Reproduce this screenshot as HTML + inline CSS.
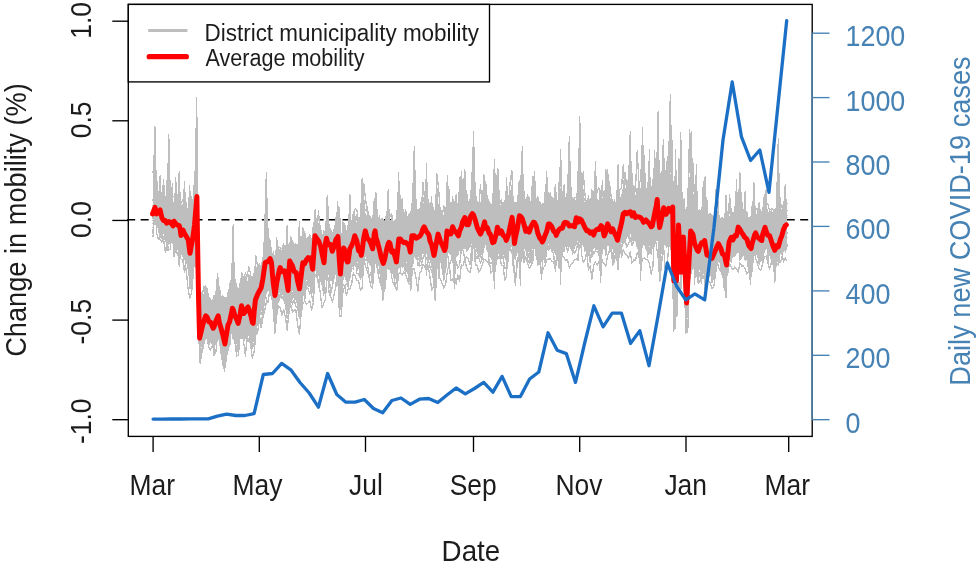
<!DOCTYPE html>
<html lang="en"><head><meta charset="utf-8"><title>Mobility and COVID-19 cases</title>
<style>html,body{margin:0;padding:0;background:#fff}svg text{font-family:"Liberation Sans",Arial,Helvetica,sans-serif}body{width:979px;height:565px;overflow:hidden}</style>
</head><body>
<svg width="979" height="565" viewBox="0 0 979 565" style="display:block;filter:blur(0.4px)">
<rect width="979" height="565" fill="#fff"/>
<line x1="127.2" y1="219.8" x2="812.2" y2="219.8" stroke="#000" stroke-width="1.5" stroke-dasharray="8 5.46"/>
<path d="M153.1,191.3 154.8,194.6 156.6,195.7 158.3,190.4 160.1,194.5 161.8,202.0 163.5,195.3 165.3,197.4 167.0,205.6 168.8,202.4 170.5,201.8 172.3,203.1 174.0,204.5 175.7,203.2 177.5,202.6 179.2,207.7 181.0,207.8 182.7,208.3 184.4,212.1 186.2,211.7 187.9,219.0 189.7,210.8 191.4,211.8 193.2,214.8 194.9,217.2 196.6,220.8 198.4,231.2 200.1,301.0 201.9,301.5 203.6,296.0 205.3,298.6 207.1,297.7 208.8,295.7 210.6,302.7 212.3,299.0 214.0,296.7 215.8,300.1 217.5,297.7 219.3,303.2 221.0,298.5 222.8,294.6 224.5,297.3 226.2,296.8 228.0,295.4 229.7,296.8 231.5,292.2 233.2,288.6 234.9,280.9 236.7,283.8 238.4,295.1 240.2,284.3 241.9,284.4 243.7,277.8 245.4,275.7 247.1,283.1 248.9,280.7 250.6,278.0 252.4,276.3 254.1,272.0 255.8,271.2 257.6,264.5 259.3,269.2 261.1,263.3 262.8,257.9 264.5,259.4 266.3,254.5 268.0,251.2 269.8,256.0 271.5,258.9 273.3,249.9 275.0,257.4 276.7,253.5 278.5,251.6 280.2,247.3 282.0,251.8 283.7,252.9 285.4,250.4 287.2,252.1 288.9,247.7 290.7,248.3 292.4,247.9 294.2,255.5 295.9,253.4 297.6,248.2 299.4,248.3 301.1,246.6 302.9,247.4 304.6,239.1 306.3,238.0 308.1,239.8 309.8,236.7 311.6,238.4 313.3,235.8 315.1,233.7 316.8,233.7 318.5,233.6 320.3,233.5 322.0,235.6 323.8,229.3 325.5,232.3 327.2,229.3 329.0,231.1 330.7,231.9 332.5,232.6 334.2,231.7 335.9,226.0 337.7,230.7 339.4,229.0 341.2,243.6 342.9,229.4 344.7,230.8 346.4,230.5 348.1,225.2 349.9,230.9 351.6,227.9 353.4,224.0 355.1,225.5 356.8,221.1 358.6,224.4 360.3,221.4 362.1,217.2 363.8,218.8 365.6,221.3 367.3,221.1 369.0,218.7 370.8,219.7 372.5,218.5 374.3,216.9 376.0,219.1 377.7,220.2 379.5,224.4 381.2,218.4 383.0,218.1 384.7,221.7 386.4,226.5 388.2,224.3 389.9,221.5 391.7,216.1 393.4,221.2 395.2,219.7 396.9,215.8 398.6,217.5 400.4,212.2 402.1,217.7 403.9,216.3 405.6,217.0 407.3,216.1 409.1,212.8 410.8,215.1 412.6,211.3 414.3,209.3 416.1,210.2 417.8,209.5 419.5,207.7 421.3,208.9 423.0,208.8 424.8,207.0 426.5,209.5 428.2,209.2 430.0,212.0 431.7,210.2 433.5,213.3 435.2,211.4 436.9,212.1 438.7,212.9 440.4,211.5 442.2,209.1 443.9,216.4 445.7,206.4 447.4,208.1 449.1,208.1 450.9,201.0 452.6,203.6 454.4,207.4 456.1,206.6 457.8,204.8 459.6,206.5 461.3,204.2 463.1,201.2 464.8,202.2 466.6,200.0 468.3,201.7 470.0,199.7 471.8,198.1 473.5,203.7 475.3,202.4 477.0,203.2 478.7,202.5 480.5,204.3 482.2,202.7 484.0,203.5 485.7,199.3 487.4,203.9 489.2,206.2 490.9,205.7 492.7,206.7 494.4,205.0 496.2,207.9 497.9,202.0 499.6,207.8 501.4,204.3 503.1,201.4 504.9,205.2 506.6,203.8 508.3,203.7 510.1,206.5 511.8,201.0 513.6,203.1 515.3,201.5 517.1,201.7 518.8,201.8 520.5,198.7 522.3,200.9 524.0,203.5 525.8,199.2 527.5,194.0 529.2,197.7 531.0,201.8 532.7,208.1 534.5,197.6 536.2,210.8 537.9,203.5 539.7,201.0 541.4,203.8 543.2,202.3 544.9,204.7 546.7,203.3 548.4,201.6 550.1,201.0 551.9,204.9 553.6,203.8 555.4,202.1 557.1,202.0 558.8,203.6 560.6,207.5 562.3,197.7 564.1,198.6 565.8,199.9 567.6,200.4 569.3,196.3 571.0,195.7 572.8,198.4 574.5,199.3 576.3,201.0 578.0,200.1 579.7,194.0 581.5,195.1 583.2,200.1 585.0,203.6 586.7,205.0 588.5,201.3 590.2,205.3 591.9,206.4 593.7,202.0 595.4,203.6 597.2,201.5 598.9,199.7 600.6,202.2 602.4,197.7 604.1,201.4 605.9,202.2 607.6,203.6 609.3,199.7 611.1,196.9 612.8,203.0 614.6,202.4 616.3,204.6 618.1,198.5 619.8,197.8 621.5,195.0 623.3,192.0 625.0,191.3 626.8,192.3 628.5,189.6 630.2,191.1 632.0,189.9 633.7,189.6 635.5,195.2 637.2,187.6 639.0,189.9 640.7,187.6 642.4,194.0 644.2,189.6 645.9,188.7 647.7,187.0 649.4,188.8 651.1,186.6 652.9,183.2 654.6,180.2 656.4,184.5 658.1,184.1 659.8,182.8 661.6,185.5 663.3,185.7 665.1,185.9 666.8,182.2 668.6,182.8 670.3,186.2 672.0,188.6 673.8,190.3 675.5,190.5 677.3,203.1 679.0,206.4 680.7,203.7 682.5,209.6 684.2,210.1 686.0,208.4 687.7,203.8 689.5,204.2 691.2,201.6 692.9,196.6 694.7,205.1 696.4,206.7 698.2,212.0 699.9,211.6 701.6,214.6 703.4,207.0 705.1,208.5 706.9,215.6 708.6,214.4 710.3,212.7 712.1,214.4 713.8,216.4 715.6,216.2 717.3,217.4 719.1,220.5 720.8,217.6 722.5,216.8 724.3,219.2 726.0,208.0 727.8,218.1 729.5,217.1 731.2,216.2 733.0,210.5 734.7,214.0 736.5,213.7 738.2,214.2 740.0,217.7 741.7,212.2 743.4,214.1 745.2,213.8 746.9,212.9 748.7,217.8 750.4,216.1 752.1,218.9 753.9,216.4 755.6,217.6 757.4,210.7 759.1,205.7 760.8,210.2 762.6,211.3 764.3,212.5 766.1,211.2 767.8,211.6 769.6,213.5 771.3,208.7 773.0,213.9 774.8,208.4 776.5,211.4 778.3,213.2 780.0,211.8 781.7,209.1 783.5,207.1 785.2,209.2 787.0,205.0 L787.0,243.6 785.2,243.0 783.5,248.0 781.7,247.4 780.0,244.9 778.3,253.5 776.5,254.2 774.8,249.9 773.0,252.7 771.3,250.7 769.6,251.2 767.8,252.1 766.1,248.3 764.3,252.5 762.6,249.4 760.8,248.4 759.1,252.6 757.4,253.6 755.6,256.6 753.9,252.3 752.1,253.6 750.4,254.6 748.7,257.6 746.9,255.1 745.2,252.7 743.4,253.3 741.7,250.1 740.0,250.8 738.2,250.7 736.5,253.3 734.7,251.3 733.0,253.2 731.2,256.5 729.5,256.7 727.8,259.5 726.0,256.7 724.3,265.2 722.5,262.2 720.8,265.6 719.1,261.6 717.3,263.6 715.6,263.2 713.8,259.6 712.1,262.2 710.3,264.4 708.6,267.4 706.9,262.6 705.1,264.6 703.4,264.4 701.6,262.0 699.9,266.8 698.2,261.6 696.4,263.9 694.7,263.5 692.9,267.2 691.2,276.1 689.5,277.0 687.7,273.4 686.0,281.3 684.2,277.2 682.5,273.2 680.7,270.2 679.0,271.0 677.3,266.6 675.5,263.5 673.8,256.1 672.0,253.5 670.3,249.6 668.6,243.3 666.8,234.6 665.1,239.0 663.3,235.9 661.6,238.7 659.8,236.0 658.1,242.0 656.4,240.5 654.6,241.3 652.9,238.9 651.1,237.0 649.4,240.0 647.7,239.5 645.9,241.5 644.2,240.4 642.4,240.8 640.7,229.3 639.0,234.3 637.2,235.3 635.5,234.2 633.7,235.1 632.0,231.6 630.2,235.0 628.5,235.4 626.8,235.1 625.0,242.3 623.3,244.8 621.5,240.8 619.8,242.5 618.1,241.7 616.3,241.8 614.6,248.4 612.8,244.8 611.1,244.5 609.3,244.7 607.6,242.1 605.9,239.6 604.1,244.2 602.4,243.0 600.6,244.0 598.9,240.4 597.2,239.2 595.4,242.9 593.7,246.3 591.9,248.0 590.2,244.9 588.5,242.3 586.7,242.3 585.0,239.3 583.2,239.6 581.5,240.5 579.7,241.4 578.0,240.6 576.3,239.2 574.5,239.4 572.8,237.8 571.0,239.5 569.3,240.3 567.6,240.4 565.8,239.0 564.1,240.3 562.3,248.6 560.6,245.5 558.8,245.5 557.1,243.9 555.4,247.0 553.6,245.1 551.9,244.9 550.1,244.7 548.4,242.7 546.7,247.1 544.9,248.3 543.2,240.2 541.4,248.8 539.7,250.1 537.9,245.6 536.2,248.0 534.5,241.7 532.7,241.7 531.0,245.2 529.2,245.7 527.5,244.8 525.8,247.9 524.0,245.0 522.3,247.7 520.5,245.0 518.8,244.6 517.1,242.5 515.3,237.7 513.6,240.1 511.8,247.1 510.1,247.0 508.3,247.2 506.6,250.1 504.9,246.2 503.1,249.2 501.4,256.3 499.6,252.7 497.9,250.7 496.2,254.4 494.4,257.0 492.7,250.5 490.9,246.9 489.2,246.7 487.4,250.3 485.7,242.2 484.0,248.9 482.2,245.5 480.5,249.6 478.7,244.0 477.0,242.3 475.3,248.0 473.5,242.3 471.8,239.3 470.0,241.0 468.3,245.0 466.6,241.7 464.8,244.9 463.1,245.6 461.3,246.5 459.6,247.2 457.8,245.4 456.1,248.7 454.4,251.3 452.6,255.4 450.9,251.8 449.1,250.1 447.4,251.3 445.7,261.4 443.9,256.6 442.2,257.8 440.4,260.5 438.7,259.6 436.9,257.9 435.2,261.0 433.5,257.4 431.7,260.3 430.0,253.6 428.2,256.3 426.5,252.7 424.8,257.7 423.0,252.2 421.3,255.1 419.5,252.4 417.8,247.7 416.1,255.1 414.3,256.9 412.6,257.4 410.8,257.9 409.1,256.1 407.3,258.8 405.6,266.1 403.9,258.5 402.1,263.4 400.4,263.1 398.6,262.8 396.9,266.4 395.2,269.9 393.4,262.7 391.7,260.0 389.9,264.8 388.2,263.8 386.4,267.1 384.7,266.1 383.0,265.0 381.2,262.6 379.5,266.5 377.7,260.3 376.0,265.4 374.3,260.4 372.5,258.8 370.8,260.0 369.0,253.4 367.3,249.8 365.6,251.8 363.8,262.0 362.1,259.4 360.3,259.7 358.6,261.8 356.8,261.5 355.1,261.8 353.4,261.9 351.6,264.2 349.9,263.8 348.1,269.6 346.4,272.2 344.7,276.7 342.9,275.8 341.2,273.9 339.4,274.2 337.7,272.4 335.9,276.2 334.2,263.2 332.5,265.3 330.7,265.3 329.0,268.8 327.2,268.0 325.5,266.7 323.8,266.3 322.0,273.7 320.3,271.4 318.5,276.5 316.8,271.6 315.1,268.9 313.3,274.9 311.6,273.9 309.8,277.9 308.1,274.0 306.3,281.3 304.6,286.7 302.9,288.8 301.1,292.3 299.4,293.6 297.6,293.2 295.9,294.5 294.2,297.1 292.4,290.4 290.7,298.7 288.9,292.5 287.2,294.9 285.4,291.4 283.7,297.8 282.0,292.1 280.2,292.6 278.5,294.0 276.7,293.3 275.0,295.2 273.3,290.3 271.5,291.0 269.8,290.1 268.0,291.1 266.3,293.4 264.5,296.9 262.8,299.8 261.1,305.1 259.3,308.4 257.6,321.1 255.8,320.4 254.1,325.4 252.4,323.4 250.6,328.9 248.9,330.0 247.1,326.3 245.4,330.7 243.7,330.3 241.9,329.1 240.2,329.3 238.4,325.9 236.7,331.2 234.9,330.3 233.2,336.6 231.5,334.2 229.7,337.0 228.0,342.4 226.2,346.5 224.5,345.1 222.8,344.4 221.0,343.5 219.3,340.6 217.5,338.4 215.8,337.9 214.0,335.7 212.3,335.1 210.6,336.1 208.8,330.8 207.1,334.3 205.3,338.1 203.6,341.6 201.9,341.7 200.1,344.6 198.4,278.4 196.6,269.2 194.9,267.5 193.2,263.5 191.4,257.5 189.7,257.3 187.9,256.0 186.2,257.9 184.4,252.8 182.7,247.1 181.0,244.4 179.2,246.8 177.5,240.3 175.7,234.5 174.0,238.6 172.3,234.8 170.5,236.2 168.8,234.6 167.0,234.5 165.3,231.5 163.5,229.2 161.8,235.1 160.1,224.3 158.3,227.6 156.6,218.0 154.8,221.7 153.1,216.6Z" fill="#bebebe" stroke="none" shape-rendering="crispEdges"/>
<g transform="translate(153.1,0) scale(1.7414,1)" fill="none" stroke="#bebebe" stroke-width="1.33" stroke-linejoin="round" shape-rendering="crispEdges">
<path vector-effect="non-scaling-stroke" d="M0 211.0l1-84 1 80 1 5 1 2 1 7 1-8 1 7 1 3 1-12 1 9 1 5 1 4 1-22 1 21 1 1 1-2 1 4 1 0 1-3 1 6 1 12 1 3 1-23 1-10 1-36 1 108 1 50 1-19 1-4 1-11 1 14 1-3 1 6 1-1 1 3 1-6 1-7 1 9 1 1 1 9 1 19 1-15 1-17 1-5 1-11 1 2 1 9 1-2 1 12 1-27 1 13 1-4 1 2 1-1 1-1 1 10 1 0 1-7 1-12 1 3 1-18 1 5 1-8 1-13 1-17 1 11 1-6 1 10 1 23 1 10 1-12 1-11 1-4 1-1 1 3 1 2 1 15 1-10 1-18 1 4 1 2 1 5 1 8 1 14 1-19 1-16 1 3 1-2 1-2 1 5 1 2 1 2 1-30 1 1 1 6 1-6 1 17 1 15 1-24 1-8 1 6 1 7 1 3 1-8 1-10 1-4 1 28 1 11 1 4 1-26 1 9 1 2 1-35 1 28 1-9 1-10 1 6 1 13 1 3 1-36 1 13 1-1 1 0 1 7 1 2 1 8 1-36 1 20 1 3 1 12 1 5 1 6 1-3 1-10 1-7 1 3 1 6 1-4 1 16 1 0 1-25 1-15 1 18 1-3 1 5 1 3 1 7 1-10 1-9 1 1 1 2 1-3 1 12 1-14 1-5 1-14 1 10 1 9 1 8 1 7 1 5 1-8 1-15 1 4 1 3 1 14 1 1 1-9 1-22 1 11 1-4 1 0 1 1 1 2 1 0 1-2 1-3 1-10 1 1 1 2 1 3 1 8 1-50 1 32 1 6 1 10 1-8 1 16 1-11 1-5 1 6 1-2 1 9 1 3 1 5 1 54 1-65 1 5 1 2 1 0 1-6 1 13 1 3 1-6 1-22 1 8 1 18 1-3 1-9 1-20 1-6 1 22 1 11 1-31 1 26 1 3 1-7 1-20 1 13 1-3 1 12 1-7 1 17 1 0 1-9 1 1 1-7 1-7 1-1 1 5 1 6 1 2 1-1 1 4 1-11 1 5 1-5 1 3 1-41 1 11 1 30 1-6 1-3 1 6 1-3 1-3 1-22 1 35 1-8 1 5 1-5 1 8 1-9 1 5 1-10 1 7 1 1 1-7 1 9 1 4 1-10 1-1 1 3 1 1 1 9 1 0 1 5 1-17 1-1 1-12 1 5 1 1 1-4 1-72 1 83 1-7 1-4 1 6 1-3 1 3 1 3 1-2 1-1 1 0 1-8 1 12 1-1 1-15 1-17 1-30 1 22 1 41 1-5 1-8 1-4 1 4 1-16 1-2 1 105 1-8 1-25 1-47 1 22 1 15 1 6 1 16 1 16 1-42 1-20 1-17 1 29 1 15 1-4 1-2 1 6 1-16 1-6 1 22 1-2 1-1 1 9 1 3 1-12 1-5 1-3 1 7 1 7 1 6 1 8 1-13 1-21 1 4 1-2 1-5 1 3 1-1 1-18 1 18 1 5 1 0 1 3 1 5 1 5 1-4 1-9 1-6 1 10 1 5 1-9 1-1 1-10 1 6 1 7 1-17 1 20 1 3 1 7 1-7 1-15 1 9 1-1 1-4 1-3 1-5"/>
<path vector-effect="non-scaling-stroke" d="M0 209.0l1-5 1 4 1 4 1 7 1 0 1-1 1-2 1 7 1 3 1-14 1 14 1-5 1 2 1 1 1 3 1 14 1-10 1 1 1 7 1 2 1 14 1-5 1-14 1-23 1-28 1 108 1 45 1-9 1-3 1-7 1-2 1 6 1 7 1-2 1 0 1-7 1-6 1 12 1-3 1 24 1 2 1-7 1-21 1 3 1-13 1 3 1 2 1 8 1 5 1-17 1-11 1 15 1 3 1-5 1-2 1 10 1-1 1-1 1-18 1-2 1-4 1-6 1-3 1-16 1-3 1-5 1-7 1 16 1 16 1 20 1-13 1-24 1 5 1-5 1 4 1 4 1 13 1-15 1-11 1 6 1 2 1 5 1 7 1 13 1-18 1-14 1-2 1 0 1-12 1 8 1 6 1-2 1-31 1 12 1 9 1-2 1 6 1 16 1-22 1 0 1-5 1 10 1 6 1-12 1-3 1-6 1 33 1 20 1-34 1 1 1 0 1 8 1-9 1-13 1 2 1-6 1 1 1 9 1 11 1-8 1-12 1-6 1 13 1-3 1-23 1 29 1-17 1 2 1 13 1 0 1 8 1-1 1 7 1-11 1-30 1 17 1 12 1 7 1 4 1-4 1-23 1 9 1-4 1 0 1 7 1 2 1 10 1-5 1-7 1-3 1-2 1-4 1 7 1-5 1-10 1 2 1 5 1-3 1 9 1 6 1 6 1-6 1-37 1 19 1 6 1 7 1 11 1-12 1-26 1 24 1-15 1 4 1-5 1 8 1 12 1-18 1 2 1-3 1-3 1 4 1-1 1-5 1-6 1-1 1 7 1 5 1 19 1-11 1-8 1-30 1 16 1 25 1-1 1 0 1 3 1-1 1-12 1-19 1 21 1 3 1 14 1-7 1 14 1-30 1-6 1-4 1 16 1 4 1-5 1-25 1 10 1 2 1 10 1-1 1-7 1 17 1-9 1-2 1-15 1 17 1 4 1 6 1 17 1-11 1-14 1 0 1-7 1-12 1 12 1 5 1 14 1-20 1 13 1-5 1-6 1-1 1 0 1-40 1-31 1 69 1 1 1 2 1 1 1-1 1-2 1 3 1-4 1 4 1 4 1 1 1 4 1 12 1-12 1-11 1 6 1 2 1 2 1 0 1 0 1-1 1-8 1 6 1-12 1 9 1-10 1 18 1 10 1-33 1 24 1-29 1 6 1 3 1-3 1-24 1 20 1 5 1 2 1-1 1-3 1 17 1-57 1 52 1-29 1 21 1 7 1-3 1 3 1-32 1 12 1 7 1 21 1-5 1-30 1 10 1 14 1-7 1-7 1-8 1 94 1-5 1-21 1-33 1 33 1-35 1 29 1 35 1-3 1-33 1-28 1 10 1 1 1 12 1-5 1-6 1-1 1-5 1 3 1 17 1-7 1 1 1 4 1-4 1-30 1 26 1 1 1-2 1 4 1 3 1 8 1-26 1 4 1-6 1-4 1 3 1-27 1 25 1-17 1-10 1 35 1 2 1 0 1 3 1 0 1 2 1-10 1-3 1-1 1 3 1 3 1-4 1-14 1-31 1 42 1 4 1 5 1 4 1 4 1-41 1 32 1-5 1 1 1-7 1-5 1 0"/>
<path vector-effect="non-scaling-stroke" d="M0 203.0l1 2 1-1 1-2 1 3 1 6 1 3 1-4 1 11 1-15 1 21 1-8 1-2 1-1 1-3 1 1 1 8 1 2 1 5 1-4 1-10 1 73 1-41 1-15 1-30 1-17 1 99 1 66 1-9 1-28 1-10 1 5 1 9 1 3 1-5 1 4 1-9 1-8 1 2 1 11 1 4 1 25 1-28 1-9 1-2 1-21 1 9 1 7 1-3 1 7 1-2 1 2 1-8 1-6 1 4 1-3 1 3 1 10 1-2 1-15 1-9 1-12 1 16 1 0 1-21 1-8 1 1 1-2 1 7 1 13 1 15 1-25 1-6 1 1 1 10 1-22 1 21 1 12 1-16 1-12 1-4 1 11 1 3 1 9 1-47 1 51 1-21 1-5 1 2 1-5 1 10 1 0 1 1 1-32 1 16 1-12 1 10 1 3 1 12 1-11 1-18 1 11 1 3 1 11 1-16 1-2 1 0 1 23 1 9 1-5 1-27 1 20 1 3 1-37 1 11 1-1 1-4 1 13 1 6 1 3 1-13 1-17 1 4 1 11 1-3 1 15 1-4 1-37 1 19 1 15 1 5 1 4 1 17 1-12 1-10 1-3 1-6 1 15 1-3 1 19 1-19 1-17 1 3 1-28 1 34 1-9 1 10 1 2 1 20 1-33 1 3 1-1 1 0 1 9 1-10 1-3 1-1 1 4 1-2 1 1 1 14 1 4 1-12 1-13 1 11 1 4 1 2 1 13 1-10 1-15 1 5 1 8 1-2 1-2 1-2 1 1 1 0 1-11 1 0 1-48 1 36 1 15 1 18 1-27 1 2 1 6 1 2 1 7 1 2 1 4 1-13 1-14 1 11 1 4 1 2 1 2 1-67 1 54 1-1 1 11 1-2 1 2 1 15 1-5 1-11 1-11 1-5 1 31 1-2 1-20 1-2 1-5 1-25 1 30 1 0 1-4 1 12 1 0 1-7 1 0 1 5 1-23 1 27 1 11 1 6 1-17 1-7 1 4 1 10 1-16 1 7 1 1 1-1 1 1 1-4 1-11 1 11 1-3 1 3 1-6 1 3 1 3 1 4 1-11 1-2 1 1 1 10 1-9 1 10 1-4 1 0 1-4 1 9 1 2 1-14 1 4 1-2 1 4 1 4 1-19 1-20 1 28 1 0 1 4 1-1 1 5 1 3 1-12 1 7 1-13 1 2 1-6 1 4 1 1 1-7 1 5 1 1 1 1 1 7 1-2 1-8 1 11 1-5 1 0 1-6 1 6 1 4 1 1 1-10 1-19 1 24 1 6 1-9 1-6 1-5 1 12 1-16 1 1 1-10 1 82 1-5 1-17 1-24 1 26 1-11 1 3 1 23 1 16 1-44 1-32 1 6 1 27 1 1 1 3 1-7 1 2 1-6 1 5 1 10 1 2 1-14 1 4 1-3 1 10 1-9 1 5 1 0 1 3 1-9 1 54 1-12 1-46 1 2 1 1 1-9 1 6 1-4 1 1 1 5 1 0 1 2 1 2 1 0 1 6 1 1 1-12 1-4 1-5 1 21 1-2 1-6 1-6 1-3 1 9 1-4 1 6 1 5 1 1 1 1 1-36 1 29 1-3 1-6 1 9 1-13"/>
<path vector-effect="non-scaling-stroke" d="M0 218.0l1-32 1 26 1 7 1-28 1 10 1 32 1-9 1 0 1-28 1 28 1 0 1 7 1-53 1 61 1-10 1-8 1 19 1-3 1 5 1 5 1 22 1-14 1-5 1-23 1-17 1 87 1 51 1-12 1-7 1-3 1-1 1 5 1-1 1 7 1 1 1-10 1 0 1 1 1 12 1 12 1-2 1-15 1-4 1 4 1-28 1 6 1 8 1 16 1-4 1-5 1-7 1 2 1 4 1-6 1 1 1 3 1-14 1 14 1-18 1-4 1 5 1-10 1-11 1-3 1-16 1 1 1 2 1 11 1 9 1 26 1-59 1 27 1 2 1-14 1 7 1 13 1-39 1 30 1-8 1 5 1 1 1-7 1 7 1-22 1 16 1-7 1 7 1-3 1-6 1 9 1-3 1 3 1-30 1 7 1 2 1 5 1 3 1 9 1-8 1-15 1 8 1 8 1-1 1-5 1 1 1-14 1 19 1 19 1-23 1-2 1 13 1-5 1 11 1-19 1-5 1-9 1 4 1 9 1 6 1-9 1-10 1-8 1 3 1 8 1 5 1 4 1-20 1-14 1 19 1 9 1 3 1 18 1-12 1-28 1 18 1 8 1 1 1-1 1 2 1-8 1-9 1-13 1 18 1-1 1 6 1 0 1 5 1-9 1-50 1-33 1 83 1-2 1 2 1-4 1-4 1-6 1 7 1-4 1 11 1-4 1 25 1-8 1-17 1 2 1 5 1-8 1 13 1-8 1-21 1 17 1-3 1-5 1 4 1 3 1-13 1 6 1-1 1-7 1-32 1 39 1 9 1-13 1-9 1 6 1 3 1 4 1-19 1 29 1-42 1-18 1 45 1 4 1 5 1-9 1 23 1-6 1-5 1-9 1-5 1-4 1 16 1 1 1-44 1 12 1 16 1-1 1 10 1 12 1-17 1 3 1-6 1-34 1 38 1 0 1 1 1 6 1-2 1-11 1 10 1-12 1-2 1 18 1 3 1 1 1-4 1-67 1 65 1-1 1-5 1 3 1 6 1-4 1 18 1 19 1-55 1 16 1-2 1-3 1-2 1 1 1 0 1 4 1-4 1-4 1 3 1 0 1-10 1 14 1 3 1 10 1-9 1 2 1-22 1 0 1 24 1-11 1 22 1-38 1 30 1-5 1-16 1 8 1 2 1-2 1 8 1 6 1-23 1 9 1-3 1-12 1 9 1-9 1 8 1-4 1-7 1 13 1-6 1 7 1 32 1-30 1-48 1 47 1-2 1 6 1 3 1-6 1-5 1-13 1 2 1 3 1 29 1-16 1-3 1-6 1 5 1 5 1-25 1 11 1 63 1-53 1 33 1-15 1 27 1-12 1 5 1 41 1-7 1-37 1-15 1-2 1 2 1 15 1 5 1-7 1-5 1-1 1-8 1 18 1 0 1 5 1-4 1 2 1-10 1 0 1 0 1 12 1 5 1-9 1 8 1-11 1-5 1-9 1-12 1 1 1 6 1 0 1 1 1-3 1 4 1 3 1-3 1-11 1 23 1-3 1-2 1-9 1 8 1-4 1 4 1-2 1-12 1-17 1 45 1-11 1-21 1 20 1 4 1 0 1-10 1-4 1 6 1-12 1-9 1-2"/>
<path vector-effect="non-scaling-stroke" d="M0 216.0l1-5 1 3 1 9 1-7 1 6 1 3 1-2 1 5 1 8 1-10 1 6 1 0 1-5 1 9 1-2 1 0 1-2 1 4 1-1 1 14 1 10 1-14 1-2 1-16 1-13 1 77 1 60 1-17 1-20 1 7 1 3 1 6 1-4 1 0 1 1 1-3 1-5 1 5 1 5 1 9 1 12 1-4 1-21 1-4 1-3 1-7 1 7 1 0 1 4 1-11 1 2 1-4 1 5 1-2 1-1 1 13 1-5 1-6 1-11 1-6 1-3 1-10 1-8 1-3 1-8 1 3 1-8 1 8 1 19 1 8 1-56 1 37 1 2 1-5 1 2 1 8 1 6 1-7 1-2 1-11 1 10 1-3 1-4 1 13 1-8 1-13 1 5 1-4 1-10 1 13 1-1 1-5 1-23 1 6 1 11 1-2 1 5 1 8 1-34 1 16 1 0 1 5 1-9 1 13 1-25 1 3 1-1 1 37 1-8 1-10 1 3 1 1 1-2 1-8 1-4 1-2 1 2 1 6 1-7 1 7 1-4 1-6 1-3 1 14 1-10 1 6 1-40 1 31 1 9 1 2 1-1 1 16 1-8 1 2 1-14 1 1 1 1 1 7 1 6 1-4 1-21 1 9 1 2 1-6 1 6 1-3 1-3 1 8 1-10 1-33 1 22 1 12 1 1 1-5 1-3 1-3 1 3 1-2 1 18 1-8 1 11 1 3 1-10 1-3 1 2 1 2 1 11 1-13 1-7 1-13 1 12 1 11 1 44 1-49 1 3 1-3 1-3 1-15 1 8 1 3 1-13 1 7 1-5 1 2 1-9 1 20 1 5 1 6 1-10 1 2 1-6 1 0 1 1 1 1 1 8 1-1 1-1 1-5 1 2 1 1 1 3 1 0 1 8 1-23 1 4 1-4 1 10 1 13 1-12 1-9 1 16 1-58 1 47 1 0 1-3 1 12 1-5 1 2 1-1 1 4 1 6 1 2 1-2 1 2 1-1 1-13 1-1 1-4 1 5 1 3 1 6 1-9 1-2 1 18 1-18 1 2 1-6 1 4 1-13 1 13 1 5 1-8 1 0 1-2 1-71 1 23 1 44 1 9 1 5 1-2 1 4 1-6 1 3 1 0 1 2 1-14 1 6 1 2 1 4 1-11 1 3 1 3 1 1 1-2 1 7 1 2 1 0 1 4 1-9 1-28 1 20 1-18 1 3 1 2 1 3 1 8 1 1 1 3 1-8 1-10 1 16 1 6 1-12 1 10 1-26 1 26 1-5 1-1 1-9 1-11 1 23 1-10 1-5 1-7 1 10 1 0 1-23 1 22 1 71 1-17 1 2 1-31 1 25 1 4 1-12 1 33 1-10 1-14 1-33 1 8 1 6 1-3 1 15 1-8 1-3 1 5 1-4 1 8 1 3 1 0 1-1 1-4 1-5 1 2 1-7 1 24 1-15 1 5 1 4 1-23 1 5 1 0 1 2 1-8 1 3 1-6 1-10 1 8 1 11 1-3 1 5 1-6 1 13 1-13 1 3 1 0 1-3 1 4 1 4 1-8 1-4 1-4 1 3 1 6 1 3 1 15 1 14 1-23 1-5 1-2 1-2 1-1 1-5 1-4"/>
<path vector-effect="non-scaling-stroke" d="M0 224.0l1-4 1-5 1 9 1-2 1 2 1-1 1 13 1-1 1 5 1-9 1 6 1 6 1-2 1-3 1-1 1 6 1 13 1-9 1 11 1-1 1-35 1 45 1-7 1-30 1-25 1 109 1 35 1-7 1-6 1-11 1-7 1 16 1 1 1 5 1 0 1 1 1-13 1 12 1-1 1 15 1 13 1-19 1-10 1-7 1-12 1 5 1 9 1 1 1 13 1-46 1-3 1 26 1 3 1-5 1-9 1 17 1 7 1-4 1-19 1 0 1-3 1-3 1-11 1-10 1 2 1-10 1-5 1 8 1 18 1 14 1-13 1-10 1-8 1 5 1-14 1 20 1 10 1-8 1-31 1 17 1 7 1 10 1 1 1 7 1-14 1-10 1 4 1-16 1 4 1 3 1 16 1-14 1-29 1 15 1 21 1-12 1 1 1 14 1-17 1-3 1 3 1-3 1 12 1-5 1-11 1-3 1 34 1 10 1-28 1-8 1 4 1 1 1-5 1-3 1-6 1-3 1 8 1-1 1 8 1-5 1-32 1 19 1-27 1 30 1 3 1 11 1-14 1-8 1 3 1 8 1 9 1 29 1-30 1-6 1-24 1 0 1 20 1 12 1 3 1-3 1-20 1-1 1 8 1-3 1-6 1 13 1 19 1-24 1-10 1-2 1 5 1 14 1 0 1-16 1 1 1-19 1 16 1 6 1 3 1 6 1 9 1-2 1-13 1-6 1 5 1 3 1 1 1-7 1-2 1 0 1 3 1 9 1-2 1-8 1-45 1-19 1 65 1-52 1-20 1 66 1-1 1-1 1-11 1-4 1 14 1 6 1 2 1 3 1-5 1-13 1 7 1 3 1 3 1 1 1-2 1 15 1-13 1-4 1-1 1 8 1 3 1-2 1 7 1-12 1-16 1-6 1 23 1 8 1-9 1-12 1 11 1-7 1-4 1 7 1 9 1 1 1-19 1 8 1-5 1 7 1 18 1-18 1 14 1-4 1 6 1-10 1-16 1 6 1 7 1-1 1 5 1-4 1-3 1-37 1 35 1 8 1-13 1 3 1 1 1-1 1 11 1-9 1 0 1-11 1 3 1-11 1 13 1 4 1-4 1 10 1-4 1 0 1-6 1 12 1-7 1 2 1-12 1 11 1 1 1-40 1 34 1 3 1 1 1-5 1 13 1-4 1-7 1 5 1-9 1-3 1 1 1-1 1 3 1 4 1-5 1 1 1 4 1-6 1 19 1-20 1-4 1 13 1-8 1 23 1-17 1-3 1 5 1-13 1-17 1 16 1 19 1-13 1-1 1-2 1-8 1 12 1-14 1-13 1 73 1-82 1 59 1-21 1 35 1-18 1 12 1 38 1-14 1-24 1-35 1 19 1 14 1 11 1-3 1-9 1 0 1-3 1-46 1 58 1-4 1 3 1-1 1-2 1-41 1 15 1 17 1-8 1 13 1 6 1-6 1-5 1-17 1 9 1-6 1 7 1 0 1-6 1 4 1-8 1 7 1 3 1-3 1 16 1 6 1-6 1-47 1 36 1-2 1 2 1 5 1-10 1-18 1 18 1-3 1 7 1 0 1-1 1 9 1-19 1 6 1-6 1 5 1-5 1-3 1 8"/>
<path vector-effect="non-scaling-stroke" d="M0 228.0l1-20 1 6 1 11 1 1 1 5 1-4 1 4 1 8 1-51 1 50 1-1 1 1 1 3 1-3 1 1 1-19 1 6 1 14 1 8 1 3 1 18 1 1 1-21 1-23 1-12 1 103 1 39 1-28 1 3 1-6 1 1 1 0 1 10 1-1 1-8 1-2 1 1 1-1 1 14 1 5 1 9 1-9 1-14 1 2 1-12 1 2 1 9 1-2 1-10 1 4 1-9 1 12 1-5 1 2 1-12 1 17 1 5 1-4 1-15 1-2 1-10 1 3 1 0 1-24 1 5 1-5 1-7 1 16 1 5 1 14 1-8 1-20 1 8 1 2 1-2 1 8 1 12 1-20 1-11 1 8 1-11 1 14 1 13 1 12 1-15 1-20 1 7 1 1 1-4 1 0 1 1 1-13 1-14 1 0 1 8 1 3 1 7 1 9 1-14 1-11 1 6 1 0 1 7 1 6 1-18 1-12 1 22 1 20 1-18 1-3 1 12 1-8 1-8 1-10 1-5 1-3 1 15 1-1 1 7 1-2 1-24 1-1 1 8 1-1 1 8 1 10 1-15 1-14 1 11 1 16 1 3 1 6 1-2 1-16 1 14 1-21 1 13 1 4 1 4 1 1 1-52 1 28 1 1 1 9 1 0 1-1 1 5 1 1 1-16 1 1 1 11 1-7 1 0 1-3 1-13 1 6 1 7 1 1 1 9 1 1 1 9 1-8 1-19 1-1 1 8 1 5 1 10 1-7 1-9 1 1 1-2 1-18 1 18 1 0 1 5 1-1 1 0 1-9 1-9 1 9 1-7 1 6 1-2 1-2 1-1 1 9 1 2 1 7 1-6 1-39 1 30 1 7 1-1 1 14 1 4 1 16 1-30 1-9 1 3 1-4 1-6 1 24 1-13 1 2 1-2 1-19 1 28 1 4 1-10 1-12 1-4 1 10 1 0 1 1 1-2 1 9 1 15 1-56 1 23 1 9 1 5 1 3 1 0 1 2 1-2 1-32 1 24 1-3 1 4 1-13 1 15 1 2 1-4 1-2 1-2 1-3 1-13 1 19 1-36 1 6 1 26 1-1 1 4 1-6 1-2 1 3 1 11 1-8 1-4 1 7 1 6 1-10 1-35 1-24 1 56 1 0 1 5 1 1 1 6 1-1 1-10 1 5 1-4 1 4 1 5 1 6 1 2 1-10 1-8 1-11 1 4 1 4 1-4 1-1 1 1 1 2 1 1 1-5 1 4 1 1 1-10 1 17 1 0 1-5 1 4 1-1 1 7 1-13 1-13 1-102 1 143 1-20 1 8 1 0 1-19 1 4 1-1 1-18 1 94 1-84 1 57 1-39 1 38 1-6 1-11 1 47 1-4 1-37 1-21 1 12 1-3 1 13 1 0 1-7 1 1 1-7 1-5 1 20 1 4 1 4 1 0 1-10 1-6 1-31 1 30 1 4 1 5 1 6 1 2 1-5 1-17 1-1 1 2 1-2 1-2 1 2 1-8 1 5 1-1 1 4 1 6 1 9 1 1 1-8 1-6 1-1 1-1 1-1 1-6 1 9 1-12 1 2 1 3 1 4 1 3 1 3 1 4 1-7 1-4 1 1 1-3 1-6 1-6 1 4"/>
<path vector-effect="non-scaling-stroke" d="M0 226.0l1-4 1 3 1 2 1 5 1-1 1 9 1-2 1-1 1-69 1 20 1 20 1 35 1-1 1 1 1-6 1 10 1 5 1 7 1 0 1 1 1 6 1 2 1-5 1-10 1-12 1 80 1 31 1-2 1-12 1 1 1-4 1-9 1 15 1-2 1 17 1-24 1 6 1-3 1 12 1 4 1 13 1-13 1-5 1 0 1-20 1 8 1-3 1 12 1 3 1-17 1 5 1-3 1 0 1 10 1-11 1 2 1 7 1 1 1-5 1-15 1 0 1-2 1-1 1-27 1 9 1 4 1-14 1 5 1 16 1-51 1-13 1 56 1-6 1 3 1-2 1 8 1 8 1-4 1-14 1 9 1-4 1 6 1 2 1 10 1-15 1-15 1 4 1-5 1 2 1 5 1-6 1 1 1-20 1-1 1-5 1 11 1 5 1 9 1-13 1-6 1 1 1 10 1 1 1-14 1 3 1 1 1-47 1 11 1 41 1 0 1 4 1-1 1-14 1-12 1 12 1-2 1 3 1-1 1 3 1 10 1-14 1-13 1 3 1 9 1 0 1 12 1-47 1 35 1 0 1 3 1 7 1 6 1-7 1-5 1-14 1 7 1 13 1 1 1 3 1-9 1-7 1 0 1-2 1 0 1 3 1-13 1 15 1-4 1-12 1 4 1 1 1 6 1 0 1-4 1-3 1-4 1 0 1 7 1-5 1 11 1 7 1-11 1-6 1 1 1 2 1 5 1 6 1-11 1-7 1-13 1 19 1 0 1 1 1-1 1 2 1-39 1 25 1 4 1-6 1 2 1 8 1-10 1-58 1-31 1 94 1 8 1 3 1 2 1-8 1-10 1-11 1 15 1 9 1-8 1 18 1-10 1-1 1-8 1 5 1 4 1-3 1 8 1-19 1 11 1-13 1 0 1 23 1-5 1-10 1-6 1 5 1 3 1-4 1 2 1 5 1-1 1 0 1-4 1-1 1 12 1-7 1 12 1-6 1-3 1 0 1-12 1 3 1-4 1 5 1 7 1-3 1-10 1 2 1 17 1-8 1-3 1-2 1 0 1 1 1 1 1-3 1-4 1 4 1-3 1 10 1-14 1 4 1-1 1-5 1 9 1 5 1 9 1-13 1-3 1 8 1-5 1-8 1 15 1-6 1 3 1-3 1 2 1 6 1-7 1-1 1 1 1-5 1 6 1-8 1-6 1 3 1 0 1-1 1-1 1-11 1 15 1 4 1-5 1 0 1 22 1-17 1 4 1-7 1 14 1-9 1 0 1-4 1-45 1 20 1 13 1 17 1-4 1-8 1-8 1 7 1-38 1 23 1 8 1 67 1-8 1 8 1-25 1-31 1 15 1 11 1 37 1 6 1-18 1-31 1 9 1-10 1 12 1 0 1-6 1 0 1-2 1-81 1 83 1-13 1 17 1 1 1-1 1-3 1-6 1 1 1 4 1 0 1 4 1-35 1 35 1-13 1-1 1 1 1-11 1-19 1 19 1 5 1 7 1-5 1-2 1 9 1 4 1 2 1-6 1 0 1-3 1 0 1 4 1 4 1-6 1-7 1-4 1 7 1-1 1 12 1-6 1 13 1-8 1-1 1-5 1 1 1-6 1-14 1 11"/>
<path vector-effect="non-scaling-stroke" d="M0 230.0l1-11 1 0 1 2 1 2 1 4 1 0 1 5 1 1 1-7 1 7 1-4 1 4 1 9 1-6 1 6 1-2 1-1 1 12 1-4 1-2 1 15 1-1 1-14 1-9 1-20 1 89 1 44 1-12 1-6 1-15 1 11 1 18 1-9 1-1 1 7 1-5 1-12 1 5 1 10 1 0 1 12 1-3 1-11 1-3 1-15 1-2 1 9 1-2 1 19 1-27 1-1 1 5 1 8 1-10 1 6 1 1 1 3 1-13 1-4 1-3 1-1 1-5 1-9 1-16 1 0 1-14 1 9 1 10 1 13 1 13 1-9 1-13 1-4 1-1 1 5 1 10 1-48 1 42 1-15 1 8 1 9 1-19 1 26 1 6 1-9 1-18 1-17 1 16 1-2 1-3 1 3 1 1 1-23 1 4 1-8 1 11 1 12 1 9 1-13 1-12 1 4 1 11 1-1 1-10 1-1 1-4 1 21 1 32 1-42 1-5 1 12 1-3 1-6 1-5 1-8 1-1 1-1 1 10 1 1 1 16 1-16 1-15 1 10 1-1 1 2 1 7 1-10 1-23 1 25 1 4 1 14 1-1 1-4 1-27 1 14 1 8 1-3 1 8 1 4 1-8 1-11 1-8 1 5 1 4 1 1 1 4 1-5 1-5 1-33 1 36 1 6 1-4 1-1 1 0 1-7 1-9 1 13 1 3 1 2 1 10 1 6 1-53 1-20 1 79 1-23 1 7 1 6 1-11 1-11 1 4 1 1 1 8 1-12 1 5 1 3 1-13 1 5 1-5 1 2 1 0 1 4 1-1 1-31 1 29 1 10 1 4 1-6 1-1 1-3 1-14 1 7 1 3 1 6 1 5 1-7 1 13 1-23 1 4 1 0 1-3 1 11 1 1 1-1 1 2 1-24 1 13 1 11 1 5 1-17 1 0 1-44 1 46 1 0 1 1 1-3 1 9 1-16 1 8 1-2 1-1 1 8 1 0 1 32 1-29 1-4 1-3 1 7 1-8 1 0 1 7 1-1 1-3 1 7 1-17 1 9 1 3 1-16 1 11 1-44 1 33 1 4 1-1 1 0 1-2 1-1 1-10 1 15 1 0 1 4 1 2 1 1 1 0 1 3 1-37 1 29 1 15 1 18 1-32 1 0 1 3 1 0 1-6 1-1 1 7 1 1 1-7 1-71 1 85 1-23 1 1 1-12 1 10 1-3 1 0 1-18 1 21 1-30 1 33 1-5 1 10 1 4 1-6 1 0 1-12 1 7 1 9 1-7 1 7 1-20 1 4 1 21 1-15 1-58 1 17 1 44 1-65 1-42 1 94 1 71 1-8 1-16 1-21 1 29 1-1 1-11 1 46 1-26 1-17 1-23 1-32 1 53 1-9 1 8 1-5 1 8 1-11 1-20 1 26 1-6 1 8 1 11 1-6 1-12 1-2 1 0 1 5 1 7 1-13 1 17 1-7 1-15 1 8 1-15 1 16 1-13 1-3 1 1 1 15 1 1 1-8 1 7 1 3 1 9 1-18 1-2 1-11 1 10 1 2 1-2 1 4 1-13 1-4 1 5 1-1 1 15 1 2 1 4 1-2 1 0 1-9 1-2 1-3 1-2 1 0"/>
<path vector-effect="non-scaling-stroke" d="M0 173.0l1-29 1 69 1 3 1 4 1 8 1-2 1 6 1 4 1-101 1 100 1-5 1 14 1-14 1-6 1-52 1 55 1 13 1 0 1 7 1 3 1 14 1-8 1-10 1-17 1-18 1 83 1 57 1-27 1 9 1-7 1-6 1 5 1 8 1-3 1 5 1-6 1 6 1-7 1 3 1 12 1 4 1-13 1 0 1-5 1-3 1-9 1-4 1 9 1 14 1-16 1-6 1 4 1 4 1-8 1-2 1 25 1-20 1 2 1-12 1-12 1 4 1 3 1-12 1-15 1-13 1 9 1-9 1 13 1 12 1 14 1-11 1-7 1-6 1 5 1-6 1 1 1 13 1-5 1-17 1 7 1 1 1 0 1 7 1 7 1-6 1-27 1 11 1 10 1-21 1 14 1-2 1 17 1-44 1 15 1-5 1 3 1 1 1 14 1-16 1 5 1 5 1-7 1 8 1-14 1-1 1 1 1 32 1 2 1-14 1-12 1 11 1 3 1-8 1-6 1-8 1-2 1 4 1 6 1 10 1-8 1-9 1-8 1 9 1-1 1 6 1 7 1-14 1-11 1 14 1 2 1 24 1-11 1 0 1-7 1-7 1 5 1 6 1 2 1 5 1 1 1-14 1-10 1 10 1-9 1 3 1 8 1-5 1 11 1-13 1-36 1 31 1 6 1-7 1-3 1-2 1-16 1 16 1 3 1 11 1-7 1 9 1-18 1 0 1 0 1 13 1-2 1 6 1-9 1 6 1-17 1 3 1 0 1-1 1-2 1 8 1-6 1-25 1 24 1-7 1-12 1 13 1-4 1-3 1-1 1 1 1 10 1 2 1 9 1-11 1-22 1 14 1 6 1 3 1 5 1 2 1-48 1 41 1 5 1-6 1 5 1 12 1-4 1 6 1-33 1 11 1-4 1 15 1-4 1-11 1 6 1-18 1-71 1 82 1 17 1-9 1 0 1 0 1-5 1-8 1 17 1 4 1-4 1 7 1 4 1-10 1-4 1-5 1 0 1 1 1 8 1-5 1-30 1 37 1 12 1-23 1-1 1-5 1 9 1-8 1 0 1-5 1 12 1-9 1 7 1-7 1 7 1-8 1 12 1 10 1-7 1-5 1 22 1-25 1-19 1 35 1-16 1 0 1-5 1 17 1-2 1-12 1 7 1 7 1-9 1 11 1 0 1-49 1 45 1-8 1-18 1 14 1 0 1 1 1-59 1 69 1-23 1 9 1 6 1-5 1 27 1-20 1 4 1 2 1-7 1 5 1-12 1 16 1-14 1-11 1 5 1 20 1-4 1-25 1 22 1-1 1-41 1 26 1 6 1 66 1-7 1-23 1-62 1 75 1-18 1 6 1 40 1-14 1-28 1-14 1 12 1-1 1-38 1 24 1 12 1-2 1-3 1 39 1-17 1-11 1 3 1 1 1 13 1-28 1 5 1-5 1 9 1 0 1 13 1 16 1-28 1-24 1 10 1-17 1 18 1-3 1-2 1-3 1-3 1-21 1-15 1 45 1 6 1 1 1-6 1-2 1 0 1 1 1 3 1 1 1-9 1-2 1 0 1 0 1 8 1 5 1-6 1 11 1-15 1 12 1-5 1-10 1 3 1-7 1-3"/>
<path vector-effect="non-scaling-stroke" d="M0 217.0l1 5 1-9 1-3 1-11 1 19 1 1 1 4 1 6 1-19 1 17 1 7 1-6 1 0 1 2 1 0 1 4 1 5 1-7 1 8 1 0 1 14 1-4 1-35 1 1 1-18 1 99 1 44 1-13 1-11 1-1 1 12 1-3 1 6 1 4 1-8 1-2 1 0 1 2 1 7 1 9 1 9 1-20 1-6 1-5 1-10 1 1 1 12 1 5 1 3 1-18 1-16 1 13 1 8 1-5 1 10 1-2 1 5 1 1 1-18 1-4 1-2 1-9 1-5 1-13 1-2 1-8 1-5 1 10 1 16 1 27 1-22 1-12 1-13 1 5 1 8 1-2 1 8 1-5 1-22 1 5 1 8 1 7 1-10 1 30 1-23 1-11 1-1 1-1 1 0 1 1 1 13 1-13 1-26 1 1 1 5 1-2 1 23 1 3 1-9 1-28 1 17 1 6 1 6 1-5 1-16 1 4 1-36 1 69 1-14 1-6 1 14 1 1 1-13 1-9 1-8 1-9 1 16 1 7 1-2 1-75 1 70 1-13 1 4 1 15 1-9 1 10 1-30 1 11 1 8 1 8 1 2 1 14 1-5 1-22 1 2 1-7 1 17 1 3 1 7 1-4 1-20 1 0 1 0 1 6 1-3 1 4 1 5 1-18 1 0 1-5 1 8 1 1 1 18 1-20 1-13 1 7 1-3 1 8 1-3 1 19 1 3 1-2 1-14 1 7 1 2 1 0 1 6 1-9 1-25 1 10 1 4 1-5 1 7 1 0 1 13 1-15 1-3 1-4 1 0 1 0 1-2 1 6 1-14 1 10 1 10 1 2 1-4 1 11 1-9 1 0 1-10 1 8 1 4 1-3 1 11 1 21 1-11 1-29 1-4 1 15 1 0 1 7 1-5 1-5 1-9 1-4 1 17 1 11 1-30 1 1 1 2 1-22 1 30 1-3 1 7 1-7 1 9 1-16 1 3 1 4 1 3 1 7 1 4 1 3 1 2 1-11 1-5 1-8 1 5 1-7 1 11 1 8 1-13 1 4 1-1 1-6 1 0 1 1 1 3 1-1 1-6 1 12 1-4 1-2 1-6 1 9 1-7 1 6 1 1 1 7 1-13 1 12 1 5 1-17 1 17 1-10 1 25 1-24 1 4 1-23 1 18 1 10 1-11 1 3 1-1 1 15 1 0 1-13 1-18 1 2 1 6 1-6 1 2 1-2 1-3 1 2 1 3 1 3 1 2 1 4 1 6 1-13 1 17 1-13 1 6 1-1 1 3 1-12 1-33 1 35 1 4 1-1 1-15 1 7 1-1 1 1 1-4 1-7 1 93 1-8 1-28 1-85 1 100 1-38 1 20 1 19 1 19 1-53 1-14 1-1 1 18 1 0 1-4 1 9 1-8 1-13 1 14 1 3 1 3 1 9 1 2 1-11 1 4 1-20 1 11 1 4 1 3 1 6 1 5 1-9 1-15 1-5 1-8 1 9 1-5 1-6 1 1 1-1 1 15 1-3 1 5 1-9 1 17 1 2 1-14 1 0 1-2 1 3 1 6 1-10 1-7 1-14 1 16 1 7 1-4 1 14 1 0 1-3 1-4 1 1 1-6 1 9 1-14 1 0"/>
<path vector-effect="non-scaling-stroke" d="M0 206.0l1-5 1-3 1 11 1 2 1 1 1 1 1 1 1 0 1 2 1-6 1 7 1-5 1 6 1 26 1 14 1-41 1-8 1-16 1 34 1 5 1 6 1-9 1-11 1-38 1-51 1 158 1 42 1-18 1 2 1-19 1 19 1-5 1 3 1 7 1 1 1-12 1 13 1-10 1-5 1 23 1 5 1-9 1-8 1-5 1-8 1-5 1 14 1-6 1 7 1-9 1-10 1 1 1 13 1-12 1-3 1 10 1 11 1-6 1-24 1-1 1-8 1 7 1 16 1-32 1-4 1 0 1-11 1 14 1 13 1 17 1-14 1-11 1-4 1-2 1 9 1 0 1-47 1 49 1-13 1-5 1 4 1 16 1 0 1 14 1-20 1-3 1-14 1 4 1 2 1-5 1 5 1-2 1-35 1 6 1 17 1-2 1 2 1 16 1-19 1-6 1 1 1-4 1 16 1 8 1-20 1 0 1 11 1 16 1-14 1-5 1 6 1 3 1-22 1 11 1-7 1-5 1 6 1 7 1 10 1-13 1-9 1 1 1 0 1 2 1 7 1 3 1-17 1-3 1 6 1 3 1 12 1 24 1-25 1-12 1-3 1 5 1 7 1 0 1 17 1-11 1-18 1-20 1 20 1 5 1 3 1-1 1 26 1 16 1-52 1-1 1-2 1 4 1 0 1 1 1-22 1 12 1-14 1 21 1 9 1-4 1 9 1 6 1-17 1-7 1 3 1 4 1 11 1 0 1-22 1 2 1 6 1-7 1 1 1 8 1 5 1-2 1-21 1 2 1 3 1-1 1 5 1-7 1-2 1-3 1 5 1 12 1 3 1 3 1-7 1-5 1 7 1-5 1-3 1 11 1 8 1-25 1 17 1-13 1 6 1 1 1 5 1 3 1 4 1-10 1-8 1-10 1 11 1 21 1-20 1-7 1 3 1 12 1-6 1-4 1 17 1-14 1-6 1 5 1 5 1-1 1 7 1 0 1-2 1 6 1-2 1-10 1 0 1-4 1-2 1 12 1-3 1 0 1-31 1-28 1 53 1-4 1-3 1 5 1-28 1 28 1-4 1-1 1-2 1 8 1-2 1 11 1-10 1 4 1 1 1-6 1 10 1 11 1-1 1-4 1 0 1-2 1-9 1 3 1 19 1-17 1-5 1-8 1 7 1 4 1 7 1-2 1-40 1 13 1 9 1-13 1 8 1 5 1 5 1-9 1-17 1 23 1-9 1 4 1 4 1-2 1 1 1-3 1 11 1-5 1-5 1 7 1 0 1-65 1 53 1-20 1 44 1-10 1-15 1 2 1 3 1-66 1 44 1-3 1 86 1-3 1-21 1-35 1 28 1-4 1-20 1 70 1-6 1-29 1-42 1 11 1 15 1 7 1 2 1 4 1 9 1-39 1 18 1 36 1-32 1 11 1 5 1-12 1 2 1 1 1-7 1-11 1 18 1 10 1-38 1 11 1 20 1-16 1 3 1-2 1-3 1-8 1 0 1 2 1 5 1 5 1-1 1 10 1-5 1 1 1-7 1 7 1-10 1 8 1-2 1-3 1-13 1 6 1-7 1 21 1-7 1 5 1 1 1-1 1-16 1 12 1-4 1-9 1 1 1-3"/>
<path vector-effect="non-scaling-stroke" d="M0 221.0l1-11 1 12 1-4 1 6 1 1 1 7 1-1 1-17 1 17 1-25 1-14 1 39 1 6 1-2 1 1 1 10 1-9 1-4 1 21 1-15 1-27 1 31 1 12 1-25 1-19 1 92 1 44 1-21 1 8 1-5 1 10 1-7 1 3 1 1 1 1 1-5 1 8 1-11 1 16 1 9 1 10 1-13 1-15 1 2 1-11 1 0 1 11 1-12 1 16 1-9 1-7 1 0 1 12 1-12 1 1 1 11 1 9 1-16 1-13 1 2 1-7 1-6 1-6 1-9 1-4 1-5 1-7 1 11 1 8 1 14 1-11 1-10 1-4 1 5 1-2 1 11 1 5 1-20 1 10 1-6 1 9 1-4 1 14 1 0 1 2 1-13 1-8 1-5 1 4 1 0 1 3 1-2 1-29 1 8 1-7 1 13 1 5 1 5 1-19 1 1 1-6 1 11 1 4 1-12 1-6 1 1 1 23 1 8 1-16 1-4 1 10 1 10 1-19 1-12 1 2 1-7 1 3 1 11 1 5 1-17 1 3 1-2 1-7 1 16 1 1 1 6 1-16 1-7 1 14 1-1 1 4 1 12 1-5 1-15 1 1 1 12 1-5 1 5 1-6 1 7 1-16 1 16 1-18 1 5 1 3 1 2 1 6 1-8 1-13 1 2 1 4 1 1 1 0 1 5 1-33 1 19 1 30 1-23 1 7 1 4 1-9 1 10 1-55 1 13 1 34 1 13 1 2 1-15 1-9 1 5 1 0 1-11 1 5 1 4 1-1 1-14 1 6 1 0 1 2 1 2 1-2 1-3 1-9 1 8 1 2 1 5 1 8 1-7 1-8 1-26 1 28 1 10 1-5 1 7 1 4 1-3 1-23 1 10 1 3 1 2 1 5 1-1 1-34 1 32 1-10 1-5 1 13 1 10 1-6 1-11 1-10 1 6 1 7 1 1 1 2 1 7 1-3 1-10 1-15 1 27 1-6 1 2 1 0 1 12 1-11 1-12 1-2 1 9 1-9 1 11 1 1 1 0 1-2 1-5 1 1 1 3 1-5 1 1 1 2 1-3 1 0 1 2 1-3 1-6 1 7 1-30 1 28 1 0 1 12 1-3 1-3 1-1 1 3 1-3 1 2 1-1 1 4 1-3 1-3 1 5 1-1 1-7 1-3 1 0 1 15 1 8 1-7 1-18 1 4 1-10 1 4 1 1 1-1 1-7 1 10 1-3 1 1 1 3 1-11 1 11 1-1 1 4 1 7 1-16 1-51 1 14 1 47 1-6 1-10 1 7 1 12 1-4 1-9 1-5 1 20 1-7 1-9 1-9 1 78 1-4 1-22 1-41 1 48 1-17 1 14 1 29 1-1 1-39 1-16 1 5 1 24 1 0 1-14 1 1 1-12 1 16 1 15 1-21 1 9 1-2 1 15 1-19 1 1 1-7 1 1 1 5 1 1 1 3 1 6 1-33 1 13 1-4 1-1 1-6 1-1 1 3 1-13 1 14 1 1 1-27 1 29 1 8 1-2 1-40 1-20 1 59 1-10 1 6 1 4 1-8 1-4 1-9 1 19 1-8 1 5 1 6 1 5 1-4 1-6 1 0 1-9 1 4 1-6 1 7"/>
<path vector-effect="non-scaling-stroke" d="M0 207.0l1-4 1 1 1 10 1-8 1 13 1-1 1 1 1 21 1-6 1-6 1-2 1-4 1-13 1 17 1 6 1-6 1 6 1-7 1 12 1 6 1 8 1 2 1-20 1-8 1-23 1 83 1 46 1 4 1-22 1 6 1 0 1 3 1 6 1 1 1-4 1 0 1-7 1-2 1 10 1 8 1 6 1-19 1 6 1-11 1-3 1-1 1 4 1 8 1-2 1-9 1-10 1 5 1 16 1-14 1-8 1 5 1 9 1 2 1-25 1-3 1 23 1-27 1-10 1-14 1-22 1 19 1-4 1 16 1 7 1 12 1-8 1-10 1-5 1 5 1 0 1 7 1 3 1-13 1-6 1-10 1 11 1 9 1 10 1 10 1-18 1-14 1-8 1 11 1-2 1-8 1 9 1 3 1-32 1 9 1 2 1 4 1 2 1 16 1-18 1-5 1 1 1 2 1 14 1-15 1 7 1-20 1 26 1 7 1-22 1 12 1 4 1-1 1-10 1-2 1-6 1 0 1 3 1 5 1-1 1 0 1-10 1-1 1 14 1-1 1-6 1 3 1-48 1 36 1 4 1 6 1 5 1 9 1 4 1 1 1-27 1 10 1 6 1 4 1 6 1-6 1-39 1 22 1 3 1 0 1 1 1 2 1 4 1-8 1 0 1-2 1-6 1 2 1 5 1-7 1-9 1 23 1-49 1 35 1 18 1-7 1 6 1-6 1-5 1-10 1 14 1 0 1 9 1-10 1-3 1-19 1 7 1 10 1-2 1 1 1-2 1-6 1-26 1 24 1-2 1-1 1 0 1 1 1-15 1-2 1 9 1 21 1-10 1 17 1-25 1 6 1 0 1 3 1-24 1 29 1 4 1 3 1-7 1-32 1 19 1 14 1-2 1 8 1 0 1-17 1 0 1-5 1 12 1 11 1-25 1 1 1 22 1-52 1 36 1 3 1-4 1 3 1 3 1 6 1-5 1 4 1 1 1 13 1-5 1-4 1-3 1-6 1 7 1-6 1 5 1 3 1 2 1 0 1-2 1 4 1-22 1 5 1 2 1-1 1 15 1-14 1 2 1-7 1 4 1 3 1 2 1-11 1 12 1 7 1-16 1 16 1-12 1 9 1 11 1-45 1 33 1-8 1 34 1-12 1-14 1 7 1-17 1 2 1-2 1 6 1-2 1 0 1-7 1 11 1-18 1 4 1 0 1-3 1-1 1-35 1 22 1 11 1 5 1 2 1 2 1 4 1-5 1-17 1 21 1-1 1-39 1 36 1 10 1-7 1-22 1 10 1 11 1-6 1-9 1 5 1 4 1 35 1-35 1-3 1 58 1 7 1-24 1-53 1-44 1 98 1-2 1 27 1-2 1-24 1-84 1 65 1 8 1-1 1-3 1 14 1-4 1-27 1 3 1 14 1 24 1-9 1 2 1-10 1-4 1 1 1-1 1 14 1-4 1 4 1 4 1-11 1-16 1 6 1-8 1-3 1 0 1-6 1 6 1 2 1 4 1 1 1 3 1 5 1-4 1-7 1-5 1 9 1-1 1 8 1-6 1-1 1-3 1 5 1 1 1-2 1 5 1-4 1 10 1-3 1-108 1 101 1-6 1 0 1-12 1 3"/>
<path vector-effect="non-scaling-stroke" d="M0 221.0l1-11 1 0 1 3 1 7 1 2 1 1 1-1 1 3 1 0 1 3 1 0 1 3 1-3 1 1 1-11 1 16 1 1 1-3 1 6 1 11 1-1 1-9 1 3 1-3 1-33 1 85 1 64 1-26 1-2 1-11 1 5 1 6 1 1 1 6 1-8 1-2 1-1 1-2 1 6 1 19 1-6 1 0 1-13 1-1 1-7 1-7 1-3 1 12 1-1 1-8 1-6 1 4 1-1 1 6 1-1 1 4 1 0 1 2 1-18 1-5 1-7 1 1 1-8 1-4 1-70 1 21 1 39 1 2 1 11 1 9 1-7 1-9 1-8 1 14 1-12 1 6 1 6 1 0 1-11 1 5 1-4 1 5 1 7 1 8 1-17 1-7 1 0 1-5 1 4 1-3 1 4 1-4 1-21 1-3 1 6 1 3 1 14 1-3 1-8 1-26 1 25 1 8 1-4 1-5 1-3 1 0 1 3 1 19 1-15 1 3 1 6 1-4 1-7 1-2 1-3 1-5 1 4 1 6 1 6 1-14 1-1 1-15 1 8 1 8 1-2 1 9 1-8 1-14 1 18 1 3 1 5 1 17 1-15 1-7 1-11 1 10 1 2 1 12 1-6 1-4 1-9 1-24 1 22 1-3 1 1 1 7 1 3 1-12 1-13 1-8 1 20 1-1 1 2 1-1 1-3 1 0 1-1 1 1 1 9 1-1 1-1 1 4 1-24 1 17 1 3 1 14 1-3 1-6 1-12 1-6 1 0 1 8 1-1 1-10 1 9 1-8 1 4 1-4 1-1 1 1 1 4 1 0 1-8 1 0 1 9 1-10 1 8 1 0 1 1 1 4 1-8 1-4 1 8 1 16 1-6 1 1 1 1 1-9 1-1 1 0 1 13 1-5 1 1 1-10 1-3 1 0 1 12 1-4 1-4 1-14 1-22 1 28 1-2 1-1 1 5 1 3 1 0 1-5 1-12 1 17 1 8 1 0 1 5 1-4 1-5 1-9 1-2 1 2 1 8 1-5 1 5 1 13 1-19 1-20 1 19 1-1 1 4 1-9 1 6 1-11 1 25 1-15 1-6 1 2 1 0 1 5 1-6 1 5 1 3 1 7 1 1 1-2 1-5 1-29 1 31 1-3 1-3 1 19 1-19 1-13 1-12 1 16 1 10 1 10 1-1 1 6 1-4 1-12 1-3 1 6 1-17 1-3 1 5 1-1 1-2 1 3 1 1 1 3 1-6 1 15 1-1 1-1 1-6 1-2 1 5 1 8 1-5 1-3 1-22 1 23 1 8 1-5 1 10 1-22 1-4 1-10 1 14 1 3 1 60 1-10 1-11 1-28 1-27 1 57 1-6 1 32 1-6 1-24 1-41 1 25 1-6 1 13 1-8 1 19 1-11 1-3 1 10 1 3 1 3 1 6 1-3 1-5 1 1 1-28 1 18 1 9 1 2 1 20 1-13 1-4 1-23 1-4 1 4 1 3 1-5 1-1 1-5 1 4 1 2 1 3 1-3 1 13 1-1 1 5 1-13 1-3 1 3 1-1 1 6 1-6 1-4 1 0 1 3 1 9 1 0 1 1 1 2 1-1 1-4 1 1 1-3 1-5 1-2 1-2"/>
<path vector-effect="non-scaling-stroke" d="M0 214.0l1-45 1 33 1 8 1 9 1 3 1-3 1 3 1 4 1 4 1-7 1 8 1-9 1 4 1 1 1 7 1-6 1-1 1 7 1 7 1-7 1 21 1-2 1-22 1-16 1-19 1 99 1 43 1-7 1-9 1-5 1 2 1 5 1-4 1 14 1-4 1-11 1-2 1 2 1 3 1 23 1-1 1 7 1-23 1-5 1-13 1 29 1-11 1-1 1-1 1-11 1-6 1 1 1 5 1 2 1-9 1 10 1 18 1-18 1-27 1 1 1 4 1-1 1-2 1-30 1-1 1-2 1 2 1 7 1 8 1 20 1-31 1 5 1-1 1 1 1 0 1 7 1 1 1 0 1-26 1 13 1 0 1 9 1 14 1 11 1-14 1-20 1-1 1 2 1-10 1-3 1 19 1-1 1-36 1 3 1 15 1-7 1-4 1 33 1-23 1-18 1 16 1 9 1-5 1-8 1-5 1-7 1 27 1 14 1-16 1-8 1 6 1 1 1-6 1-4 1-12 1 2 1-1 1 7 1 11 1 0 1-16 1-10 1 10 1 12 1-2 1 1 1-14 1-23 1 21 1 14 1 8 1 9 1-20 1 14 1-16 1-5 1 11 1 5 1 8 1 8 1-34 1-41 1 39 1 4 1 0 1 6 1 6 1-4 1-21 1-3 1 1 1 12 1-2 1-2 1-5 1-27 1 42 1-9 1 1 1 14 1 5 1-1 1-44 1 13 1 16 1 7 1 9 1-3 1-30 1-8 1 31 1-20 1 7 1 11 1-3 1-4 1-1 1-13 1-10 1 14 1 1 1-4 1-42 1 35 1 8 1 8 1 5 1-7 1 4 1-1 1 0 1-3 1 5 1 9 1 4 1-7 1-4 1-23 1 23 1 2 1 5 1 7 1 0 1-16 1-1 1-16 1 6 1 28 1-9 1-25 1 7 1-25 1 36 1-3 1 3 1 9 1-13 1-3 1-16 1 17 1 8 1 9 1-1 1-14 1 8 1-8 1-5 1 0 1 5 1 10 1 0 1-4 1-1 1 0 1-2 1-2 1-2 1-7 1-18 1 28 1-1 1-5 1 0 1 3 1-1 1-6 1 11 1-1 1 4 1 3 1-9 1 9 1 0 1-6 1-1 1 0 1-2 1 1 1 4 1 2 1-8 1 6 1 4 1-18 1 22 1 5 1 14 1-31 1 4 1-4 1-16 1-1 1 5 1 7 1-5 1 2 1 7 1-4 1 4 1 0 1-3 1 5 1 4 1-9 1 6 1 0 1 6 1-16 1-3 1 1 1 31 1-21 1 1 1 0 1-29 1 18 1-74 1 33 1 120 1-4 1-23 1-39 1 29 1-14 1 16 1 43 1-11 1-19 1-41 1 8 1 9 1 2 1 4 1-10 1 3 1-6 1 12 1 4 1 16 1-16 1-12 1 4 1-19 1 15 1-1 1 7 1 9 1-7 1 14 1-14 1-14 1 7 1-14 1 1 1 1 1 0 1 3 1 6 1-1 1-56 1 56 1 2 1 9 1-9 1-6 1-1 1 6 1-4 1 0 1-12 1-8 1 9 1 3 1 2 1 3 1 0 1 14 1-4 1 1 1-8 1-10 1-4 1 6 1-12"/>
<path vector-effect="non-scaling-stroke" d="M0 194.0l1 0 1-4 1 3 1 10 1-7 1 2 1 1 1-6 1 5 1-5 1 4 1-1 1 3 1 2 1-2 1 5 1-4 1 2 1 1 1 14 1-12 1 9 1-15 1-23 1-16 1 105 1 38 1-4 1-12 1 0 1 1 1 12 1-1 1 7 1-1 1-11 1-11 1 4 1 10 1 7 1 17 1-14 1-7 1-16 1-5 1-16 1 26 1 2 1 2 1-10 1-6 1 5 1 5 1-13 1 3 1 14 1-1 1-7 1-16 1 2 1 1 1-3 1-7 1-6 1 2 1-9 1-4 1 6 1 20 1 3 1-11 1-14 1 1 1 1 1-5 1 12 1-12 1 8 1-14 1 11 1 2 1-4 1 1 1 14 1-13 1-21 1 12 1 1 1-2 1-2 1 18 1-12 1-27 1 17 1-5 1 3 1 6 1 14 1-18 1-7 1 11 1-3 1 7 1-6 1-17 1-2 1 61 1-25 1-21 1-7 1 13 1 0 1-6 1-10 1-2 1-10 1 1 1 12 1 9 1-1 1-46 1 15 1 14 1 9 1 6 1 1 1-7 1-24 1 23 1-5 1 16 1 4 1-1 1-23 1 8 1-6 1 3 1 12 1 5 1-3 1-36 1 17 1 11 1-11 1 5 1 8 1-5 1-3 1-13 1 4 1 4 1 2 1 14 1-11 1-3 1-10 1 9 1-3 1 5 1 7 1 8 1-10 1-46 1 16 1 26 1 2 1 15 1-18 1-9 1 18 1-14 1 4 1 2 1-5 1-1 1-13 1 8 1-7 1 0 1 3 1 5 1-7 1-1 1-9 1 13 1 4 1 10 1-6 1-3 1-10 1-3 1 4 1 4 1 8 1 6 1-4 1-23 1-14 1 28 1-3 1 8 1 11 1-3 1-10 1-23 1-12 1 43 1-3 1-3 1-15 1-1 1 12 1 0 1 10 1-10 1-6 1 9 1-13 1 4 1 14 1 0 1-4 1 9 1-2 1-3 1-38 1 26 1 0 1-3 1 12 1-1 1-2 1-7 1 5 1-5 1-2 1 2 1 1 1 1 1-11 1 16 1-2 1-3 1-5 1 4 1-7 1 7 1 0 1 7 1 0 1 4 1-7 1 3 1-7 1-9 1-3 1 13 1 4 1 13 1-9 1-35 1 23 1-2 1 14 1 4 1-3 1-4 1-4 1-6 1-5 1-1 1 3 1 0 1-30 1 18 1 12 1-3 1-39 1 33 1 96 1-93 1 1 1 11 1-10 1 4 1 1 1-14 1-2 1-11 1 9 1 13 1-8 1-8 1-3 1 7 1-11 1-18 1-8 1 88 1 1 1-17 1-34 1 3 1 17 1 7 1 47 1-52 1-45 1 23 1-15 1 40 1-2 1 15 1-1 1-5 1-8 1-18 1 32 1 5 1 5 1-10 1 12 1-9 1-7 1 4 1 6 1 4 1 5 1 5 1-11 1-8 1-1 1 8 1-8 1-17 1 10 1-36 1 37 1 4 1 1 1 2 1 1 1 9 1-9 1-10 1 1 1 0 1 2 1 6 1-3 1-19 1 8 1 1 1 6 1-1 1 0 1 8 1-11 1-1 1 6 1-6 1 1 1-4 1 0"/>
<path vector-effect="non-scaling-stroke" d="M0 219.0l1-19 1 3 1 5 1-32 1 35 1-9 1 9 1-2 1 8 1-1 1-2 1 5 1-3 1 0 1 4 1 0 1 3 1 1 1 14 1 7 1 7 1-15 1-8 1-25 1-1 1 80 1 37 1-3 1-9 1 2 1-1 1 4 1 7 1 3 1-1 1-8 1-5 1 5 1 1 1 14 1 38 1-55 1 2 1-7 1-6 1 1 1 7 1 4 1 7 1-15 1-6 1 11 1-4 1-9 1 2 1-2 1 16 1-7 1-16 1-3 1-5 1 3 1-13 1-20 1-8 1 11 1-5 1 14 1 11 1 18 1-14 1-6 1-12 1-7 1 5 1 11 1 5 1-9 1-17 1 12 1-2 1 2 1 14 1 7 1-14 1-13 1 1 1-17 1 19 1-9 1 11 1-6 1-25 1 5 1-10 1 21 1 1 1 13 1-19 1-10 1 0 1 15 1-3 1 3 1-7 1-19 1 21 1 21 1-13 1 2 1 16 1-11 1-60 1 50 1-10 1-11 1 10 1 11 1 0 1 2 1-4 1-16 1 4 1 7 1 2 1 8 1-27 1 12 1-1 1 8 1 10 1 6 1-10 1 0 1-10 1 2 1 3 1 6 1 6 1-1 1-42 1 22 1 3 1-2 1 6 1 0 1 12 1-9 1-10 1-4 1-19 1 18 1-1 1 2 1-1 1-6 1 4 1 2 1 10 1 16 1-7 1-5 1-13 1-3 1 6 1 6 1 1 1-6 1-18 1 6 1 4 1 3 1-10 1 7 1-3 1 8 1-17 1-9 1 16 1-28 1 19 1 0 1-1 1-4 1 6 1 6 1-8 1 20 1-10 1-14 1 5 1 15 1-13 1-6 1 19 1 3 1-21 1 9 1-2 1 2 1-5 1 13 1-1 1-4 1-15 1 0 1 19 1-1 1-4 1-35 1 14 1 7 1 0 1 10 1 4 1-16 1 14 1-1 1-24 1 17 1 8 1 2 1 13 1-7 1 2 1-18 1-5 1 13 1 5 1-21 1 26 1-8 1-16 1 14 1-8 1 8 1 0 1-4 1-5 1 5 1 0 1 1 1-5 1 0 1-28 1 25 1 7 1 4 1-10 1 9 1-1 1 3 1-9 1 11 1-6 1-3 1 35 1-32 1 7 1-28 1-4 1 21 1 5 1-6 1 16 1 2 1-23 1 13 1-4 1-10 1 1 1-1 1-13 1 13 1 4 1-1 1-7 1-4 1 8 1 6 1-25 1 23 1 8 1-21 1 21 1-3 1 4 1-17 1-7 1 1 1 19 1-5 1-9 1-5 1 8 1 9 1-19 1-9 1 80 1-1 1-24 1-37 1 56 1-33 1 7 1 53 1 6 1-41 1-36 1-13 1 24 1 10 1-1 1 3 1-8 1-44 1 22 1 17 1 18 1-3 1 11 1-2 1-12 1 4 1 3 1-1 1 6 1 1 1 8 1-19 1-5 1 0 1 2 1 3 1-23 1 13 1-5 1 11 1-5 1 5 1 3 1 3 1 1 1-2 1-24 1 21 1 6 1-14 1 11 1-5 1-7 1-2 1 6 1 0 1 5 1 5 1 12 1-15 1-1 1-2 1 11 1-22 1 0 1-3"/>
<path vector-effect="non-scaling-stroke" d="M0 232.0l1-35 1 7 1-2 1 4 1 4 1-2 1 6 1-11 1 6 1 11 1-12 1 5 1 6 1-4 1-10 1 14 1 13 1-14 1 12 1 0 1 28 1-30 1 10 1-3 1-46 1 89 1 44 1-14 1 4 1-2 1-1 1-2 1 11 1-1 1-1 1-22 1 24 1-6 1 9 1 11 1-2 1-2 1-17 1-27 1 20 1-4 1 13 1-6 1-1 1-6 1 1 1-2 1-1 1-1 1 3 1-4 1 12 1-7 1-7 1-4 1-4 1-15 1 1 1-17 1-4 1 2 1 2 1 5 1 12 1 16 1-9 1-10 1-3 1-4 1-7 1 0 1 21 1-5 1-16 1 3 1 8 1-3 1 6 1 19 1-38 1 7 1-4 1 0 1 9 1-6 1 2 1-12 1-17 1 8 1-2 1 8 1 0 1 17 1-16 1-7 1 3 1 3 1 2 1 0 1-9 1-20 1 45 1 4 1-14 1-2 1 5 1 0 1-28 1 30 1-16 1-5 1 4 1 6 1 6 1-23 1 11 1-5 1 3 1 4 1 1 1 7 1-19 1 4 1 9 1 5 1 12 1-6 1 3 1-3 1-26 1 15 1 5 1 8 1-2 1 4 1-57 1 16 1 23 1 8 1-11 1-1 1 11 1 7 1-21 1-3 1 12 1-7 1-3 1-1 1-14 1 9 1 0 1 10 1 0 1 1 1 15 1-9 1-17 1 7 1 2 1 2 1 3 1-3 1-10 1-4 1 7 1-6 1-3 1 10 1-2 1-13 1-1 1-6 1-4 1 8 1 1 1-1 1-7 1 7 1-3 1 16 1-2 1-8 1-4 1-3 1-27 1 36 1 1 1 7 1 0 1 5 1-21 1 6 1-1 1 10 1-6 1 8 1 2 1-14 1 4 1-8 1 15 1 3 1-6 1-11 1-34 1 36 1-1 1 7 1-9 1 13 1 0 1-29 1 27 1 1 1 10 1 7 1-10 1 2 1-10 1 1 1-5 1 4 1-7 1 4 1 8 1-2 1-34 1 31 1-11 1 7 1-2 1-8 1-38 1 19 1 31 1-3 1-4 1-38 1-37 1 76 1 4 1 1 1 3 1 13 1-11 1 3 1-14 1 7 1 7 1-9 1-1 1 5 1-9 1 0 1 2 1 10 1-5 1 2 1 4 1 6 1-5 1-16 1 4 1-7 1-2 1 4 1-1 1-20 1 26 1-10 1 3 1 4 1-13 1 18 1-10 1 5 1 8 1-6 1-3 1 10 1 1 1-21 1 6 1-9 1 20 1-9 1-1 1 13 1-23 1-2 1 10 1-10 1 60 1 6 1-31 1-21 1 46 1-15 1 2 1 14 1 5 1-84 1 27 1 18 1 3 1 17 1-5 1-3 1-3 1-37 1 35 1 14 1 0 1-21 1 20 1-4 1-4 1-12 1 16 1-3 1 7 1-6 1 29 1-27 1-10 1-1 1-8 1 2 1 3 1-4 1 2 1-21 1 21 1 1 1 11 1-8 1 4 1 0 1-6 1 1 1-6 1 3 1 7 1-7 1-7 1 2 1 5 1-1 1 0 1 6 1 7 1-1 1-4 1-5 1-3 1-11 1-17 1 22"/>
<path vector-effect="non-scaling-stroke" d="M0 194.0l1-3 1 9 1 0 1 4 1 1 1-1 1 30 1 11 1-43 1 10 1 0 1 7 1-8 1 5 1-11 1 11 1 1 1 4 1-6 1 10 1 12 1 18 1-37 1-12 1-23 1 87 1 32 1 11 1-11 1-1 1-1 1 12 1-1 1 5 1-2 1-2 1-9 1-6 1 7 1 15 1 2 1-1 1-12 1-22 1 9 1-6 1 13 1-2 1 2 1-4 1-12 1 13 1-16 1 9 1 2 1 1 1 0 1-12 1 1 1-3 1-2 1 6 1-16 1-3 1 1 1-14 1-1 1 2 1 28 1-3 1-10 1-9 1 0 1-6 1 5 1 5 1 5 1-9 1-7 1-3 1 7 1 5 1 1 1 6 1-13 1-11 1 6 1-6 1-2 1 4 1 1 1-2 1-13 1 9 1-8 1 4 1 3 1 7 1-9 1-11 1 0 1 7 1 6 1-9 1-1 1-11 1-11 1 37 1-15 1 0 1 18 1-6 1-6 1-10 1 2 1-5 1 2 1 7 1 9 1-5 1-10 1-8 1 3 1 3 1-8 1 14 1-14 1-1 1 8 1 13 1-3 1 1 1-4 1-7 1-22 1 19 1 4 1 3 1 2 1 10 1-22 1-4 1-12 1 16 1-8 1 8 1 5 1-4 1-20 1 11 1 0 1 0 1 11 1-13 1 11 1-3 1-5 1 6 1-13 1 19 1 4 1 45 1-31 1-24 1 1 1 3 1-2 1 4 1-39 1 22 1 4 1 2 1-2 1 4 1-3 1-1 1-4 1-8 1 5 1 2 1 0 1-6 1-5 1 5 1 5 1 15 1-11 1-5 1 4 1-32 1 29 1 1 1 10 1-6 1 4 1 1 1 3 1-15 1 2 1-3 1 8 1 8 1 2 1-20 1-1 1-12 1 20 1 3 1 3 1-16 1-20 1 23 1 5 1-2 1 6 1 10 1-13 1-2 1-3 1 10 1 0 1 11 1-6 1-2 1-2 1-20 1 11 1-9 1 9 1 13 1-5 1-9 1 10 1 52 1-13 1-50 1 1 1 0 1 1 1 2 1-2 1 2 1-2 1-6 1-27 1 39 1-36 1 23 1 9 1-3 1 4 1-3 1-6 1 13 1-3 1-3 1-6 1 9 1-1 1 8 1-43 1 27 1 23 1-6 1-12 1 1 1 7 1-1 1-4 1-12 1-4 1 6 1-3 1 5 1-3 1 2 1-6 1 4 1 5 1 45 1-116 1 69 1-9 1 1 1-18 1 26 1 5 1-20 1 1 1-2 1 28 1-13 1 3 1-11 1 6 1-18 1-13 1 9 1 70 1 2 1-34 1-11 1 33 1-22 1 0 1 39 1 0 1-34 1-6 1 3 1 4 1 20 1-13 1-13 1 14 1 0 1 5 1-2 1-5 1 10 1 0 1-5 1 1 1-5 1 0 1 9 1-11 1 11 1-37 1 40 1-33 1 17 1 9 1-7 1 1 1-3 1-12 1 13 1 2 1-11 1 20 1-10 1 9 1-24 1 16 1 11 1-14 1 8 1 2 1-10 1-19 1 13 1-1 1 5 1 13 1-10 1 10 1-6 1-1 1 1 1 1 1-4 1-12 1-1"/>
<path vector-effect="non-scaling-stroke" d="M0 220.0l1-2 1 5 1 0 1 3 1 4 1 1 1 0 1 4 1 9 1-9 1 6 1 1 1-7 1 5 1-29 1 14 1 23 1 2 1 9 1 2 1 17 1-14 1-4 1-11 1-4 1 54 1 47 1-6 1-2 1-9 1 3 1 1 1 0 1 5 1 1 1 5 1-9 1-2 1 6 1 13 1 5 1-6 1-14 1-10 1 0 1 6 1-4 1 4 1-9 1 2 1-15 1 6 1 6 1-1 1 3 1 4 1 4 1-8 1-15 1 0 1 3 1-3 1-6 1-9 1-10 1-2 1-5 1 11 1 6 1 10 1-23 1 6 1 3 1-1 1 3 1-3 1 15 1-11 1-18 1 23 1-17 1 11 1 4 1 5 1-9 1-25 1 15 1-15 1 18 1-1 1-4 1-10 1-13 1 4 1 0 1 3 1 10 1-12 1 3 1-29 1 29 1 6 1 2 1-11 1 6 1-12 1 21 1 6 1-11 1-3 1 0 1 6 1-25 1 13 1-23 1 17 1 2 1 1 1 2 1-3 1-1 1-14 1-2 1 9 1 3 1 1 1-7 1-3 1 3 1 6 1 12 1 1 1-6 1-3 1-43 1 38 1 1 1 5 1 11 1-7 1-11 1-4 1-2 1 4 1-2 1 7 1 4 1-6 1-4 1-3 1-9 1 12 1 4 1-7 1-12 1-6 1 15 1-1 1 12 1-2 1 14 1-16 1 1 1-3 1 1 1 4 1 3 1-4 1-24 1 14 1 5 1-5 1-8 1 9 1-1 1 1 1-9 1 0 1-4 1 4 1 0 1 0 1-14 1 9 1 6 1 1 1 2 1 7 1-5 1-7 1 4 1 0 1 18 1-11 1 11 1-6 1-9 1-25 1 26 1-1 1 7 1 3 1 0 1-8 1-5 1-5 1 10 1 3 1 5 1-40 1 23 1-7 1 3 1 10 1-13 1 16 1-7 1 3 1-6 1 4 1 5 1 5 1 4 1-15 1 22 1-13 1-11 1 2 1 2 1 3 1 0 1 10 1-6 1-3 1 6 1-10 1 1 1 2 1 0 1-2 1 2 1-2 1 1 1-4 1 1 1-13 1 11 1 6 1 6 1-2 1-2 1-4 1 0 1 4 1-2 1 2 1 6 1-8 1-1 1 4 1-7 1 6 1 0 1 0 1 6 1 0 1 2 1 4 1-20 1-8 1-5 1 11 1 5 1-5 1-2 1-5 1 4 1-7 1 11 1 1 1-72 1 21 1 51 1-13 1 11 1 10 1-11 1-15 1 8 1 3 1 20 1-10 1-4 1 2 1-23 1 25 1-14 1-6 1 71 1-9 1-21 1-10 1 30 1-21 1 12 1 36 1-19 1-57 1 15 1 2 1 8 1 2 1-1 1 0 1-5 1 6 1-3 1 6 1-3 1 4 1 4 1 7 1-12 1-17 1 11 1-3 1 10 1 2 1 4 1-8 1-20 1 14 1-6 1-5 1-62 1 58 1 5 1-1 1 12 1 4 1-11 1 9 1 28 1-29 1-26 1 18 1-2 1 4 1 1 1-4 1-4 1-18 1 21 1 2 1 9 1-1 1 2 1-3 1 0 1 0 1-6 1-1 1-9 1 4"/>
<path vector-effect="non-scaling-stroke" d="M0 204.0l1-9 1 1 1 5 1 2 1 0 1 5 1-3 1 5 1-3 1-2 1 4 1 0 1 3 1-5 1 1 1 11 1-2 1-8 1 8 1 3 1 13 1-16 1 9 1-21 1-16 1 77 1 53 1-12 1-3 1-5 1 8 1-3 1-3 1 8 1 1 1-5 1-3 1 1 1 1 1 8 1 19 1-20 1-4 1-11 1-6 1 5 1 0 1-9 1 15 1-10 1-4 1 11 1-7 1-9 1-1 1 16 1 1 1-4 1-17 1-3 1-9 1 5 1-4 1-11 1-8 1 9 1-10 1 10 1 11 1 9 1-6 1-16 1 5 1-1 1-4 1 3 1 13 1-13 1-16 1 4 1 1 1 5 1 15 1 2 1-10 1-10 1-6 1 3 1 1 1-11 1 13 1-1 1-37 1 17 1-1 1 17 1 1 1 5 1-10 1-19 1 37 1-20 1 3 1-11 1 0 1-8 1 23 1 7 1-12 1-7 1 14 1 4 1-16 1-5 1 2 1-7 1 3 1 5 1 3 1 5 1-14 1-11 1 25 1-16 1 7 1 2 1-13 1-2 1 1 1 9 1 0 1 3 1 1 1-4 1-6 1-5 1-3 1 14 1 6 1-13 1-9 1 3 1-1 1 3 1-2 1 8 1 4 1 2 1-27 1 7 1 9 1-2 1 0 1-15 1 26 1-21 1-3 1 3 1 3 1 10 1 5 1-6 1-8 1-3 1 10 1-1 1-10 1 28 1-18 1-9 1 3 1-8 1 47 1-48 1 7 1 10 1-34 1 18 1 2 1-2 1 13 1-11 1-11 1 4 1 5 1 0 1 5 1-22 1 22 1-13 1-8 1 14 1 8 1 12 1-11 1 4 1-4 1-6 1 9 1 0 1 3 1-4 1-1 1 3 1-9 1-12 1 22 1 8 1-12 1-10 1-6 1-2 1 11 1 3 1 2 1-2 1 1 1-8 1 1 1-1 1 9 1 2 1 11 1-9 1 1 1-2 1-10 1 9 1-2 1 6 1 1 1 0 1-1 1-7 1-1 1 1 1-3 1-1 1 6 1-3 1-6 1 7 1 3 1-4 1-9 1-2 1 7 1 7 1 1 1-14 1 15 1-4 1-1 1-4 1 2 1 5 1-8 1 4 1 2 1-5 1-17 1-3 1 15 1 5 1-1 1 10 1-9 1-12 1-2 1-23 1 27 1-5 1 5 1 3 1-4 1-5 1 5 1 1 1-3 1 49 1-48 1-6 1 7 1 1 1 0 1 0 1-1 1 2 1-17 1 11 1 4 1 0 1-18 1 10 1 9 1-28 1 5 1 7 1 50 1 52 1 25 1-108 1 39 1-17 1-18 1 28 1 9 1-32 1-15 1 5 1 16 1 5 1 3 1 1 1-7 1 3 1 17 1-14 1 5 1 4 1-3 1 3 1-5 1-1 1-3 1 23 1-6 1-3 1 4 1-16 1 0 1 1 1 1 1-6 1 8 1-13 1 3 1 1 1 5 1 6 1-2 1-2 1 8 1-1 1-8 1 1 1 3 1-18 1 19 1-3 1-7 1-5 1 6 1 3 1 7 1 1 1 2 1-17 1 14 1-14 1 4 1-3 1-2 1-9"/>
<path vector-effect="non-scaling-stroke" d="M0 227.0l1-5 1-15 1 17 1-8 1 3 1 6 1 1 1 1 1-2 1 13 1-34 1 24 1-3 1 1 1 25 1-7 1-11 1-9 1 14 1 13 1 6 1-9 1-16 1-16 1-29 1 116 1 39 1-8 1-7 1-9 1 5 1 3 1 1 1 0 1 9 1-12 1-4 1-1 1 6 1 5 1 9 1 10 1-29 1-15 1 12 1-20 1 24 1-4 1 15 1-16 1-11 1 20 1-9 1-9 1 2 1 12 1 5 1-2 1-25 1-6 1 2 1-13 1-4 1-11 1-3 1-2 1 2 1 8 1 10 1 16 1-9 1-15 1 7 1-12 1-2 1 6 1 16 1-15 1-17 1 12 1 5 1 0 1 4 1 4 1-5 1-16 1 4 1-17 1 6 1 10 1 14 1-19 1-23 1 4 1-4 1-2 1 19 1 9 1-15 1-11 1 10 1-1 1 2 1-10 1 4 1-11 1 14 1 35 1-33 1-1 1 11 1 11 1-31 1 20 1-20 1-4 1 1 1 15 1-34 1-22 1 44 1-4 1 0 1 8 1 2 1 14 1-27 1-8 1 23 1 4 1 8 1 3 1-4 1-8 1-17 1 10 1-3 1 12 1 17 1-3 1-22 1-14 1 8 1-2 1 3 1 1 1 16 1-10 1-15 1-2 1 2 1-3 1 8 1 3 1-8 1-5 1 1 1 8 1-18 1 36 1 2 1-6 1-8 1 1 1 5 1-3 1 8 1-14 1-5 1-23 1 9 1 20 1-1 1 3 1-2 1 2 1-12 1 5 1-16 1 13 1-6 1-1 1-16 1-3 1 13 1 8 1 6 1 6 1-7 1-5 1-2 1 1 1 13 1 2 1 7 1 3 1-31 1 9 1 4 1 4 1 2 1 6 1 0 1-7 1-12 1-3 1 13 1 14 1-17 1-8 1-17 1 12 1 3 1-9 1 17 1 4 1 0 1-11 1-26 1 31 1 4 1 12 1 4 1-10 1-42 1 35 1-5 1-1 1 1 1 0 1 7 1-5 1 6 1-5 1 0 1-9 1 29 1-25 1 3 1 2 1 0 1 3 1-12 1 5 1 4 1-3 1 3 1-5 1 4 1 17 1-13 1 3 1 0 1 12 1-11 1-7 1 0 1 6 1-15 1 11 1-5 1 6 1-23 1 27 1 14 1 0 1-36 1 11 1-6 1 5 1 2 1-8 1-39 1-28 1 70 1 4 1 10 1-17 1 12 1 4 1-4 1 8 1-8 1-10 1 12 1 2 1-1 1-21 1-18 1 19 1 20 1-7 1-5 1 0 1 0 1 7 1-6 1-6 1 106 1-25 1-32 1-31 1 33 1-18 1 25 1 34 1-2 1-37 1-27 1 0 1-1 1-73 1 103 1-22 1 2 1-32 1-25 1 72 1-8 1 7 1 13 1-21 1-3 1-37 1 31 1 6 1 2 1 9 1 4 1-3 1-22 1 4 1-5 1 3 1-1 1-6 1-6 1 5 1-2 1 14 1 0 1 0 1 6 1-17 1-3 1 3 1-3 1 10 1 5 1-10 1-8 1-29 1 37 1 13 1 1 1 0 1 30 1-27 1-18 1 6 1-3 1 8 1-18 1 8"/>
<path vector-effect="non-scaling-stroke" d="M0 215.0l1-9 1 11 1-1 1 1 1-3 1 8 1 10 1-2 1-13 1 9 1 5 1-6 1 4 1 7 1-20 1 10 1 5 1-12 1 20 1 2 1 14 1-4 1-10 1-23 1-18 1 92 1 51 1-10 1-17 1-5 1 10 1 4 1 3 1 3 1-1 1-5 1-10 1 10 1 10 1 5 1 16 1-12 1-21 1 2 1-10 1-2 1 5 1 6 1 3 1 4 1-24 1 11 1 3 1-12 1 11 1 2 1 7 1-5 1-17 1-3 1-4 1-10 1 3 1-17 1-2 1-2 1 2 1 5 1 11 1 11 1-16 1-2 1-1 1-1 1 2 1-4 1 11 1-4 1-9 1-3 1 20 1-11 1 1 1 18 1 6 1-24 1-3 1-12 1 4 1-7 1 10 1-6 1-26 1-4 1 10 1 6 1 3 1 11 1-39 1-13 1 31 1-10 1 19 1-5 1-7 1-8 1 29 1 4 1-10 1 0 1-6 1 7 1-6 1-14 1 12 1-20 1 5 1-3 1 18 1-1 1-13 1-9 1 3 1 9 1-1 1 6 1-11 1-15 1 14 1 12 1 6 1-12 1 25 1-35 1 12 1-3 1 6 1 13 1-4 1 1 1-18 1-3 1 10 1-7 1 4 1-2 1 11 1-7 1-21 1 15 1 15 1-13 1 1 1 2 1-25 1 18 1-3 1 3 1-2 1 12 1 9 1 22 1-12 1-16 1-2 1-5 1 4 1-10 1-9 1 10 1-5 1 3 1-1 1 10 1-7 1-5 1-3 1-5 1-3 1 12 1-6 1-16 1-1 1 17 1 0 1 9 1 1 1 4 1-6 1-10 1 8 1-12 1 6 1 13 1 0 1 8 1-7 1-23 1 10 1 9 1 2 1 17 1-13 1-5 1-4 1-6 1 7 1 9 1-10 1-7 1 34 1-14 1-18 1 6 1 5 1-9 1 13 1-17 1-8 1 12 1 8 1 1 1 5 1 2 1-10 1-5 1 1 1-10 1 15 1 0 1-2 1 2 1-17 1 18 1 3 1-13 1-2 1-7 1 23 1-16 1 0 1 6 1-3 1-4 1 0 1 7 1-10 1 0 1 32 1-11 1-4 1-8 1-9 1-36 1 14 1 36 1-8 1-3 1 3 1-7 1 2 1 6 1-1 1 1 1 5 1 8 1 6 1-39 1 17 1-10 1-3 1 0 1 1 1 11 1-6 1-20 1 20 1 5 1-5 1 5 1-8 1 10 1-6 1 9 1-7 1 9 1-6 1-5 1-18 1-41 1 75 1-9 1-20 1-3 1 13 1-13 1 6 1 7 1 58 1-90 1 98 1-49 1 23 1-10 1 0 1 47 1-16 1-87 1 41 1-5 1 16 1 0 1 2 1 19 1-33 1 7 1 1 1 15 1-4 1-1 1 2 1-2 1 5 1-13 1-13 1 15 1 6 1 9 1 13 1-25 1-5 1-3 1-1 1-3 1-2 1-5 1-8 1 7 1-5 1-8 1 22 1 10 1-1 1-3 1-8 1 3 1-1 1-5 1 7 1-1 1-8 1-1 1 4 1 4 1 0 1 8 1 8 1-6 1-31 1 28 1 6 1-12 1 2 1-14"/>
<path vector-effect="non-scaling-stroke" d="M0 208.0l1-11 1-1 1 6 1 4 1 1 1-4 1 5 1 2 1 1 1-6 1 7 1 2 1 0 1 6 1-12 1 15 1-16 1 2 1 3 1 6 1 17 1-10 1-7 1-34 1-7 1 94 1 38 1-16 1 11 1-17 1 12 1 5 1-1 1 9 1-3 1-8 1-5 1 4 1 7 1 39 1 13 1-56 1-10 1 1 1-6 1 1 1 8 1 3 1 1 1-8 1-5 1 8 1-4 1 0 1-17 1 19 1-3 1-5 1 0 1-6 1-11 1 4 1-9 1-12 1-22 1 19 1-5 1 11 1 13 1 21 1-36 1 7 1-5 1-3 1-5 1 11 1 14 1-16 1-19 1 4 1 6 1 22 1-4 1 12 1-23 1-14 1 4 1-4 1-3 1 1 1 10 1-2 1-32 1 14 1 1 1 3 1 6 1 7 1-10 1-8 1 13 1-2 1 5 1-10 1-2 1-10 1 9 1 24 1-16 1-6 1 10 1 7 1-13 1-3 1-7 1-5 1 15 1-1 1-3 1-6 1 3 1-12 1-1 1 14 1 2 1 7 1-17 1-4 1 9 1 2 1 13 1-1 1 2 1-9 1-12 1 4 1 4 1 3 1 8 1-5 1-44 1 35 1-1 1 3 1-3 1-7 1 7 1 6 1-13 1 2 1-1 1 8 1-7 1-3 1-4 1-3 1 1 1 8 1 0 1 8 1 14 1-8 1-5 1-11 1 6 1 5 1 3 1-2 1-54 1 37 1 4 1-20 1 20 1 2 1-6 1 6 1-7 1-6 1-1 1 1 1 6 1-11 1-3 1 8 1-1 1 5 1 3 1 6 1-8 1-8 1-5 1 11 1 2 1 3 1 4 1 2 1-32 1 8 1 11 1 3 1 16 1-22 1 1 1 8 1-4 1-6 1 10 1 9 1-7 1-9 1-1 1-36 1 40 1 1 1 0 1 7 1-11 1-8 1-26 1 42 1 2 1-4 1 8 1 4 1-8 1-17 1 6 1-3 1 8 1 6 1 4 1-11 1 7 1 5 1-10 1-2 1 6 1-4 1-1 1-1 1 1 1-6 1 7 1-6 1 1 1-8 1 10 1-1 1 5 1 3 1 0 1-8 1 9 1-12 1 9 1 2 1-12 1 9 1 5 1-3 1-9 1 2 1 3 1 1 1 5 1-2 1-7 1 10 1-15 1 0 1-3 1 5 1-5 1-15 1 18 1-3 1 4 1 1 1-20 1 21 1-10 1 13 1-3 1-9 1 13 1-1 1-5 1-6 1 7 1-17 1 25 1 12 1-40 1 4 1 5 1-2 1-28 1 16 1 21 1-30 1 34 1-2 1-20 1 29 1 18 1 32 1-7 1-124 1 36 1 48 1 7 1 5 1 20 1-9 1-12 1-1 1-11 1 27 1-2 1-4 1-13 1 11 1-3 1-38 1 32 1 3 1 7 1 8 1 6 1-15 1-5 1-3 1-3 1-1 1-3 1-4 1 4 1-17 1 18 1 4 1 1 1 4 1 7 1-2 1-10 1-1 1-1 1 3 1-5 1 1 1-21 1 17 1 3 1-7 1 9 1 8 1 35 1-35 1-14 1-2 1 6 1 16 1-25 1-1"/>
<path vector-effect="non-scaling-stroke" d="M0 237.0l1-42 1 9 1 7 1 0 1-11 1-12 1 29 1 4 1-7 1 4 1-19 1 9 1 14 1 1 1-12 1 11 1 4 1 3 1 4 1 7 1 7 1-2 1-20 1-11 1-13 1 81 1 56 1-18 1-14 1 5 1 1 1 6 1 4 1 4 1 0 1-8 1-10 1 11 1 6 1 10 1 1 1-7 1 2 1-13 1-11 1 4 1 2 1 1 1 8 1 4 1-20 1 8 1-17 1 9 1 1 1 14 1-6 1-29 1 11 1-5 1-6 1 6 1-17 1-12 1-5 1 9 1-15 1 17 1 4 1 25 1-15 1-23 1 8 1-11 1 11 1 1 1 12 1-3 1-21 1 11 1 2 1 2 1 7 1 2 1-3 1-29 1 10 1 5 1-4 1-3 1 5 1 3 1-38 1 10 1 2 1 0 1 15 1 8 1-16 1-5 1-9 1 24 1-6 1 18 1-23 1-11 1 4 1 28 1-15 1 0 1 15 1-7 1-11 1-3 1-10 1-3 1 7 1 4 1 16 1-15 1-8 1-13 1 24 1-12 1 7 1 9 1-18 1-3 1 0 1 12 1 7 1 17 1-15 1-9 1-6 1-1 1 10 1 1 1 5 1 1 1-20 1-1 1-4 1 6 1 6 1 8 1-2 1-12 1-10 1 3 1 2 1 0 1-1 1-6 1-2 1-3 1 6 1-4 1 2 1 18 1 5 1-7 1-21 1 1 1 12 1-1 1 15 1-16 1-5 1-4 1 2 1 1 1-9 1 13 1 6 1-7 1-9 1-1 1 7 1-7 1 2 1 0 1-15 1 7 1 5 1 5 1 6 1 7 1-9 1-3 1-3 1 9 1-3 1 5 1 4 1 26 1-33 1-7 1 1 1-1 1 2 1 8 1 5 1-10 1-3 1 0 1 5 1 4 1 0 1-22 1 2 1 0 1 11 1 1 1 0 1 7 1-8 1-9 1-6 1 18 1-4 1 6 1 2 1 2 1-5 1-27 1 12 1 6 1-2 1 2 1 15 1-4 1 7 1-13 1-7 1 6 1-4 1 4 1-8 1 6 1-1 1 0 1 0 1-1 1-96 1 102 1-17 1 17 1 5 1-1 1-1 1-11 1 17 1-3 1-4 1 3 1-3 1 2 1 5 1-5 1-6 1 3 1 1 1 1 1 6 1-3 1-12 1 20 1-11 1-10 1-13 1 7 1-5 1-42 1 44 1-3 1 16 1-5 1-2 1 26 1-61 1 23 1 18 1-25 1-26 1 51 1-3 1-8 1-10 1 7 1-3 1 13 1-3 1-7 1-5 1 10 1-13 1 44 1 33 1 4 1 4 1-52 1-7 1 22 1 2 1 36 1-18 1-19 1-23 1 11 1 5 1 0 1 10 1-9 1-4 1 2 1 36 1-19 1 6 1-12 1-1 1 3 1-7 1-1 1-3 1 7 1 8 1 2 1 4 1-12 1-9 1 0 1-3 1 0 1-5 1-6 1-2 1-6 1 22 1-26 1 11 1 21 1 1 1-13 1-4 1 5 1 1 1 1 1 6 1-9 1-10 1 13 1-7 1 0 1 7 1 8 1 4 1-2 1-2 1 8 1-21 1-15 1-1 1 14"/>
<path vector-effect="non-scaling-stroke" d="M0 218.0l1-40 1 49 1-30 1-13 1 54 1 0 1-6 1 10 1-3 1 3 1 0 1 3 1 7 1-6 1-46 1 55 1-1 1 2 1-5 1 16 1 13 1-2 1-17 1-20 1-22 1 114 1 25 1-6 1-13 1-16 1 6 1-1 1 12 1 1 1 6 1-17 1 9 1-7 1 17 1 15 1 2 1-10 1-14 1 3 1-18 1 5 1 5 1 16 1-11 1-17 1 4 1 7 1 2 1-6 1-1 1 12 1 5 1-4 1-24 1-5 1 8 1 1 1-8 1-16 1-11 1-3 1 0 1 12 1 5 1 22 1-14 1-13 1-4 1 2 1 3 1 5 1 14 1-4 1-21 1-6 1 8 1 3 1 0 1-41 1 48 1-24 1 20 1-16 1 0 1-8 1 18 1 8 1-70 1 39 1-7 1 8 1 11 1 11 1-28 1-13 1 19 1 21 1-8 1-9 1-8 1-6 1 11 1 31 1-21 1 3 1-3 1 0 1-7 1-9 1 1 1-11 1 15 1 1 1 4 1-2 1-17 1-9 1 12 1 14 1-3 1 12 1-38 1 12 1 13 1-4 1 14 1 7 1-5 1-23 1-7 1 6 1 8 1 6 1 10 1-2 1-24 1 3 1 6 1-2 1 2 1 6 1 2 1-1 1-33 1 15 1-2 1 8 1 4 1-1 1-7 1-4 1 5 1 0 1 8 1 4 1 8 1 21 1-33 1-7 1-1 1 8 1 9 1-6 1-17 1 12 1-4 1-8 1 5 1 4 1 6 1-3 1-16 1 1 1 10 1-3 1 2 1 6 1-18 1-10 1 17 1 1 1 3 1 5 1-6 1-10 1-7 1-3 1 28 1-2 1 0 1-10 1 3 1 3 1-4 1 3 1 0 1 10 1 0 1-9 1-49 1 29 1 22 1 24 1-24 1-6 1 30 1-123 1 98 1-2 1 2 1 3 1-14 1 10 1-35 1 32 1 1 1 2 1 2 1-2 1-9 1-15 1 15 1-2 1 1 1 5 1 17 1-19 1 9 1-11 1 0 1-1 1-7 1 10 1-8 1 5 1-2 1 6 1-3 1-7 1-1 1-12 1 14 1-16 1 20 1 1 1 13 1-14 1 6 1-3 1 1 1 2 1-7 1 0 1-15 1 23 1-19 1 11 1 1 1 17 1-31 1 23 1 7 1-14 1 0 1-17 1 7 1 7 1-3 1-6 1 8 1-5 1-3 1 9 1 3 1-4 1-3 1-2 1 5 1-5 1-91 1 104 1-13 1-25 1 9 1 13 1 19 1-6 1-12 1-8 1 15 1-15 1-3 1 0 1 83 1-2 1-37 1-43 1 44 1-6 1 14 1 43 1-12 1-38 1-28 1 18 1 4 1 3 1-1 1-1 1-11 1 0 1-45 1 58 1-1 1-2 1 7 1-8 1-3 1-6 1 3 1 2 1 12 1-1 1 7 1-10 1-17 1 8 1-12 1 2 1 1 1-1 1-3 1 7 1-2 1 0 1 1 1 16 1 4 1-29 1 5 1-1 1 2 1 12 1-8 1-3 1-41 1 36 1 2 1-1 1 9 1 0 1 4 1 2 1-17 1 16 1-5 1-9 1-4 1-1"/>
<path vector-effect="non-scaling-stroke" d="M0 192.0l1-8 1 24 1-7 1 7 1-3 1 3 1 7 1 3 1-13 1 8 1-1 1-3 1 2 1 2 1-9 1 15 1-4 1 4 1 5 1 11 1 3 1-2 1-22 1-6 1-36 1 99 1 44 1-5 1-6 1-1 1 1 1 4 1 2 1 0 1-1 1-2 1-7 1 3 1 14 1-1 1 3 1 8 1-15 1-15 1 6 1-5 1 1 1 10 1-2 1-1 1-14 1-3 1 27 1-32 1 16 1-1 1-11 1 10 1-15 1 0 1-1 1-6 1-3 1-26 1-26 1 29 1-1 1 10 1 11 1 16 1-6 1-10 1-7 1 1 1-6 1 1 1 2 1 4 1-18 1 3 1 7 1 4 1-4 1 19 1-14 1-4 1-3 1-6 1-3 1 7 1 4 1 1 1-33 1 8 1 6 1 0 1 6 1 6 1-23 1 6 1 5 1-3 1 12 1-12 1-3 1-15 1 27 1 14 1-5 1-2 1 1 1-4 1-4 1-9 1-24 1 16 1 6 1 6 1 2 1-1 1 6 1-28 1 13 1 2 1 16 1-8 1-27 1 19 1-1 1 6 1 8 1 2 1-2 1-4 1-12 1-1 1 10 1 7 1 2 1-1 1-21 1-6 1 23 1-7 1-5 1-3 1 7 1 5 1-16 1-5 1 12 1-6 1 2 1-11 1 3 1 0 1-3 1 5 1 11 1 3 1 9 1 21 1-36 1-6 1 8 1 1 1 7 1-15 1-6 1 5 1 1 1-3 1 4 1-4 1-7 1 15 1-16 1-2 1 1 1-8 1 8 1 0 1-8 1-19 1 22 1 11 1 2 1 6 1-12 1 2 1-3 1 9 1 0 1-1 1 13 1-8 1-3 1-15 1 12 1 21 1 2 1-19 1 15 1-14 1-11 1 2 1 11 1 4 1-7 1-17 1 8 1 8 1-8 1 17 1-3 1-5 1-4 1-3 1-28 1 29 1 7 1 2 1 4 1-10 1 14 1-30 1 11 1-7 1 11 1 3 1 4 1-1 1-44 1 30 1 3 1-31 1 26 1 2 1 0 1-2 1 4 1-3 1 0 1-3 1 2 1 6 1-1 1 7 1-2 1 0 1 2 1-1 1-13 1 13 1 1 1-2 1-6 1 1 1-18 1 16 1-2 1 2 1-3 1 4 1 2 1 7 1-21 1 7 1 7 1-22 1 9 1 0 1 6 1-43 1 36 1-1 1 6 1 6 1-8 1-2 1 5 1-50 1 42 1 10 1 1 1 2 1-9 1-43 1 29 1-2 1 23 1-7 1-8 1 5 1-1 1-18 1-88 1 95 1 66 1-11 1 1 1-34 1-24 1 52 1-18 1 41 1-5 1-26 1-26 1 28 1-4 1 16 1-10 1-2 1-1 1 2 1-19 1 26 1 1 1 2 1 7 1-10 1-8 1-2 1 1 1 13 1-5 1 11 1 4 1-13 1-20 1 3 1 2 1-6 1-21 1 21 1 2 1-8 1 3 1 13 1-1 1-1 1 12 1-8 1-5 1 2 1-8 1 2 1 12 1-9 1-6 1-1 1 1 1 4 1 0 1 7 1 5 1-31 1 26 1-9 1-2 1-9 1 1 1-5"/>
<path vector-effect="non-scaling-stroke" d="M0 200.0l1-7 1 0 1 8 1-2 1 4 1-23 1 30 1 1 1-4 1 1 1 10 1-4 1-7 1-5 1-19 1 31 1-8 1 10 1 3 1 4 1 12 1-18 1 9 1-24 1-29 1 104 1 44 1-15 1-2 1-11 1 14 1 4 1 12 1-8 1-3 1 4 1-30 1 22 1-4 1 21 1 16 1-25 1-9 1 2 1-12 1-16 1 19 1 13 1 3 1-23 1 5 1 8 1-6 1-4 1 1 1-6 1 11 1-1 1-15 1-4 1-1 1-3 1-8 1-5 1-13 1 8 1-5 1 4 1 16 1 15 1-14 1-14 1-2 1 2 1 2 1 3 1 12 1-9 1-12 1 2 1 1 1 8 1-1 1-16 1 13 1-31 1 20 1 0 1 4 1-3 1 5 1-5 1-25 1 6 1 4 1-2 1 5 1 12 1-14 1 4 1-4 1 5 1 10 1-10 1-14 1-4 1 29 1 11 1-24 1 15 1-12 1-3 1 9 1-30 1 5 1 7 1-2 1 11 1 10 1-12 1 0 1-17 1 0 1 14 1 8 1-15 1-13 1 4 1 6 1 5 1 13 1 2 1-4 1-6 1-30 1 25 1-9 1 14 1 6 1-2 1-16 1 0 1-2 1 4 1-1 1 19 1-4 1-20 1-6 1 5 1 5 1 16 1-11 1-22 1 7 1 13 1-9 1 3 1 4 1 7 1 1 1 4 1-26 1 9 1 2 1 4 1 6 1-5 1-15 1 7 1-4 1 10 1-2 1 6 1-5 1-38 1 28 1-12 1-15 1 11 1 13 1 1 1-2 1-14 1 9 1 10 1 1 1 13 1-7 1-32 1 21 1 7 1 0 1 12 1 3 1-20 1 13 1-18 1 3 1 8 1 3 1-4 1-16 1 16 1-6 1-12 1-6 1 36 1-15 1-9 1-8 1 15 1-4 1 9 1-5 1 7 1 2 1-15 1-5 1 14 1 4 1-6 1 12 1-2 1-4 1-4 1-1 1-1 1-2 1 3 1 8 1 7 1-11 1-72 1 68 1-6 1 9 1-11 1-73 1 76 1 0 1-11 1 14 1-6 1-2 1 0 1 11 1-3 1 2 1 4 1-2 1-1 1 7 1-64 1 58 1-4 1 1 1 5 1-3 1-20 1 19 1-4 1 0 1 2 1-3 1 10 1 0 1-7 1-7 1-8 1 5 1-3 1 2 1-49 1 48 1-4 1 2 1 4 1 2 1-1 1 1 1-6 1 0 1 1 1 0 1 7 1-1 1-10 1-15 1 10 1 24 1-16 1-15 1 10 1-3 1 5 1-10 1-13 1 70 1 6 1-11 1-18 1 20 1-24 1 8 1 43 1-13 1-41 1-19 1 35 1-18 1 13 1 8 1 1 1-1 1-15 1 7 1-27 1 38 1-3 1 6 1 3 1-14 1 5 1-8 1 6 1 3 1 7 1 6 1-12 1-19 1 6 1-3 1-5 1 15 1-10 1-8 1 6 1 2 1 11 1 1 1-4 1 10 1-13 1-11 1 5 1 9 1-9 1 6 1 0 1-13 1 5 1 4 1 5 1 8 1-10 1 4 1-2 1-5 1 4 1-3 1-1 1-12 1 0"/>
<path vector-effect="non-scaling-stroke" d="M0 208.0l1-13 1 15 1-14 1 7 1 11 1 1 1 6 1-4 1 0 1-1 1 7 1-3 1 1 1 0 1-1 1-8 1 15 1-45 1 45 1 6 1 9 1-13 1 2 1-11 1-13 1 67 1 36 1 11 1 1 1-11 1 3 1-8 1 14 1-2 1-4 1 5 1-8 1 7 1 0 1 4 1 17 1-26 1 3 1-4 1 1 1-42 1 37 1-1 1 3 1-8 1-3 1-5 1 12 1 0 1-5 1 6 1 13 1-23 1-4 1-10 1 3 1-7 1-12 1-7 1 0 1 1 1-11 1 14 1 6 1 17 1-10 1-10 1 1 1-2 1 5 1 3 1 7 1-10 1 3 1-11 1 2 1-7 1 13 1 9 1-8 1-19 1 14 1-12 1-3 1-9 1 12 1-1 1-18 1-7 1 10 1 2 1 9 1 5 1-14 1-3 1 3 1-4 1 10 1-13 1 9 1-7 1 19 1 2 1-7 1-14 1 17 1-17 1 4 1 2 1-10 1 1 1 2 1 9 1 0 1-1 1-43 1 29 1 0 1 10 1 2 1-7 1-5 1-4 1 15 1 2 1-6 1 15 1-2 1-17 1 3 1 0 1 2 1 3 1 10 1-6 1-71 1 61 1-3 1 4 1 6 1 3 1 9 1 8 1-36 1-32 1 40 1-3 1 6 1-4 1-7 1-33 1 35 1 10 1-2 1 5 1 18 1-13 1-14 1-5 1 3 1 12 1-17 1 10 1-18 1-17 1 21 1 37 1 20 1-46 1-5 1-5 1-7 1 0 1 1 1-1 1 5 1 7 1-30 1 12 1 7 1 3 1-3 1 6 1-4 1 6 1-12 1 13 1 5 1-6 1 4 1 1 1 1 1-44 1 35 1 1 1 9 1 5 1-12 1-13 1 8 1-10 1 15 1 1 1-6 1-6 1-5 1 1 1 7 1-6 1 17 1 5 1-11 1-3 1-5 1 8 1-6 1 9 1-2 1 10 1-25 1-22 1 16 1 12 1 13 1 3 1-6 1 5 1-21 1 13 1-2 1-10 1 9 1 3 1-7 1 2 1 3 1-14 1 15 1 5 1-27 1 19 1 2 1 2 1 1 1 5 1-7 1 6 1-18 1 3 1 12 1 4 1 1 1-2 1-1 1-26 1 16 1 5 1 5 1-1 1 2 1 2 1 0 1-13 1 3 1 0 1-9 1 1 1 2 1-7 1-30 1 36 1 4 1-1 1 22 1-23 1-9 1 14 1 0 1-1 1 4 1 2 1-10 1-8 1-7 1 13 1-5 1-4 1 0 1-6 1 10 1-16 1 20 1-6 1 40 1 13 1-13 1-17 1 22 1-8 1 2 1 33 1-16 1-31 1-10 1-20 1 33 1 5 1-1 1 5 1-19 1 27 1-10 1 3 1 6 1-3 1 2 1-1 1-15 1 12 1-2 1-15 1 19 1-5 1 16 1-16 1 5 1-9 1-20 1 17 1-6 1 1 1-19 1 20 1 4 1-8 1 12 1 4 1 5 1-5 1 0 1-2 1-2 1 2 1-1 1-2 1-7 1-20 1 11 1 13 1 1 1 10 1 13 1-14 1-30 1 22 1 0 1-1 1-30 1 9"/>
<path vector-effect="non-scaling-stroke" d="M0 234.0l1-44 1 43 1 6 1 0 1 3 1-3 1 13 1-10 1 8 1-1 1-65 1 73 1-11 1 9 1 0 1 4 1 1 1 12 1-3 1 19 1 10 1-4 1-18 1-26 1-26 1 104 1 35 1-10 1-7 1-11 1 4 1 8 1 3 1-4 1 2 1 5 1-18 1 4 1 14 1 11 1 6 1-10 1-13 1-9 1-8 1 7 1 5 1 14 1-1 1-20 1-15 1 22 1 14 1-20 1 5 1 3 1 14 1-6 1-17 1-2 1-14 1 9 1-10 1-6 1-10 1 0 1-10 1 3 1 14 1 24 1-18 1-9 1 2 1 7 1-5 1 7 1 13 1-18 1-8 1 8 1-2 1 0 1 15 1 9 1-20 1-10 1-3 1 3 1-1 1-2 1 9 1-7 1-29 1 3 1 5 1 11 1 15 1-5 1-4 1-30 1 23 1 5 1 5 1-8 1-7 1-37 1 66 1 0 1-24 1-6 1 9 1-6 1 0 1-5 1-11 1 3 1 4 1 1 1 9 1-1 1-30 1 7 1 5 1 6 1 9 1 2 1-19 1-29 1 31 1 10 1 5 1 8 1-4 1-15 1-38 1 26 1 14 1 7 1 3 1 3 1-16 1-2 1 3 1-3 1 3 1 4 1 5 1 1 1-16 1 0 1 9 1 13 1-18 1-2 1-7 1 3 1 0 1-1 1 11 1 13 1-4 1-18 1-15 1 22 1 4 1 5 1 4 1-4 1-13 1-7 1 16 1 0 1-5 1 9 1-9 1 6 1-16 1 1 1-7 1 9 1 3 1 2 1-9 1-69 1 70 1 0 1 7 1-2 1-5 1-6 1 1 1 2 1-2 1 13 1-3 1-66 1 60 1-14 1 6 1 9 1 1 1 14 1-4 1-56 1 31 1-1 1 21 1 6 1-10 1-16 1-19 1 23 1 8 1-6 1 6 1 5 1-2 1-10 1-11 1 8 1 12 1-4 1 15 1-8 1-2 1-6 1-1 1 0 1 2 1 1 1 5 1-15 1 15 1-78 1 67 1 2 1 2 1 0 1 8 1-4 1-1 1-3 1-1 1 2 1-70 1 63 1 8 1-2 1-9 1 19 1-4 1 13 1-14 1-3 1 3 1-3 1-6 1 5 1 3 1 2 1-10 1-5 1-4 1 11 1 4 1-19 1 27 1-39 1 26 1-7 1 4 1 1 1 3 1-6 1 11 1-3 1 0 1-7 1 2 1 13 1-9 1-1 1 1 1 1 1 3 1 11 1-7 1-36 1 15 1 11 1 24 1-17 1-22 1 27 1 0 1-20 1-22 1 10 1 94 1-19 1-17 1-13 1 9 1-30 1 16 1 56 1-1 1-49 1-19 1-39 1 59 1-60 1 59 1-1 1-14 1 10 1-6 1 4 1 5 1 2 1 6 1-3 1-12 1-12 1 7 1 2 1 5 1 4 1-5 1-2 1-9 1 3 1 3 1-3 1 2 1 3 1-9 1 3 1 0 1 3 1 5 1-3 1 4 1-4 1-20 1 7 1 5 1 6 1 1 1-6 1-7 1-1 1 6 1 7 1-6 1-5 1 15 1-10 1 2 1-12 1-2 1 11 1-4 1 3"/>
<path vector-effect="non-scaling-stroke" d="M0 219.0l1-11 1 10 1-4 1 14 1 0 1-3 1 5 1 0 1-9 1 2 1 11 1-2 1 1 1-4 1 18 1-14 1 10 1 1 1-7 1 15 1 10 1 6 1-16 1-23 1-34 1 106 1 48 1-18 1-6 1-6 1 0 1 10 1 3 1 8 1-2 1-21 1 10 1 0 1 16 1 6 1 1 1-4 1-21 1 2 1 3 1-40 1 40 1 3 1-2 1-8 1-6 1 11 1-4 1-2 1 2 1 13 1-2 1 0 1-25 1-4 1 0 1 0 1-10 1-12 1-13 1-2 1 9 1 2 1 12 1 13 1-9 1-12 1-11 1 8 1 1 1 6 1 13 1-13 1-22 1 15 1 6 1-2 1 8 1 20 1-24 1-30 1 12 1 0 1 2 1-2 1 12 1-16 1-11 1-5 1 5 1 3 1 3 1 17 1-28 1-3 1 7 1 9 1 10 1-8 1-9 1-8 1 31 1 8 1-22 1-5 1 10 1 8 1-8 1-21 1 6 1-6 1 12 1-1 1 9 1 2 1-32 1 4 1 10 1 2 1-1 1 10 1-41 1 18 1 10 1 10 1 11 1 2 1-10 1-4 1-8 1 1 1 12 1 6 1 2 1 9 1-29 1 1 1 11 1-1 1-11 1 9 1 9 1-8 1 2 1-15 1-3 1 7 1-2 1-12 1 4 1 2 1 0 1 1 1-3 1 15 1 7 1-10 1-2 1-7 1 6 1 7 1 3 1-10 1-3 1-34 1 23 1 9 1 18 1-13 1-1 1-3 1-25 1 10 1-2 1 2 1 8 1 3 1-19 1-61 1 21 1 49 1 15 1-11 1 2 1-47 1 13 1 33 1 8 1 2 1 1 1 4 1-12 1-15 1 6 1 12 1-3 1 5 1 3 1-4 1-15 1-4 1 23 1 7 1-12 1-6 1-3 1 1 1 10 1-9 1 11 1-1 1 0 1 13 1-27 1 8 1-3 1 13 1 0 1 0 1-9 1 3 1-7 1-7 1 17 1-5 1-3 1 7 1 1 1 2 1-2 1-10 1-2 1-6 1 2 1 14 1-3 1-2 1-6 1-1 1-1 1 4 1 1 1 10 1-6 1-2 1 5 1-14 1 8 1 7 1 0 1-3 1-5 1 5 1 3 1-4 1-13 1 11 1-1 1 2 1 8 1-5 1-2 1 1 1-9 1-1 1-1 1-4 1 7 1-5 1 1 1-4 1 3 1 7 1-8 1 3 1-51 1 52 1 3 1 1 1-1 1 0 1-1 1 3 1-24 1 13 1 41 1-31 1-20 1 8 1 8 1-27 1 12 1-3 1 83 1 27 1-59 1-32 1 44 1-35 1 10 1 63 1-11 1-43 1-34 1 20 1 9 1-2 1 20 1-20 1 0 1-15 1 2 1 16 1 5 1 4 1 2 1-11 1-28 1 16 1-11 1 21 1-3 1 4 1 25 1-46 1 16 1-10 1 0 1-1 1 2 1-3 1 1 1-6 1 7 1 2 1-6 1 8 1 8 1-10 1-14 1 8 1-7 1 20 1 2 1-12 1-9 1 0 1 8 1-1 1 8 1 3 1 4 1-6 1-2 1-7 1 3 1-6 1-32 1 27"/>
<path vector-effect="non-scaling-stroke" d="M0 218.0l1-4 1 1 1 4 1 4 1-1 1 1 1 9 1 19 1-25 1 5 1 1 1 1 1 1 1-3 1 4 1-9 1 11 1-1 1 14 1-11 1 16 1-2 1-19 1-7 1-37 1 106 1 42 1-6 1-18 1 7 1-3 1 9 1 2 1 3 1-1 1-12 1 10 1 1 1 10 1-3 1 11 1 0 1-16 1-12 1-5 1 12 1-17 1 7 1 11 1-11 1-21 1 12 1 16 1-7 1 1 1 7 1 0 1-8 1-10 1-8 1-10 1 3 1-4 1-10 1-14 1 8 1 7 1-4 1 11 1 13 1-10 1-3 1-11 1 3 1 3 1 2 1 15 1-11 1-21 1 9 1-9 1 19 1-35 1-18 1 44 1-14 1 11 1-5 1-7 1 2 1 5 1-4 1-22 1 1 1 1 1 10 1 2 1 8 1-15 1 1 1-6 1 5 1 3 1 4 1-11 1-3 1 24 1 1 1-8 1 3 1-1 1 9 1-13 1-6 1-10 1 5 1-10 1 3 1 13 1 1 1-6 1-11 1 4 1-3 1 13 1 6 1-23 1-6 1 18 1 15 1 5 1-3 1 1 1-6 1-7 1-1 1 4 1 4 1 13 1-11 1-8 1-21 1 13 1 11 1-3 1 6 1 2 1 0 1-8 1-5 1 4 1 0 1-4 1 5 1-19 1 6 1 3 1-2 1 2 1 13 1-4 1 13 1-5 1-20 1 6 1 14 1 4 1-10 1-11 1 3 1-4 1 3 1 11 1-13 1-12 1 12 1-5 1-5 1-1 1-8 1 13 1 2 1-6 1-4 1 3 1 9 1 2 1 4 1-6 1-2 1-6 1 3 1 9 1 5 1 8 1-7 1-5 1-7 1 2 1 9 1-2 1 1 1-29 1 25 1-6 1 0 1 12 1-3 1-4 1-1 1-11 1-5 1 6 1 8 1 7 1 0 1-5 1-4 1-10 1 11 1 3 1 13 1-7 1-3 1-1 1 6 1-11 1-2 1 3 1 3 1-1 1-9 1 19 1-16 1 3 1 1 1-3 1-3 1 2 1 1 1 6 1-5 1-7 1-4 1 8 1-1 1-3 1 5 1-2 1 8 1 0 1 6 1-5 1-2 1-1 1 0 1 43 1-45 1 11 1-6 1-10 1 4 1 13 1-8 1 5 1 2 1-37 1 27 1-5 1-7 1-3 1 11 1-15 1 1 1 4 1-11 1 12 1-4 1 5 1 7 1-36 1 32 1 1 1-1 1 2 1-8 1 14 1-38 1 20 1 3 1 14 1-8 1-6 1-4 1 13 1 0 1-34 1 20 1 68 1 4 1-15 1-12 1-3 1 4 1-2 1 35 1-5 1-23 1-26 1 7 1 2 1 7 1 7 1-7 1-9 1 3 1-32 1 32 1 8 1 9 1-3 1-5 1-40 1 33 1-2 1 5 1 0 1 9 1-31 1 22 1-15 1-3 1 9 1-37 1-20 1 49 1-4 1-19 1 28 1 2 1 3 1 5 1-1 1-10 1 2 1-4 1 7 1-3 1 5 1 0 1-7 1-2 1-12 1 19 1 1 1 0 1 5 1 8 1-8 1-9 1-1 1-11 1-49 1 40"/>
<path vector-effect="non-scaling-stroke" d="M0 224.0l1-2 1-1 1-2 1 12 1 1 1 10 1-9 1 1 1-5 1 7 1 1 1 10 1-8 1 1 1 4 1 2 1 3 1 1 1 6 1-3 1 21 1-3 1-18 1-13 1-35 1 132 1 11 1-7 1-3 1-6 1-2 1 2 1 5 1 6 1-2 1-3 1-6 1 0 1 9 1 5 1 25 1-24 1-3 1-10 1-1 1-12 1 20 1-7 1 4 1-6 1-10 1 8 1 5 1-3 1 1 1 11 1-19 1 17 1-28 1 0 1-3 1 4 1-4 1-36 1 14 1-4 1-7 1 13 1 13 1 11 1-9 1-14 1-2 1-6 1 16 1 2 1 9 1-12 1-13 1 0 1 12 1 0 1 7 1-2 1 9 1-31 1-3 1 1 1-13 1 10 1 9 1-8 1-26 1 8 1 6 1 4 1 11 1 5 1-15 1-11 1 7 1 5 1 0 1-1 1-10 1-25 1 51 1 3 1-25 1 1 1 7 1 4 1-6 1-10 1-6 1 2 1 8 1-1 1 12 1-7 1-24 1-2 1 6 1 3 1 6 1-1 1-11 1 0 1 1 1 18 1 6 1 11 1-7 1-12 1-13 1 4 1 7 1 10 1 15 1-5 1-35 1 9 1-2 1-2 1 2 1 11 1 2 1-18 1 0 1 9 1-9 1-1 1 1 1-3 1-2 1-6 1 11 1-4 1 11 1 6 1 5 1-11 1-5 1 1 1-10 1 16 1 8 1 3 1-21 1-2 1 4 1-5 1-3 1 7 1 2 1-3 1-7 1-5 1 2 1 5 1 3 1-8 1-3 1-10 1 15 1 4 1 5 1-7 1 2 1-10 1-3 1 13 1 1 1 3 1 13 1-9 1-30 1 11 1 10 1 1 1-1 1 1 1 8 1-10 1-22 1 5 1 23 1 3 1-8 1-2 1-24 1 31 1-16 1 7 1 8 1-6 1 1 1-11 1 1 1 7 1 7 1-4 1 2 1 7 1-9 1-10 1 4 1 2 1-11 1 20 1-2 1-12 1 4 1 3 1-5 1 2 1-5 1 0 1-1 1 2 1 6 1-4 1-5 1 6 1-12 1 18 1-10 1 4 1 2 1-5 1 9 1-1 1 5 1-9 1-4 1 6 1 4 1-5 1-3 1-63 1 67 1 10 1-6 1 5 1 0 1 5 1 5 1-12 1-9 1-6 1 1 1 5 1-5 1-4 1-30 1 37 1 4 1-11 1 15 1 16 1-13 1-9 1 13 1-14 1 19 1-9 1-1 1-15 1-8 1 7 1 20 1 1 1-17 1 4 1-4 1 6 1-17 1-6 1 88 1-93 1 106 1-69 1-113 1 120 1 11 1 52 1-2 1-96 1 26 1 9 1 3 1 20 1-23 1 11 1 19 1-30 1 11 1-4 1 5 1 5 1 1 1-6 1 7 1-32 1 18 1 1 1 8 1 4 1 4 1-11 1-29 1 0 1 22 1-3 1-6 1-5 1 17 1-14 1 7 1 4 1 2 1 3 1 6 1-7 1-56 1 12 1 33 1 6 1 2 1 1 1-10 1-5 1 1 1 10 1-8 1 15 1 1 1-13 1 2 1 1 1-3 1-18 1 20 1-6"/>
<path vector-effect="non-scaling-stroke" d="M0 226.0l1-3 1 3 1 0 1 1 1 8 1-3 1 2 1-4 1-1 1 5 1 6 1-1 1 5 1-1 1 13 1-15 1 9 1 22 1-12 1-1 1 20 1 11 1-36 1-11 1-68 1 138 1 36 1-16 1 4 1-4 1-1 1-2 1 8 1 6 1-3 1-11 1-2 1 11 1 8 1 4 1 8 1-7 1-1 1-13 1-7 1-3 1 3 1 4 1 14 1-26 1 2 1 3 1-10 1 13 1-5 1 10 1 3 1-16 1-10 1 4 1 0 1-11 1-11 1-68 1-35 1 91 1-6 1-2 1 18 1 20 1-19 1-12 1 4 1-6 1 2 1 11 1 1 1-1 1-20 1 14 1 1 1-2 1 13 1 6 1-21 1 0 1-6 1-13 1 5 1 1 1 25 1-17 1-39 1 19 1 0 1 5 1 14 1 2 1-21 1-4 1 3 1-8 1 13 1-5 1-2 1-14 1 29 1 13 1-12 1-10 1 9 1-1 1-6 1-4 1-13 1 1 1 4 1 6 1 5 1 1 1-22 1 0 1 3 1 3 1 9 1 13 1-50 1-17 1 52 1 7 1 7 1 2 1 8 1-16 1-11 1 2 1 4 1 6 1 2 1-6 1-6 1-12 1 7 1-7 1 14 1 2 1-1 1 0 1-9 1 4 1-5 1 10 1-3 1-1 1-29 1 27 1-9 1 8 1 1 1 8 1 9 1-8 1 3 1-12 1 4 1 6 1-11 1 4 1 3 1-21 1 7 1-2 1-7 1 6 1 9 1-30 1 14 1 6 1-19 1 10 1 8 1-3 1-10 1-9 1 16 1-2 1 16 1 3 1-9 1-10 1 5 1 4 1 3 1 13 1-3 1-3 1-3 1-22 1 16 1-1 1 7 1-1 1 7 1-5 1-4 1-15 1 21 1 1 1-10 1 0 1 15 1-23 1 6 1-4 1 8 1 0 1-36 1-16 1 45 1 0 1 21 1-15 1 15 1-16 1-9 1 7 1-4 1 4 1-3 1 3 1 8 1-4 1 5 1-9 1 1 1 3 1-7 1-1 1 6 1 0 1-2 1-6 1 4 1 4 1 1 1-14 1 11 1 5 1-5 1 1 1 10 1-9 1-9 1 7 1 1 1-11 1 8 1 3 1 0 1 2 1 3 1-11 1-1 1 2 1 8 1 10 1-15 1 0 1 1 1-18 1 7 1-2 1-3 1 5 1-25 1 19 1-1 1 16 1-9 1 0 1-4 1 8 1 4 1-6 1-36 1 49 1-3 1-4 1-23 1 13 1 17 1-8 1-42 1 44 1 11 1-16 1-23 1 5 1 67 1 14 1-34 1 0 1-49 1 43 1 13 1 36 1-1 1-28 1-74 1 51 1 15 1-4 1-12 1 17 1-12 1-14 1 6 1 23 1 0 1 2 1-1 1-4 1-5 1-19 1 10 1 15 1 4 1-3 1 12 1-25 1-5 1 0 1 2 1 0 1-2 1-1 1-8 1 16 1-8 1 9 1-4 1 5 1 1 1-9 1 3 1-3 1 2 1 3 1-4 1 8 1-11 1-5 1-1 1 9 1 3 1 1 1-3 1 1 1-19 1 16 1-5 1 1 1-1 1-1"/>
<path vector-effect="non-scaling-stroke" d="M0 219.0l1-18 1 18 1 0 1 0 1 10 1-8 1-4 1-34 1-30 1 63 1 20 1 0 1-10 1 7 1 4 1 4 1-3 1-24 1 36 1 1 1 23 1-6 1-26 1-9 1-36 1 117 1 32 1-20 1-7 1 2 1 7 1-2 1 7 1-3 1 9 1-13 1-5 1-2 1 10 1 19 1 8 1-6 1-17 1-23 1 16 1-8 1 11 1 5 1 0 1-17 1 21 1-11 1 4 1-5 1-4 1 18 1-9 1 8 1-23 1-11 1 7 1-3 1-9 1-9 1-13 1 11 1-11 1 1 1 19 1 12 1-21 1 5 1-8 1-11 1 9 1-32 1-17 1 75 1-54 1 27 1 0 1 4 1 10 1 16 1-30 1-5 1 4 1-3 1-2 1 5 1 0 1-5 1-28 1 7 1 5 1-3 1 19 1 15 1-49 1 6 1 11 1 17 1-3 1-8 1-7 1-11 1 29 1 11 1-15 1-8 1 6 1 9 1-52 1 32 1-5 1-7 1 1 1 15 1 4 1-3 1-18 1-8 1 9 1 0 1 7 1 7 1-25 1-44 1 57 1 10 1 6 1 8 1-4 1-9 1-23 1 9 1 15 1 10 1-1 1 1 1-14 1-13 1 15 1 6 1-18 1 8 1 6 1-9 1-10 1 8 1 0 1-25 1 24 1 1 1-9 1 1 1 1 1 0 1 14 1-1 1 11 1-6 1-20 1 3 1 7 1 16 1 12 1-25 1-20 1 13 1-15 1 19 1-10 1-3 1 10 1-46 1 1 1 39 1-3 1 2 1 0 1-8 1-6 1 4 1 3 1 9 1 1 1 1 1-8 1-17 1 12 1 8 1 5 1 3 1 7 1-2 1-11 1-10 1 9 1 14 1-8 1 4 1 3 1-9 1-8 1-12 1 27 1 3 1-17 1-1 1-5 1-5 1 11 1 4 1 2 1 1 1 0 1-22 1 8 1 17 1 3 1 4 1-4 1 2 1-4 1-5 1-6 1 0 1 4 1 5 1-1 1 2 1-13 1-4 1 6 1-3 1 1 1 1 1-12 1 19 1-6 1 10 1-12 1 0 1-9 1 8 1-5 1 12 1 3 1-3 1-1 1-23 1 19 1-41 1 43 1 0 1-6 1 5 1 4 1 0 1-10 1 0 1 3 1 1 1 6 1 9 1 0 1-33 1 17 1-11 1 2 1-4 1 2 1-40 1 43 1 2 1 0 1-1 1-4 1 13 1 1 1-6 1 16 1-18 1 9 1 4 1-10 1-7 1-8 1 0 1 10 1-9 1-4 1 10 1 1 1-23 1 11 1-2 1 88 1 12 1-49 1-37 1 55 1-21 1-14 1 64 1-7 1-45 1-23 1 14 1 10 1-16 1 10 1-5 1 2 1-5 1-26 1 41 1 6 1-2 1 1 1 1 1-12 1-10 1 6 1 8 1 0 1 9 1 2 1-11 1-14 1 0 1-3 1 6 1-8 1-1 1-12 1 22 1-4 1-3 1 7 1 2 1-2 1 2 1-13 1 5 1 1 1 8 1-4 1-8 1-26 1 28 1 0 1 5 1 1 1 4 1 2 1 0 1-2 1-4 1-2 1-19 1 11 1-2"/>
<path vector-effect="non-scaling-stroke" d="M0 208.0l1 2 1-4 1 1 1 6 1 0 1-3 1 8 1 4 1-43 1 37 1 7 1-14 1 11 1 14 1-12 1 1 1 2 1-3 1 7 1-3 1-40 1 50 1-4 1-25 1-12 1 76 1 55 1-4 1-20 1 7 1-3 1 7 1 3 1 2 1-3 1-4 1-8 1 2 1 11 1 7 1 2 1-1 1-7 1-11 1-13 1 7 1 4 1 7 1 1 1-13 1 2 1-6 1 6 1-6 1 1 1 1 1 10 1-9 1-12 1-8 1 1 1 1 1 7 1-37 1 11 1-6 1-3 1 9 1 20 1 1 1-6 1-4 1-1 1-9 1 3 1 6 1 9 1-10 1-30 1 14 1 6 1 10 1 3 1-32 1 11 1 6 1-4 1 0 1 1 1-5 1 14 1-17 1-14 1-2 1 1 1 9 1 7 1 5 1 0 1-25 1 9 1 4 1-2 1 1 1-2 1-4 1 57 1-13 1-23 1-12 1 8 1 9 1-8 1-9 1-11 1 4 1 4 1-3 1 11 1-1 1-12 1-8 1 17 1-11 1 4 1 7 1-6 1-14 1 13 1 8 1 7 1 24 1-22 1-4 1-24 1 9 1 8 1 7 1 2 1 3 1-23 1 1 1-1 1 5 1-9 1 10 1 7 1-20 1 6 1 3 1-1 1 0 1-1 1 1 1-8 1-14 1 14 1 1 1 13 1 2 1 11 1-7 1-5 1-3 1 0 1-2 1 12 1-2 1-17 1-17 1 9 1 1 1 10 1-3 1 3 1-49 1 37 1 9 1-2 1-11 1 8 1-7 1-6 1-5 1 12 1 7 1 0 1 2 1-4 1-9 1-4 1 9 1 6 1 5 1 3 1 6 1-22 1 2 1 18 1-12 1-3 1 3 1 8 1-3 1-16 1 0 1 13 1 9 1-13 1-6 1-4 1-12 1 19 1 2 1 2 1-5 1 9 1-5 1-23 1 28 1-2 1 7 1 8 1-13 1 4 1-7 1 1 1-4 1 5 1-2 1 0 1 6 1 3 1-7 1-3 1-2 1-3 1-18 1-6 1 37 1-10 1 3 1-7 1 1 1 0 1-12 1 11 1 7 1 3 1-19 1 19 1 0 1-1 1 5 1-5 1-5 1 3 1 5 1-1 1-3 1-14 1 10 1 2 1 2 1 5 1 7 1-5 1-6 1-9 1-8 1-9 1 9 1 1 1-14 1 6 1 3 1 2 1 5 1-1 1 4 1-4 1 13 1-9 1 1 1 3 1-1 1-4 1-7 1-7 1 32 1-7 1-5 1 2 1-25 1 13 1-3 1-3 1 3 1 60 1 11 1-38 1-20 1 14 1 9 1 7 1 34 1-5 1-48 1-20 1 14 1 8 1-12 1 27 1-11 1 0 1-23 1 20 1 17 1-1 1 1 1-2 1-2 1-7 1 0 1-2 1 6 1 5 1 2 1 11 1-14 1-11 1 1 1-7 1 10 1-7 1-12 1 4 1 6 1-1 1 4 1 2 1 3 1 3 1-14 1-46 1 41 1 9 1-1 1 6 1-2 1-13 1-1 1 2 1 9 1 1 1 4 1 6 1-12 1 7 1-1 1-4 1-3 1-12 1-3"/>
<path vector-effect="non-scaling-stroke" d="M0 201.0l1 2 1 3 1 8 1-9 1 10 1 1 1 3 1-5 1 5 1-5 1 4 1-3 1-6 1 23 1-7 1-1 1-17 1 20 1 3 1 1 1 11 1-3 1-22 1 3 1-44 1 95 1 57 1-8 1-4 1-4 1 6 1 1 1-2 1 2 1 2 1-11 1-12 1 9 1 16 1 4 1 13 1-13 1-26 1 11 1-6 1-4 1 3 1 13 1-3 1-16 1-5 1 13 1-3 1-7 1 1 1 4 1 12 1-12 1-15 1-3 1 10 1-17 1-8 1-9 1 6 1-15 1 0 1 13 1 8 1 16 1-4 1-20 1 2 1-5 1 1 1 4 1 7 1-8 1-13 1 9 1-16 1 18 1-1 1 13 1-21 1-5 1 2 1-6 1-4 1 4 1 5 1 0 1-18 1 2 1 2 1-2 1 17 1 4 1-13 1-5 1 2 1 3 1 6 1-8 1-8 1 0 1 15 1 14 1-17 1-12 1 13 1 6 1-8 1-7 1-10 1 5 1 3 1 2 1 10 1 4 1-10 1-18 1 2 1 5 1 3 1 12 1-20 1-11 1 11 1 14 1 0 1 44 1-11 1-41 1-3 1 0 1 3 1 5 1 8 1-6 1-7 1-8 1 2 1 8 1-7 1 11 1-5 1-14 1 2 1-7 1-5 1 9 1 8 1-3 1-8 1-9 1 27 1-2 1-12 1 17 1-25 1 9 1 6 1-4 1-2 1 13 1-2 1-3 1-9 1 11 1-9 1-4 1 0 1 7 1 2 1-14 1-8 1 11 1-1 1 0 1 5 1-4 1-8 1-2 1 0 1 4 1 6 1 8 1 0 1-11 1 2 1 0 1 15 1-9 1 3 1 5 1 0 1 4 1-13 1-14 1 15 1 7 1-2 1-5 1-5 1-15 1 32 1-1 1-12 1-16 1 6 1 0 1 9 1 1 1 3 1 0 1-13 1-12 1 26 1-14 1 14 1 28 1-15 1-19 1 8 1-5 1 10 1-10 1 3 1 2 1 2 1-5 1-2 1-1 1 4 1-11 1-1 1 5 1-3 1-2 1 6 1 0 1 1 1-7 1 1 1 2 1-6 1 12 1-7 1 5 1 7 1 0 1 2 1-5 1 1 1-5 1 12 1-23 1 22 1-11 1 3 1 2 1 7 1-15 1 6 1 3 1 3 1-19 1 11 1-12 1 4 1-12 1 8 1 5 1-7 1-3 1 11 1 6 1-2 1 8 1 6 1-14 1 2 1-3 1 7 1 10 1-7 1-20 1-3 1 2 1 20 1-11 1-4 1-15 1-31 1 43 1-15 1 25 1 69 1-18 1-2 1-30 1 34 1-22 1 7 1 56 1-27 1-34 1-18 1-2 1 19 1-7 1-6 1 18 1-14 1-3 1 31 1-18 1 5 1 13 1-16 1-26 1-22 1 26 1 13 1 9 1 3 1-2 1 7 1-4 1-19 1 3 1-1 1-2 1-1 1-6 1-11 1 18 1-1 1 3 1 5 1 3 1 1 1 0 1-14 1-1 1 6 1-2 1 4 1 10 1-18 1-6 1 9 1 0 1 9 1-16 1 19 1-10 1 2 1-1 1-5 1-8 1-2 1 2"/>
<path vector-effect="non-scaling-stroke" d="M0 206.0l1-15 1 7 1 5 1-1 1-3 1-4 1 9 1 0 1 0 1 11 1-10 1 1 1 3 1 2 1-1 1 1 1 3 1-2 1 3 1 8 1 20 1-6 1-18 1-18 1-25 1 83 1 84 1-40 1-1 1-12 1 11 1 4 1 2 1 2 1-2 1-15 1 8 1-4 1 11 1 10 1 8 1-7 1-18 1 5 1-28 1-34 1 51 1 3 1 3 1-12 1 6 1-5 1 4 1-11 1 7 1 4 1-4 1 11 1-20 1 1 1-9 1 9 1-16 1-3 1-89 1 77 1 1 1 12 1 9 1 13 1-12 1-6 1-7 1-5 1 8 1 3 1 9 1-9 1-17 1 7 1-5 1 9 1 12 1 8 1-13 1 3 1-19 1-6 1 1 1 3 1-2 1-15 1-21 1 17 1 10 1-2 1 13 1 2 1-3 1-39 1 24 1 6 1-6 1 16 1-19 1-4 1 23 1 10 1-20 1-2 1 5 1 3 1-24 1 8 1-2 1-6 1 10 1 7 1-4 1-10 1-2 1-3 1 4 1-4 1 15 1-8 1-2 1-10 1 10 1 5 1 10 1 3 1-2 1-16 1-2 1 3 1-4 1 10 1 7 1-6 1-27 1 14 1 1 1 4 1-1 1 2 1 4 1-9 1 5 1-13 1 4 1-6 1 14 1-6 1-6 1-6 1-15 1 17 1 6 1-17 1 71 1 21 1-88 1 11 1 0 1 13 1 4 1-7 1-20 1 6 1 2 1-2 1 14 1-6 1-2 1 0 1-42 1 28 1 4 1-2 1 9 1-5 1-13 1 6 1 10 1 1 1 1 1 6 1-10 1 14 1-16 1 6 1 4 1 2 1 8 1-7 1-9 1-24 1 26 1-1 1-5 1 15 1 6 1-14 1-7 1-14 1 34 1 1 1-12 1-15 1 2 1 2 1 1 1 7 1 7 1-2 1-11 1 3 1 5 1-6 1 13 1-5 1 8 1-1 1-10 1-5 1 1 1 0 1 0 1 1 1 3 1 5 1-21 1-16 1 16 1 6 1-2 1 2 1 3 1 5 1-6 1-1 1 3 1-3 1-1 1-4 1-1 1 3 1 9 1-6 1 6 1-19 1 17 1 11 1-12 1-4 1 0 1-1 1-5 1 9 1-12 1 7 1 3 1-2 1 5 1 4 1-10 1-1 1-2 1-9 1-16 1 19 1 2 1-2 1 4 1-2 1 3 1-1 1-8 1-9 1-31 1 46 1-1 1 1 1 3 1-7 1 0 1-5 1 0 1 0 1 15 1-9 1 5 1-8 1 9 1-28 1 3 1-8 1 78 1-11 1-16 1-55 1 69 1-28 1 6 1 42 1-4 1-30 1-21 1 31 1-22 1 22 1 6 1-8 1-6 1 4 1-24 1 37 1-3 1 4 1-8 1 22 1-25 1-11 1 12 1 3 1 6 1-3 1 13 1-31 1 12 1-2 1 0 1-2 1 0 1-1 1-23 1 23 1 1 1-2 1 1 1 13 1 0 1-8 1-3 1-1 1 2 1-1 1 2 1 1 1-8 1-5 1 5 1 9 1 1 1 4 1-2 1-2 1-31 1 29 1 1 1-10 1-3 1-2"/>
<path vector-effect="non-scaling-stroke" d="M0 201.0l1-42 1 19 1 19 1 1 1 5 1 0 1 3 1-1 1-2 1 3 1 8 1-9 1-1 1 1 1 12 1-11 1-1 1 3 1-1 1 7 1 2 1 8 1-6 1-8 1-112 1 160 1 82 1-31 1-11 1-12 1 10 1 1 1 4 1 5 1-11 1 4 1-25 1 17 1 8 1 3 1 7 1-7 1-7 1-5 1-9 1-2 1 6 1 4 1 2 1-7 1-11 1 6 1-6 1 3 1-9 1 7 1 16 1-9 1-25 1 10 1-2 1 7 1-12 1-8 1 0 1-4 1-4 1 10 1 11 1 13 1-15 1 2 1-14 1 1 1-1 1 9 1 8 1-11 1-13 1 9 1-1 1 0 1 17 1 1 1-12 1-13 1-12 1 11 1 2 1-4 1 8 1-4 1-22 1 5 1-4 1 8 1 7 1 11 1-17 1-5 1 1 1 0 1 19 1-5 1-4 1-31 1 22 1 29 1-37 1 8 1 8 1 0 1-5 1-9 1 1 1-7 1 21 1-8 1 2 1 4 1-25 1-2 1-3 1 13 1 5 1 1 1-19 1 6 1 3 1 16 1 1 1-4 1-3 1-3 1-16 1 20 1-9 1 9 1 4 1 2 1-20 1 0 1 1 1 1 1-1 1 6 1-3 1-5 1-3 1 0 1 2 1 5 1 4 1-7 1-16 1 8 1 7 1-2 1 10 1-1 1 6 1 3 1-20 1 12 1-7 1 6 1 9 1-9 1-14 1 5 1 1 1 5 1-6 1 3 1 0 1-5 1-12 1 4 1 4 1-1 1 14 1-11 1-3 1-11 1 18 1 1 1-8 1 6 1 4 1-30 1 18 1 8 1 3 1 0 1 24 1-8 1-16 1-43 1 42 1 0 1-6 1 4 1 8 1-7 1-9 1-6 1 16 1-4 1 10 1 36 1 20 1-91 1 24 1 7 1 3 1-6 1-4 1-4 1-2 1 10 1 4 1-3 1 17 1-16 1 1 1-6 1-1 1 2 1 10 1-10 1-11 1 12 1 3 1 72 1-78 1 1 1-5 1 0 1 3 1 4 1-3 1 16 1-16 1-9 1 6 1-2 1 13 1-3 1 1 1-7 1 3 1 2 1-18 1 17 1 0 1-2 1-5 1 6 1 4 1-5 1-2 1-5 1 8 1 2 1-10 1 14 1-15 1 1 1-2 1-8 1 13 1-23 1 11 1-1 1 0 1 7 1-10 1 6 1 1 1 9 1-8 1 3 1 2 1 1 1-3 1 41 1-42 1-19 1-5 1 12 1 18 1-24 1 6 1 3 1 6 1-6 1-7 1-14 1 78 1-6 1-25 1-23 1 43 1-15 1 73 1 24 1-59 1-40 1-20 1 7 1 12 1 7 1 5 1 3 1-14 1-1 1 4 1 14 1-5 1 2 1 1 1 1 1-6 1-3 1-2 1 7 1 4 1 3 1 6 1-10 1-14 1 8 1-8 1 2 1-2 1-7 1 6 1-6 1 8 1 5 1-12 1 10 1 7 1-6 1-6 1 7 1-7 1 7 1-10 1 16 1-16 1-2 1 3 1 2 1-4 1 8 1 6 1-6 1-2 1-3 1-3 1-2 1-5 1 2"/>
<path vector-effect="non-scaling-stroke" d="M0 203.0l1-5 1 4 1 0 1 6 1 5 1-6 1 7 1 19 1-25 1 11 1 2 1-1 1-6 1 4 1 4 1-2 1 5 1 0 1 6 1 9 1-3 1-7 1-3 1-14 1-14 1 77 1 51 1 0 1-16 1-11 1 13 1 1 1 6 1-3 1 3 1-8 1 12 1-15 1 11 1 6 1 11 1-4 1-26 1 4 1-14 1 6 1 15 1-2 1-7 1-13 1 8 1-1 1 7 1-7 1-5 1 14 1 6 1-8 1-25 1 9 1-9 1 2 1-14 1-8 1 2 1-8 1-3 1 7 1 12 1 9 1-3 1-9 1-8 1 2 1-2 1 11 1 3 1 4 1-26 1 4 1 7 1-2 1 15 1 5 1-15 1-10 1-5 1 5 1-6 1-3 1-2 1 14 1-29 1 1 1 2 1 15 1-4 1 12 1-11 1-16 1 9 1 2 1 3 1-12 1 0 1 3 1 19 1 2 1-11 1-2 1 6 1 5 1-9 1-12 1 2 1-18 1-5 1 30 1 2 1 1 1-9 1-8 1 4 1 4 1 10 1 3 1-15 1 1 1 1 1 5 1 9 1-9 1 11 1-20 1-1 1 5 1 7 1 5 1-10 1 12 1-15 1-8 1-3 1 3 1 12 1 3 1 4 1-34 1 19 1-2 1 6 1-11 1 13 1-4 1-15 1 8 1-16 1 18 1 24 1-6 1 14 1-16 1-7 1-2 1-2 1 0 1 3 1-2 1-9 1 0 1-1 1 0 1 0 1 3 1 1 1-5 1-1 1-6 1 16 1-14 1-1 1 1 1-9 1-35 1 40 1 9 1-5 1 16 1-1 1-18 1 2 1 7 1-3 1 10 1 0 1 4 1-12 1-16 1 8 1 13 1 2 1 4 1-15 1-13 1 15 1-7 1 9 1 13 1-6 1-4 1-6 1-11 1 11 1 3 1 2 1-1 1-1 1-13 1 3 1-5 1 20 1 9 1-5 1-1 1-21 1-5 1 11 1 1 1 2 1-1 1 6 1 6 1-5 1-8 1 7 1-7 1 6 1-4 1-3 1-1 1 1 1 11 1-9 1-7 1 1 1 0 1 8 1-3 1 5 1 2 1 2 1 4 1-8 1-10 1 19 1-13 1 2 1 2 1-2 1 10 1-7 1-3 1 0 1 5 1 0 1-27 1-23 1 44 1-12 1-3 1 6 1-9 1 0 1 7 1 0 1-9 1 9 1 4 1-6 1 12 1-10 1-22 1 26 1 3 1-13 1 14 1 0 1 21 1-40 1 17 1 7 1-16 1-12 1 18 1-13 1 6 1-2 1-2 1 58 1 5 1-20 1-14 1 22 1-11 1-1 1 23 1 4 1-25 1-57 1 45 1-3 1 31 1-21 1-9 1 2 1-13 1 56 1-8 1-15 1-10 1 3 1-9 1 3 1-25 1 8 1 13 1 7 1 4 1 21 1-32 1-6 1 4 1 17 1-21 1-14 1 5 1 5 1-6 1 8 1 0 1 3 1 4 1 6 1 12 1-23 1-1 1 4 1-7 1 10 1 3 1-29 1 8 1 10 1-1 1 12 1-6 1 8 1-12 1-2 1 12 1-11 1-3 1-13 1-3"/>
<path vector-effect="non-scaling-stroke" d="M0 212.0l1 0 1-1 1 4 1-1 1 8 1-23 1 22 1-2 1-3 1 6 1-4 1 10 1 23 1-25 1 6 1 0 1-6 1 3 1 11 1 3 1 10 1-2 1 1 1-25 1-7 1 69 1 49 1-11 1-4 1-5 1 6 1 2 1-1 1 2 1 7 1-1 1-7 1-1 1 4 1 2 1 14 1-10 1-14 1-12 1 7 1-6 1 4 1 12 1-3 1-12 1-3 1 7 1 3 1-12 1 1 1 10 1 4 1-8 1-7 1-15 1 2 1-3 1-27 1 9 1-11 1 0 1 3 1 5 1 16 1 9 1-10 1-3 1-1 1-10 1 7 1 0 1 13 1-9 1-10 1-5 1 5 1 7 1 4 1-1 1-8 1-15 1 2 1 0 1-2 1-6 1 6 1 0 1-22 1 6 1 7 1-3 1 6 1 14 1-23 1-33 1 30 1 11 1-6 1-1 1-3 1-8 1 18 1 11 1-5 1-6 1 4 1-29 1-20 1 43 1-8 1 4 1-7 1 0 1 9 1-44 1 14 1 11 1 7 1-6 1 11 1 3 1-25 1 17 1 8 1 5 1 8 1-1 1 0 1-8 1-1 1-21 1 21 1 2 1 2 1-35 1-27 1 46 1 2 1 5 1 14 1-12 1 5 1-13 1 4 1-57 1 19 1 27 1 1 1 4 1-11 1 3 1 2 1 6 1-3 1 11 1 0 1 17 1-31 1 8 1 1 1-2 1 7 1-3 1-5 1-43 1 33 1-4 1 5 1 1 1 2 1-1 1-20 1-4 1 15 1 10 1-12 1-7 1 5 1-7 1 12 1 3 1 18 1-11 1-11 1-19 1 24 1 22 1-8 1-1 1 1 1-1 1-8 1 4 1-7 1 3 1 6 1 0 1-7 1-6 1 5 1-26 1 29 1 6 1-18 1 8 1-29 1 21 1-3 1 2 1 24 1-11 1 1 1 1 1-8 1 4 1 2 1 6 1 13 1-8 1-5 1 0 1-4 1-3 1 0 1 2 1 4 1 0 1-2 1-5 1 19 1-9 1-21 1 6 1 3 1 2 1 3 1-13 1 3 1 1 1 1 1-2 1 8 1-3 1-1 1 9 1 6 1-5 1-5 1-7 1 10 1-2 1 14 1-15 1 1 1 1 1-4 1 8 1-4 1 2 1 2 1 2 1-2 1-2 1-3 1-11 1-1 1 9 1-10 1-11 1 11 1-4 1 9 1 8 1-8 1 6 1-10 1 5 1 2 1 7 1-7 1 9 1-17 1 3 1 1 1-1 1 21 1-23 1-4 1 5 1 4 1 10 1-9 1 2 1 49 1 13 1-32 1-13 1-19 1 32 1 6 1 26 1 20 1-47 1-45 1 31 1 6 1 3 1-11 1-5 1 2 1 9 1-6 1 0 1 11 1 10 1-9 1 2 1 4 1-43 1 30 1 8 1-1 1 4 1 3 1 0 1-11 1-11 1-5 1 5 1-10 1-2 1-5 1 18 1 0 1-7 1 6 1 3 1 10 1-5 1-11 1 1 1 1 1-5 1 10 1-9 1-3 1-14 1 21 1 0 1 9 1-5 1 1 1-3 1 14 1-14 1-2 1-6 1-42 1 35"/>
<path vector-effect="non-scaling-stroke" d="M0 225.0l1-8 1 5 1 6 1 10 1-15 1 1 1 11 1 2 1-3 1-2 1 6 1 2 1-29 1 24 1 1 1 12 1 6 1-3 1-2 1 7 1 17 1-16 1-34 1 10 1-23 1 104 1 35 1-4 1-15 1-2 1 2 1 3 1-1 1 6 1 6 1-10 1-10 1 15 1 2 1 15 1 2 1-6 1-16 1-7 1-3 1 4 1-2 1 4 1 1 1-5 1-26 1 20 1 6 1-13 1 9 1 3 1 6 1-11 1-17 1 10 1-22 1 8 1-8 1-28 1 9 1-2 1-1 1 12 1 11 1 15 1-16 1-5 1-6 1-1 1 1 1 3 1 9 1-4 1-18 1 14 1-8 1-12 1 31 1 9 1-33 1 6 1-9 1 8 1-9 1-2 1 12 1-2 1-52 1 8 1 33 1-3 1 6 1 14 1-8 1-7 1-6 1 7 1 7 1-10 1-6 1 20 1 22 1-9 1-24 1-6 1 10 1 2 1-7 1-7 1-5 1-13 1 28 1-9 1 17 1-12 1-12 1-11 1 2 1 12 1 7 1-5 1 9 1-34 1 22 1 8 1 17 1-7 1-30 1 14 1-25 1 22 1 5 1-2 1 14 1 0 1-27 1 7 1 0 1 3 1 7 1 10 1-8 1 25 1-59 1 14 1 6 1-11 1 17 1-9 1-21 1 18 1-81 1 86 1 3 1 6 1 11 1-7 1-75 1 64 1-9 1 19 1-1 1-4 1-9 1-3 1 2 1-4 1 1 1 12 1-12 1-66 1 70 1-15 1 15 1-21 1 7 1 5 1-7 1-4 1 19 1-10 1 12 1 1 1-1 1-8 1-4 1 10 1-2 1 4 1 13 1-9 1-6 1-14 1 15 1-2 1 3 1-7 1 11 1-12 1-2 1-12 1 20 1 2 1-7 1-11 1-2 1 7 1-21 1 27 1 0 1 7 1-3 1-15 1 7 1 9 1-17 1 14 1 2 1 6 1-2 1-6 1-4 1 2 1 1 1 1 1 9 1 3 1-22 1 1 1 9 1 0 1-7 1 9 1-3 1 3 1-3 1-2 1-8 1 1 1-1 1 3 1 3 1 9 1-9 1 16 1-10 1 9 1-11 1-1 1 2 1-2 1-1 1 2 1 2 1-7 1-4 1 6 1-8 1 8 1 5 1 6 1 1 1-8 1-7 1-6 1 10 1-4 1-23 1-7 1 31 1-2 1-10 1 5 1 3 1-1 1 4 1-2 1 9 1-9 1 0 1 4 1 6 1-13 1 0 1-4 1 12 1 1 1-15 1 9 1 6 1-28 1-4 1 25 1 75 1-4 1-34 1-31 1 44 1-31 1 17 1 60 1-27 1-48 1-26 1 21 1 24 1-8 1 3 1 7 1-24 1 10 1 1 1-2 1 10 1 2 1 0 1-15 1 0 1-3 1 6 1-8 1 20 1-8 1 0 1-15 1-2 1 3 1 3 1-6 1 1 1-24 1-2 1 25 1-4 1 7 1 2 1 3 1 7 1 2 1-17 1-1 1 8 1 0 1 1 1-6 1-9 1-17 1 15 1 16 1-6 1 16 1 0 1-3 1-7 1-7 1 4 1-6 1 0 1-6"/>
<path vector-effect="non-scaling-stroke" d="M0 206.0l1-19 1 14 1-1 1 6 1 3 1-3 1 0 1 3 1 4 1-1 1 4 1 2 1 1 1-2 1 1 1 0 1-2 1 4 1 3 1 7 1 33 1-17 1-23 1-15 1-35 1 107 1 82 1-49 1-7 1-1 1 2 1 1 1 12 1-4 1-1 1-6 1-3 1 1 1 15 1 9 1 5 1-11 1-13 1-4 1-5 1-3 1 5 1-3 1 12 1-15 1-19 1 19 1 4 1-3 1-3 1 4 1 10 1-29 1 4 1 0 1 2 1-9 1-4 1-23 1-7 1 14 1-2 1 8 1 13 1 8 1-10 1-16 1 0 1 1 1-3 1 12 1 7 1-10 1-20 1 9 1 2 1 4 1 7 1 10 1-15 1-14 1 7 1-2 1-5 1 2 1 6 1-6 1-27 1 8 1 4 1 0 1 11 1 4 1-16 1-4 1 2 1 6 1-4 1 1 1-2 1-30 1 55 1 0 1-11 1-9 1 8 1-5 1 3 1-12 1-1 1-9 1 7 1 12 1 6 1-4 1-21 1-4 1 8 1 6 1 7 1-1 1-10 1-3 1 6 1 5 1 16 1-12 1 6 1-15 1-17 1 17 1 3 1 12 1 9 1 0 1-32 1 6 1 13 1-5 1-6 1 0 1 13 1-5 1-22 1 10 1 0 1-2 1 9 1-5 1 0 1-6 1-8 1 20 1-6 1 23 1-46 1 11 1 16 1-15 1 13 1 15 1-7 1-10 1-5 1-13 1 10 1 3 1-1 1 9 1 0 1-16 1 0 1 10 1-12 1 9 1-6 1-3 1-4 1-1 1 10 1 2 1 4 1-4 1-21 1 12 1 5 1 6 1 2 1 7 1-2 1 10 1-18 1-4 1 6 1 3 1 0 1 1 1-52 1 56 1-16 1-4 1 19 1 11 1-11 1-18 1-2 1 0 1 16 1-16 1 3 1 22 1-14 1-7 1 6 1 8 1-8 1 8 1-2 1 6 1-10 1-16 1 11 1-3 1 6 1-2 1 7 1-4 1-6 1 3 1-2 1-2 1-1 1 7 1-9 1 2 1 27 1-25 1-5 1-1 1-8 1-15 1 28 1 3 1-10 1 14 1-25 1 39 1-16 1 0 1-2 1 11 1-11 1-1 1 1 1-2 1-36 1 36 1-10 1 7 1 7 1 2 1 3 1-8 1-11 1-6 1-7 1 4 1-1 1-5 1 23 1-13 1 1 1 1 1 5 1 4 1-6 1-5 1 4 1 2 1 7 1-11 1 3 1-29 1 8 1 10 1 18 1-9 1-59 1 48 1-26 1 24 1-10 1 17 1 52 1 10 1 1 1-60 1 40 1-22 1 12 1 43 1-13 1-34 1-12 1-2 1-6 1-28 1 54 1-2 1-5 1 5 1 28 1-24 1 2 1 5 1-2 1-5 1 2 1-7 1-1 1-7 1 18 1 16 1-6 1-1 1-18 1 0 1-7 1 2 1-27 1 11 1-9 1 19 1 3 1-2 1 7 1 2 1 6 1-7 1 1 1-8 1 7 1-3 1 3 1-8 1-13 1 5 1 14 1-5 1 7 1 7 1-1 1-26 1-33 1 21 1 24 1-4 1-6 1 1"/>
<path vector-effect="non-scaling-stroke" d="M0 224.0l1-15 1 6 1-2 1 3 1 5 1-10 1 14 1 0 1-5 1 19 1-27 1 16 1-17 1 14 1-4 1 11 1-1 1 2 1 7 1 6 1-22 1 25 1-11 1-8 1-33 1 97 1 49 1-8 1-9 1-5 1 5 1-7 1 11 1 9 1-10 1-3 1-5 1 5 1 10 1 3 1 11 1-11 1-8 1-13 1-5 1-1 1 8 1 0 1 6 1-11 1-7 1 2 1 13 1-4 1-6 1 11 1 6 1-10 1-21 1-2 1-2 1 5 1-17 1-19 1 2 1-4 1 2 1 9 1 12 1 9 1-8 1-11 1-2 1 0 1-3 1 22 1-1 1-17 1-15 1 4 1 9 1 3 1 5 1 8 1-20 1-3 1-7 1-1 1 1 1-3 1 14 1-2 1-32 1 8 1-2 1-5 1 24 1 0 1-20 1-6 1-1 1 12 1 6 1-5 1-2 1-11 1 5 1 29 1-11 1-6 1 11 1-3 1-7 1-3 1-7 1-5 1 12 1 8 1-6 1-23 1 12 1-4 1 1 1-3 1 18 1-13 1-1 1-8 1 13 1 13 1 1 1 11 1-8 1-3 1-66 1 55 1 7 1 0 1 7 1 0 1-21 1-2 1 12 1-3 1 0 1-10 1 9 1 28 1-12 1-24 1 0 1-4 1 4 1-12 1 5 1 10 1-20 1 16 1 17 1 3 1 1 1-7 1-12 1-6 1 6 1 7 1 7 1-8 1-14 1 7 1-5 1 1 1 0 1 4 1 9 1-12 1-9 1-1 1-8 1-1 1 20 1-1 1-15 1-19 1 27 1 2 1 3 1 4 1-7 1-3 1 0 1 6 1-5 1 11 1-3 1-4 1-2 1-10 1 9 1 4 1-4 1-19 1-19 1 23 1 11 1-4 1 11 1 4 1-4 1-21 1 11 1-2 1 6 1 3 1 1 1 1 1-2 1-7 1-2 1 10 1 1 1 20 1-13 1 1 1 1 1-24 1 10 1-9 1 16 1-6 1 7 1-4 1-4 1-6 1 3 1 5 1-11 1 4 1 3 1-4 1 1 1-8 1 4 1 2 1 3 1 0 1 1 1 2 1 5 1 3 1-4 1 9 1-34 1 26 1 8 1-23 1 6 1 7 1 0 1-2 1-45 1 30 1 12 1 7 1 1 1 2 1 5 1-10 1-8 1-23 1 13 1-9 1 21 1-20 1 7 1 5 1-1 1 7 1 6 1-11 1 16 1-6 1 6 1-6 1 12 1-2 1 4 1-28 1-6 1 6 1 18 1-9 1-2 1-16 1 8 1-2 1 0 1 8 1 70 1-134 1 106 1-60 1 60 1-6 1 5 1 49 1-3 1-13 1-57 1 14 1 3 1-36 1 42 1-4 1-1 1-7 1-2 1 10 1 9 1 5 1 4 1-7 1-9 1-28 1 28 1 0 1 4 1 5 1 5 1-4 1-23 1 3 1-1 1-2 1 1 1-8 1 1 1 6 1-1 1 3 1 3 1 5 1-2 1 4 1-12 1 11 1-2 1-7 1 1 1 4 1-5 1-7 1 6 1 13 1-6 1-2 1 14 1-63 1-36 1 85 1-5 1-1 1-5 1-9"/>
<path vector-effect="non-scaling-stroke" d="M0 208.0l1-15 1 18 1-6 1-10 1 16 1-2 1-1 1 2 1 3 1-1 1 3 1-11 1-16 1 30 1-4 1-6 1 11 1-1 1 5 1 4 1 2 1-2 1-5 1 0 1-35 1 104 1 37 1-12 1-13 1 2 1 1 1 7 1 1 1 6 1-4 1-4 1-8 1 6 1 4 1 4 1 13 1-7 1-20 1 0 1-12 1 11 1-4 1 6 1 1 1-6 1-20 1 12 1 7 1-2 1-12 1 13 1 1 1-13 1-1 1 3 1-12 1-3 1-5 1-26 1 11 1-5 1-9 1 20 1 8 1 20 1-14 1-23 1 3 1 1 1-4 1 7 1 14 1-18 1-4 1-2 1 1 1-4 1 14 1 12 1-12 1-17 1 1 1-1 1-1 1 20 1-7 1-28 1-4 1 6 1 6 1-7 1 13 1-4 1 2 1-41 1 30 1 9 1-1 1-1 1-10 1 8 1-14 1 32 1-14 1-7 1 12 1 4 1 0 1-15 1-5 1-7 1-1 1 12 1 7 1-24 1 9 1-6 1 8 1 1 1 7 1-9 1-6 1-3 1 7 1 3 1 14 1 0 1 0 1-15 1-2 1 2 1 6 1 4 1 3 1-12 1-10 1 3 1 3 1-4 1 6 1 3 1 2 1 1 1-25 1 17 1-5 1-2 1 2 1-3 1-1 1-4 1 4 1-9 1 13 1 9 1 3 1 0 1-25 1 8 1 4 1 11 1 5 1-2 1-11 1 0 1-7 1 2 1-2 1 3 1 8 1-10 1-6 1-24 1 17 1 6 1 4 1-7 1-2 1 2 1-6 1 9 1 10 1-2 1-2 1-6 1-11 1 27 1-9 1 5 1 2 1 34 1-74 1 23 1 11 1 1 1 5 1 8 1-9 1-13 1-1 1-9 1 24 1 15 1-15 1-16 1-3 1-21 1 17 1 13 1 1 1 2 1-4 1-28 1 25 1 3 1 3 1 10 1-5 1 3 1-6 1-20 1 12 1-1 1-2 1 6 1-20 1 24 1-4 1-5 1 8 1-4 1 0 1-4 1 2 1 8 1-10 1-2 1-1 1 5 1-1 1-19 1 35 1-8 1 1 1 4 1-1 1-10 1 7 1-4 1 1 1-1 1-15 1 13 1 6 1-2 1-6 1 10 1-8 1 0 1 3 1 3 1 3 1-15 1 0 1-5 1-2 1 5 1-11 1 8 1-11 1 16 1 5 1-8 1 0 1 0 1 2 1-26 1 23 1 7 1-9 1 10 1-6 1-10 1-8 1 5 1 19 1-17 1-3 1 4 1 5 1-9 1-31 1 24 1 63 1-6 1-13 1-49 1 38 1 18 1-4 1 33 1-13 1-17 1-45 1 20 1 8 1-4 1 22 1-7 1 1 1-15 1 7 1 13 1 15 1-15 1 0 1-5 1-7 1 8 1-1 1 5 1 3 1 3 1 12 1-6 1-42 1 17 1 9 1 17 1-19 1-3 1-6 1 7 1 2 1 8 1 1 1-3 1 7 1-10 1-10 1 9 1-6 1 7 1 0 1 10 1-6 1-8 1-1 1 7 1 5 1 3 1 3 1-6 1-9 1 10 1-8 1-1 1-9 1 4"/>
<path vector-effect="non-scaling-stroke" d="M0 221.0l1-7 1 6 1 1 1 2 1-8 1 14 1 2 1 4 1-7 1-3 1 7 1 4 1-34 1 34 1 1 1-5 1 12 1 7 1 12 1-13 1 15 1-9 1 1 1-16 1-84 1 136 1 55 1-9 1-14 1 3 1-4 1 12 1-2 1 2 1 0 1 5 1-8 1 0 1 4 1 10 1-2 1 1 1-8 1-8 1 1 1-71 1 20 1 49 1-3 1-4 1-3 1 2 1-1 1 8 1-9 1 5 1 0 1 9 1-16 1-12 1-2 1 1 1-3 1-8 1-9 1 3 1-9 1 4 1 9 1 7 1 10 1-23 1 0 1 3 1-1 1 5 1-34 1 35 1-14 1 9 1-1 1 1 1 8 1-49 1 46 1-7 1-4 1-3 1-3 1 3 1-1 1 1 1-25 1 23 1-13 1 17 1-7 1 3 1-26 1 16 1 3 1 3 1 4 1-1 1-2 1-9 1 50 1-22 1-16 1-14 1 11 1 3 1-23 1 10 1-4 1-4 1 10 1 1 1 5 1-5 1-7 1 0 1-2 1 5 1 2 1 5 1-25 1 19 1 0 1 1 1-1 1 11 1-7 1-13 1-34 1 39 1 3 1 9 1-1 1 2 1-12 1-4 1 1 1 6 1 9 1-11 1 1 1 0 1-5 1-6 1 5 1-1 1-2 1 0 1-3 1-3 1 1 1 9 1 2 1-23 1 30 1-7 1-5 1-6 1 1 1 10 1-3 1 0 1-20 1 3 1 10 1-6 1 1 1 6 1-3 1 2 1-7 1 6 1-6 1 8 1-3 1-1 1-6 1-17 1 19 1 7 1 0 1 5 1 4 1-51 1 31 1 7 1-1 1 2 1 7 1-66 1 17 1 38 1 5 1 8 1-3 1 2 1 1 1-11 1-1 1-3 1 17 1-3 1-2 1-8 1-2 1-4 1 6 1-5 1 19 1-6 1-7 1 2 1-11 1 9 1-11 1 16 1 5 1-14 1 6 1-18 1 12 1 4 1-3 1 4 1-1 1 5 1-12 1 7 1-5 1 0 1 3 1 0 1-1 1 2 1 9 1-28 1 14 1 5 1-13 1 9 1-11 1 13 1 5 1-8 1 7 1-14 1 11 1 5 1-8 1-1 1-6 1 7 1 5 1-29 1 28 1-5 1 2 1 0 1-20 1 25 1-6 1 1 1-15 1-2 1 3 1 4 1-2 1-1 1-9 1 9 1 4 1-3 1 13 1-9 1-41 1 48 1-10 1 20 1-11 1-2 1 1 1-45 1 21 1 15 1 8 1-1 1-60 1 46 1 7 1 10 1-14 1 2 1 53 1-4 1-14 1-38 1 39 1-3 1 4 1 30 1-3 1-86 1 56 1 7 1-13 1 2 1 5 1-7 1-1 1-17 1 17 1 9 1-2 1 3 1-7 1 8 1-10 1-4 1 4 1 5 1 0 1 1 1 11 1-18 1-11 1 0 1 13 1-4 1-20 1 12 1-2 1 2 1 4 1-2 1-12 1 18 1 1 1-2 1-6 1-3 1 1 1 1 1 4 1-7 1-17 1 7 1 11 1 2 1 2 1 2 1 7 1-6 1-8 1 1 1 2 1 3 1-17 1 2"/>
<path vector-effect="non-scaling-stroke" d="M0 209.0l1-7 1 8 1 0 1 3 1 5 1-3 1 13 1-2 1-4 1 1 1-2 1 7 1-9 1 2 1 45 1-60 1 23 1 3 1 5 1-1 1 11 1-3 1-24 1 2 1-14 1 87 1 41 1-8 1-6 1 0 1-10 1 11 1 1 1 1 1-5 1 5 1-14 1 4 1 8 1 13 1 6 1-9 1-11 1-9 1-8 1 9 1-3 1 14 1-6 1-4 1-36 1 26 1 4 1-6 1 3 1 0 1 1 1 1 1-10 1-7 1-7 1-2 1-12 1-3 1-17 1 4 1 2 1 8 1 7 1 18 1-2 1-26 1 5 1-2 1 0 1 8 1-2 1-6 1-16 1 11 1 4 1 3 1 9 1 6 1-14 1-11 1 6 1-8 1 2 1-6 1 4 1-1 1-15 1-4 1 13 1-5 1 7 1 6 1-2 1-15 1-1 1 2 1 4 1 4 1-12 1-5 1 0 1 35 1-17 1-4 1 0 1 12 1-19 1-11 1 8 1-3 1 7 1 16 1-5 1 0 1-34 1 8 1-5 1-3 1 20 1 0 1-1 1-30 1 24 1 8 1 8 1 12 1-7 1-9 1-6 1-7 1 9 1 3 1 8 1-2 1-10 1-17 1 18 1-8 1-6 1 7 1 3 1-2 1-11 1 9 1-4 1 2 1 1 1-5 1 0 1 4 1 1 1 14 1-7 1-3 1 13 1-3 1-8 1-6 1 0 1 19 1-6 1-9 1 0 1-9 1-4 1 9 1 0 1 0 1 4 1 6 1-11 1-9 1 5 1 0 1 9 1-13 1-8 1 6 1 1 1 17 1-12 1 8 1-7 1-15 1 13 1-2 1 2 1 7 1 2 1 1 1-8 1-8 1 11 1 0 1 1 1-4 1 26 1-18 1-13 1 1 1 9 1 5 1-15 1 2 1-10 1 13 1-4 1 2 1 4 1 5 1-13 1-12 1 15 1-3 1 9 1 2 1 7 1 0 1-10 1-23 1 27 1-12 1 5 1 9 1-12 1-3 1 10 1-2 1 4 1-9 1 4 1-2 1-2 1-6 1 8 1-1 1-5 1 4 1-5 1 2 1 4 1 2 1 1 1 5 1-24 1 31 1-7 1-12 1 7 1 6 1-1 1-5 1 0 1 3 1-1 1-5 1 6 1 5 1-3 1-5 1 12 1-14 1-6 1-1 1-9 1 6 1 2 1-11 1 13 1 0 1-7 1 9 1-3 1 7 1 1 1-7 1-8 1 20 1 5 1-7 1-7 1-23 1 7 1 0 1 15 1 10 1-11 1 14 1-9 1-55 1 43 1 2 1 65 1 0 1-7 1-48 1 32 1-8 1 9 1 29 1-11 1-24 1-17 1 6 1 7 1-49 1 18 1 26 1 8 1-37 1 23 1 23 1 1 1-4 1-2 1 0 1 6 1-32 1 17 1-3 1 9 1 16 1-15 1 7 1-29 1 7 1-1 1 3 1-6 1 9 1-16 1 7 1 6 1-12 1 15 1 0 1 4 1 0 1 1 1-6 1 4 1 3 1 1 1-7 1-9 1 5 1 10 1-9 1 5 1 3 1 6 1-11 1 2 1 4 1-2 1-15 1-1 1 5"/>
<path vector-effect="non-scaling-stroke" d="M0 216.0l1 1 1 4 1 0 1 2 1 11 1-5 1-2 1 2 1-2 1 5 1 9 1-5 1-40 1 11 1 46 1-5 1 2 1-3 1 9 1 1 1 15 1 8 1-21 1-13 1-18 1 84 1 30 1 2 1-3 1-17 1 9 1 9 1 0 1-2 1-1 1 3 1-16 1 9 1 9 1 5 1 11 1-4 1-12 1-8 1-8 1-3 1 7 1 8 1-1 1-10 1-3 1 2 1 0 1 6 1-1 1 3 1 5 1-5 1-12 1-7 1 2 1 3 1-8 1-29 1 8 1-7 1-4 1 10 1 9 1 11 1-44 1 22 1-4 1 0 1 9 1 8 1 3 1-12 1-7 1-1 1-1 1 3 1 2 1 24 1-20 1-2 1-7 1-2 1-1 1-2 1-5 1 6 1-23 1 5 1 1 1 9 1 3 1 4 1-14 1-5 1 2 1 11 1 2 1-8 1-7 1-2 1 20 1 2 1-7 1-1 1 0 1-13 1 7 1-8 1-3 1-12 1 9 1 7 1-1 1-14 1 3 1-9 1 6 1-3 1 9 1-1 1-15 1-3 1 16 1 4 1 9 1 8 1-2 1-9 1-1 1 5 1 2 1-3 1 3 1 4 1-23 1-11 1 16 1-3 1 5 1 4 1 0 1 15 1-33 1-26 1 26 1 10 1-12 1 10 1-17 1 16 1 8 1-7 1 2 1 7 1 8 1-8 1-2 1-6 1 11 1 0 1-8 1 7 1-13 1 9 1 1 1-7 1-3 1 12 1-5 1-3 1 1 1-11 1 0 1-3 1 13 1-8 1-34 1 29 1 5 1-1 1 2 1 3 1-6 1-4 1-11 1 13 1 2 1 5 1 2 1 3 1-5 1-8 1 3 1 2 1-7 1 15 1 1 1-20 1 2 1 2 1 9 1 4 1-5 1-14 1-3 1 30 1-20 1 16 1-19 1 12 1-5 1-5 1 11 1-8 1-1 1 10 1 6 1 1 1-1 1-14 1-1 1-4 1 6 1-2 1 11 1-31 1 28 1-3 1-2 1 6 1-3 1-26 1 22 1-8 1 11 1 3 1-6 1-4 1-1 1 15 1-14 1 1 1 9 1-2 1-4 1 7 1 1 1-7 1-13 1 15 1-3 1-2 1 10 1-9 1-10 1 9 1-6 1 6 1 6 1 9 1-5 1-7 1-17 1 0 1 4 1 2 1-11 1 12 1-4 1 15 1-16 1 14 1 0 1-12 1 9 1-12 1 11 1-1 1 2 1 9 1 4 1-18 1-11 1 6 1 6 1 9 1-7 1-13 1 12 1-44 1 38 1-2 1 86 1-17 1-28 1-49 1 57 1-13 1 2 1 40 1-10 1-22 1-10 1-14 1 13 1 3 1 2 1-6 1-2 1-9 1-7 1 23 1 4 1 3 1-4 1 1 1 5 1-13 1-3 1 5 1 0 1 5 1 3 1-13 1 0 1-10 1 8 1 2 1-5 1-3 1-2 1-13 1 18 1 9 1-5 1 4 1 1 1-6 1 0 1-6 1-2 1-1 1 3 1-3 1-1 1-19 1 17 1 8 1 2 1 1 1 7 1-18 1-52 1 61 1-6 1-6 1 2 1-3"/>
<path vector-effect="non-scaling-stroke" d="M0 206.0l1-9 1-1 1 7 1 5 1 1 1-1 1 4 1-16 1 17 1-17 1 21 1-8 1 11 1-3 1-14 1 13 1 6 1-20 1 13 1 12 1 17 1-47 1 20 1 3 1-16 1 76 1 45 1-8 1-3 1-5 1 1 1 7 1-1 1-2 1-9 1 9 1-11 1 10 1 7 1 11 1-4 1 1 1-16 1-9 1 1 1-6 1 6 1-3 1 5 1-10 1 3 1 0 1-1 1-6 1 1 1 5 1 8 1-8 1-16 1 2 1-5 1-2 1-17 1-7 1 11 1-15 1 3 1 7 1 15 1 14 1-18 1-12 1 2 1 3 1-5 1 2 1 2 1-12 1-7 1 11 1 5 1 5 1-5 1 11 1-6 1-17 1 2 1-6 1 1 1 3 1-2 1 1 1-21 1 5 1-19 1 27 1 3 1 12 1-25 1 2 1 4 1 7 1-7 1 0 1-7 1-17 1 60 1-6 1-27 1-4 1 11 1-2 1 1 1-9 1-16 1 10 1 7 1-1 1 4 1 2 1-12 1-5 1 0 1 6 1 1 1-14 1 1 1 6 1 3 1 4 1 43 1 17 1-49 1-20 1 0 1 4 1 0 1 7 1 9 1-9 1-5 1-19 1 13 1-3 1 24 1-13 1 1 1-7 1-9 1 5 1 3 1-2 1 0 1-1 1-3 1-4 1 5 1 22 1-18 1 7 1 14 1-17 1 6 1-23 1 10 1 2 1 8 1-14 1-18 1 14 1 6 1-6 1-3 1-12 1 19 1-5 1 1 1-8 1 0 1 7 1 0 1-6 1-3 1 0 1 5 1 4 1 8 1 10 1-19 1-1 1-4 1 2 1 10 1-11 1 16 1-1 1-8 1-5 1 5 1 2 1-2 1-10 1 13 1-6 1-10 1 3 1 11 1-3 1-1 1-13 1 6 1 1 1 5 1 4 1 2 1-2 1-2 1-29 1 28 1 0 1-1 1 12 1 0 1 3 1-8 1-2 1-1 1-4 1 4 1 1 1 6 1-5 1 0 1-5 1 6 1-3 1 1 1-2 1 2 1-22 1 23 1-2 1-2 1 7 1-7 1 1 1-17 1 24 1 1 1 7 1-7 1 4 1-10 1 2 1 1 1-7 1 9 1-36 1 35 1 1 1-7 1-3 1 10 1-2 1 3 1 0 1 6 1-18 1 5 1-1 1-7 1-6 1 8 1-2 1 8 1-12 1-2 1 5 1 1 1-5 1 11 1-53 1 45 1-2 1-8 1 18 1 4 1-20 1-9 1 17 1 0 1-1 1-60 1 61 1-22 1 9 1-12 1 9 1 70 1-10 1-22 1-16 1 10 1-4 1-2 1 45 1-15 1-21 1-88 1 69 1 11 1 15 1-5 1 2 1 1 1-18 1 11 1 9 1 4 1 2 1 5 1-5 1-6 1-2 1-1 1 0 1 8 1 5 1 61 1-58 1-17 1-1 1-4 1 9 1-7 1 2 1-31 1 21 1 1 1 11 1 4 1-7 1 15 1-7 1-9 1 2 1 3 1 9 1-3 1-7 1-5 1-5 1 10 1-2 1 8 1-4 1 4 1 3 1-16 1 8 1-2 1-21 1 11 1-1"/>
<path vector-effect="non-scaling-stroke" d="M0 224.0l1-10 1 8 1 5 1-5 1 8 1 3 1 3 1-13 1 10 1 0 1 6 1-1 1-3 1-5 1 1 1 9 1 7 1-3 1 13 1-10 1-30 1 43 1-14 1-13 1-22 1 103 1 31 1-1 1-11 1-3 1-6 1 5 1 3 1 5 1-1 1-22 1 11 1 12 1-1 1 0 1 21 1-9 1-23 1 4 1 2 1-106 1 101 1 15 1-3 1-16 1 10 1 10 1-13 1-10 1-4 1 14 1 9 1-15 1-19 1 8 1-8 1-1 1-2 1-22 1 0 1-2 1-10 1 13 1 9 1 23 1-17 1-5 1-15 1 18 1-11 1 6 1 17 1-14 1-9 1-3 1 2 1 13 1 1 1 17 1-22 1-11 1-5 1-19 1 30 1-8 1-4 1 2 1-42 1 20 1 9 1-5 1 12 1 12 1-24 1-10 1 8 1 6 1 10 1-26 1 14 1-12 1 43 1-6 1-18 1-8 1 13 1 1 1-20 1 5 1-7 1-3 1 6 1 7 1 6 1 0 1-44 1 33 1-10 1 6 1-1 1 33 1-55 1 22 1 4 1-4 1 12 1 9 1-2 1-18 1-37 1 13 1 30 1 13 1 0 1-2 1-28 1 7 1 2 1 1 1 1 1 5 1 1 1-17 1 6 1 0 1 6 1-14 1 6 1-1 1-25 1 18 1 3 1 1 1 7 1-32 1 48 1-4 1-22 1 5 1 8 1 4 1 6 1-16 1-12 1 4 1-1 1 10 1-3 1-2 1 2 1 6 1-15 1-4 1-1 1 1 1 4 1-5 1-28 1 23 1 4 1 9 1 2 1 2 1-4 1 0 1-1 1 0 1-2 1 9 1 1 1 0 1-8 1-1 1 5 1 0 1 5 1-1 1 6 1-16 1 0 1-3 1 16 1 3 1-20 1-22 1 23 1-9 1 11 1 1 1-3 1 10 1-2 1-6 1-11 1 13 1 10 1 0 1 3 1 0 1-5 1-11 1-9 1 8 1 2 1 11 1 7 1-12 1-5 1 12 1-16 1-6 1 9 1-2 1-2 1 0 1 8 1-2 1 5 1-27 1 18 1 6 1 0 1 4 1-3 1 1 1 12 1 0 1-14 1 10 1-5 1-8 1 1 1-16 1 23 1-1 1-10 1 3 1 5 1-7 1 8 1 9 1-2 1-15 1 4 1-11 1-4 1 13 1-6 1-6 1 2 1 5 1 1 1 0 1-1 1-9 1 8 1 6 1 1 1-4 1 7 1 6 1-2 1-16 1-17 1-34 1 74 1-68 1-25 1 90 1-14 1-16 1 10 1-3 1 77 1-1 1-33 1-39 1 42 1-10 1 4 1 69 1-31 1-27 1-27 1 5 1 5 1 12 1-5 1 3 1 0 1-44 1 28 1 22 1-10 1 9 1-20 1 25 1-86 1 67 1 0 1 1 1 7 1 25 1-18 1-1 1-18 1-1 1 3 1-8 1 2 1-10 1 1 1 7 1 3 1 9 1-3 1-6 1 10 1 1 1-12 1-2 1 2 1 9 1 3 1-12 1-6 1 2 1 2 1-3 1 3 1 13 1-4 1-1 1-2 1-3 1-8 1-2 1-1 1 2"/>
<path vector-effect="non-scaling-stroke" d="M0 198.0l1 0 1 3 1 6 1-10 1 5 1 3 1 6 1-4 1-6 1 11 1 1 1-1 1 1 1 0 1 10 1 0 1-7 1 7 1 0 1-5 1 19 1 3 1-13 1-21 1-22 1 91 1 44 1-4 1-10 1 0 1 1 1 0 1 6 1 5 1-1 1-11 1-1 1 1 1 6 1 5 1-7 1 11 1-17 1 4 1-17 1-10 1 18 1 0 1 5 1-6 1-11 1 14 1-1 1-9 1 0 1 3 1 2 1-1 1 1 1-21 1 4 1-2 1-9 1-6 1-14 1 8 1-3 1 4 1 11 1 16 1-9 1-12 1-4 1 2 1 4 1-3 1 10 1-9 1-11 1 4 1 3 1-2 1 11 1 26 1-30 1-13 1 2 1-3 1 3 1 3 1-3 1-5 1-15 1-1 1 5 1 2 1 7 1 6 1-20 1 2 1 0 1 21 1-10 1 5 1-14 1-33 1 40 1 12 1-3 1-12 1 6 1 1 1-5 1-4 1-10 1 1 1 1 1 1 1 5 1-3 1-6 1-5 1 5 1-1 1 5 1 4 1-27 1-5 1 23 1 5 1 6 1 28 1-28 1-11 1-14 1 12 1 2 1 14 1-4 1 1 1-9 1-10 1 2 1-2 1 12 1-11 1 11 1-13 1-13 1-56 1 72 1 10 1-14 1-1 1-32 1 20 1-24 1 41 1 3 1 4 1 8 1-11 1 3 1-2 1-5 1 2 1 11 1 0 1-20 1-3 1 7 1 16 1-16 1 3 1 10 1-11 1-20 1 10 1 0 1 5 1-7 1 0 1 0 1-74 1 75 1 3 1 11 1 1 1-8 1-2 1-30 1 29 1 3 1 7 1-20 1-26 1 38 1-5 1 8 1-5 1 1 1 8 1-16 1 6 1-11 1 7 1 13 1-11 1 0 1-6 1 7 1 0 1-7 1 17 1-11 1 11 1 1 1-10 1-7 1 19 1-2 1 4 1 0 1 11 1-14 1-3 1-6 1 1 1 10 1-9 1 2 1 5 1-1 1-5 1 1 1-7 1-11 1 13 1-2 1 4 1 3 1-13 1 6 1 4 1 0 1-1 1-1 1 1 1 14 1-14 1 10 1-3 1-11 1-2 1 15 1 1 1-7 1 4 1 5 1-2 1-14 1 9 1 1 1 1 1 6 1-3 1 7 1-7 1-7 1-10 1 5 1 1 1-6 1 4 1-3 1 1 1-6 1 6 1 3 1-6 1 9 1-10 1 7 1 8 1-7 1 5 1 5 1-6 1-45 1-38 1 91 1-33 1 4 1-5 1-9 1 32 1-15 1-7 1 68 1 5 1-27 1-60 1 76 1-20 1 10 1 27 1-7 1-40 1-13 1 16 1 8 1-3 1 4 1-8 1-12 1 15 1-44 1 58 1 3 1-10 1 7 1-4 1-3 1-3 1-2 1 4 1 15 1 4 1-5 1-8 1-10 1-9 1 9 1 1 1-2 1-8 1 1 1-3 1 4 1 3 1 4 1 5 1 6 1-22 1 12 1-7 1-5 1-17 1 26 1-3 1-17 1-10 1 23 1 4 1 16 1-8 1 0 1-7 1 15 1-15 1 9 1-22 1 1 1-4"/>
</g>
<path d="M152.5,214.0 155.0,207.4 156.6,213.9 158.0,212.0 160.1,210.0 162.0,218.0 163.5,220.6 165.3,220.6 166.6,223.2 168.8,221.5 170.0,222.0 172.3,224.6 173.0,226.0 174.0,221.3 176.0,224.0 177.5,225.1 179.2,225.7 180.0,228.2 181.0,235.4 183.0,230.0 184.4,233.3 186.0,236.0 188.3,239.9 190.0,253.3 191.4,245.1 192.5,240.0 194.5,225.0 196.9,196.6 197.7,250.0 198.6,300.0 199.6,338.3 202.5,326.0 203.6,321.9 205.7,315.8 207.1,317.1 209.0,322.0 210.6,322.2 212.3,326.2 213.2,328.3 214.0,327.1 215.8,321.3 218.2,315.8 219.3,322.4 221.0,328.0 222.8,334.8 224.9,344.0 226.2,335.8 228.0,325.0 229.7,321.6 231.5,312.9 232.4,308.3 233.2,309.7 235.0,316.0 236.7,319.5 238.2,323.3 240.2,313.9 241.5,305.8 243.7,313.5 245.0,312.0 247.1,307.9 248.0,307.0 248.9,309.1 251.0,316.0 252.4,322.5 253.2,323.3 254.1,312.0 255.4,300.0 257.6,294.4 259.0,291.7 261.1,287.9 261.9,283.9 262.8,279.2 265.2,262.7 266.3,262.0 268.0,261.7 270.1,258.6 271.5,262.6 272.5,275.0 273.3,283.2 275.0,295.4 276.7,283.1 279.1,270.9 280.2,267.6 282.0,271.5 283.7,272.3 284.8,270.9 287.2,284.2 288.1,290.5 288.9,273.1 289.7,261.0 290.7,262.8 292.4,265.7 294.2,271.7 296.2,272.5 297.6,281.1 299.5,288.8 301.1,276.4 302.8,262.7 304.6,263.8 306.3,260.1 308.1,257.7 309.8,259.6 310.9,257.8 312.6,269.2 313.3,260.5 315.0,235.7 316.8,238.6 318.5,240.7 320.7,246.3 322.0,253.3 324.0,262.7 325.5,243.0 326.5,238.2 327.2,241.3 329.0,244.8 330.7,244.6 332.2,251.2 334.2,246.2 335.9,239.6 337.9,236.5 339.4,261.0 340.4,274.1 341.2,263.7 343.6,248.0 344.7,250.0 346.4,259.6 347.4,261.9 348.1,261.6 349.9,248.7 351.6,245.8 353.4,241.2 354.7,235.8 356.8,241.0 358.6,250.7 360.3,250.4 361.2,255.4 362.1,250.9 363.8,237.7 365.3,230.9 367.3,238.5 369.0,239.9 370.8,243.4 372.7,248.8 374.3,233.7 375.1,230.9 376.0,237.8 377.7,242.9 379.5,249.8 381.2,257.5 383.3,263.5 384.7,259.0 386.4,250.5 388.2,243.7 389.0,242.3 389.9,243.2 391.7,252.1 393.4,251.1 395.2,257.4 396.4,261.9 398.8,239.0 400.4,239.1 402.1,241.1 403.9,242.7 405.4,242.3 407.3,243.7 409.1,246.2 410.3,252.1 411.9,235.8 414.3,235.8 416.1,238.2 417.8,237.3 420.1,235.8 421.3,233.7 423.0,228.8 424.2,226.8 426.5,231.6 428.2,233.7 429.1,235.8 430.0,241.0 431.7,244.7 434.0,255.4 435.2,249.4 436.9,239.9 438.1,234.1 440.4,241.1 442.2,244.8 444.6,250.5 445.7,247.0 447.0,230.9 449.1,233.9 450.9,233.9 452.6,226.8 454.4,230.9 456.1,232.3 458.5,235.8 459.6,230.9 461.3,227.3 462.6,221.9 464.8,217.6 466.6,224.7 468.3,224.7 469.1,222.7 470.0,217.5 472.4,213.7 473.5,214.9 475.3,220.2 477.3,227.6 478.7,230.6 480.5,234.1 482.2,230.3 484.6,221.9 485.7,228.4 487.4,227.7 489.2,233.5 490.0,233.7 490.9,235.9 492.7,242.6 494.1,241.9 496.2,234.2 497.4,227.2 499.6,233.2 501.4,230.9 503.1,235.2 504.9,236.6 506.3,240.3 508.3,235.2 510.1,226.7 512.1,217.4 513.6,232.8 514.5,243.5 515.3,238.0 517.1,230.0 519.4,215.8 520.5,216.3 522.3,218.7 524.0,224.4 525.8,231.3 527.5,228.8 529.2,232.1 531.0,226.7 533.3,222.3 534.5,222.5 536.2,226.0 537.9,233.5 539.7,237.9 541.4,240.0 542.3,241.9 543.2,240.4 544.9,235.8 546.7,231.6 548.4,224.0 549.7,223.9 551.9,226.8 553.6,231.1 555.4,232.4 556.2,235.4 557.1,233.1 558.8,229.9 560.6,228.3 562.3,228.2 564.1,223.1 565.2,222.3 567.6,223.2 569.3,226.0 571.7,225.6 572.8,226.0 574.5,226.7 576.3,217.7 578.0,222.2 579.9,219.0 581.5,220.3 583.2,223.9 585.0,227.8 586.7,230.7 588.1,230.5 590.2,233.1 591.9,231.8 593.7,235.1 594.6,232.1 595.4,230.7 597.2,229.3 598.9,229.4 601.1,225.6 602.4,227.0 604.1,235.9 605.2,233.7 607.7,223.9 609.3,227.6 611.1,231.6 612.6,228.8 614.6,233.4 616.3,236.7 617.5,240.3 619.8,230.1 621.5,223.2 623.2,214.1 625.0,212.3 626.8,213.7 628.5,212.3 630.5,211.7 632.0,216.0 633.7,212.8 635.5,217.5 637.1,216.6 639.0,216.9 640.7,217.8 642.4,219.9 643.6,222.3 645.9,220.0 648.2,222.5 649.4,223.8 651.1,226.9 652.3,225.8 654.6,213.7 656.4,205.3 657.2,199.6 658.1,213.4 659.6,227.4 661.6,218.4 663.7,207.8 665.1,211.9 666.1,214.3 666.8,213.0 668.6,208.4 670.3,211.2 672.7,207.0 673.8,281.0 676.4,281.0 678.5,225.0 681.0,272.0 683.4,237.0 686.6,303.0 690.7,231.0 692.9,234.1 694.7,244.1 696.4,247.9 697.2,250.3 698.2,251.3 699.9,246.6 701.6,242.8 703.4,242.8 704.6,240.5 707.0,255.2 708.6,255.1 710.3,257.0 711.9,258.4 713.8,254.1 715.6,249.8 717.3,245.8 718.4,243.7 720.8,248.3 722.5,254.1 724.3,254.7 726.6,265.0 727.8,254.0 729.1,242.1 731.2,237.3 733.0,239.9 734.8,235.6 736.5,235.9 738.2,227.1 739.7,229.0 741.7,232.6 743.4,235.0 744.6,237.2 746.9,239.2 748.7,245.4 751.1,248.6 752.1,243.6 754.4,235.6 755.6,232.9 757.4,237.0 759.1,238.4 760.8,240.1 761.8,240.5 762.6,234.8 765.0,227.4 766.1,231.1 767.8,235.4 769.6,235.8 771.3,240.8 773.0,246.0 774.8,250.3 776.5,245.7 778.3,246.8 780.5,238.8 781.7,236.2 783.5,229.6 785.2,225.9 786.3,224.9" fill="none" stroke="#ff0000" stroke-width="5.0" stroke-linejoin="round" stroke-linecap="round"/>
<path d="M153.1,419.1 162.3,419.1 171.5,419.0 180.6,419.0 189.8,418.9 199.0,418.9 208.2,418.8 217.4,416.2 226.6,414.2 235.7,415.5 244.9,415.5 254.1,413.6 263.3,374.5 272.5,373.5 281.7,363.4 290.8,369.8 300.0,382.5 309.2,393.0 318.4,407.2 327.6,373.5 336.8,394.5 345.9,402.2 355.1,402.2 364.3,399.5 373.5,408.5 382.7,412.7 391.9,400.5 401.0,398.0 410.2,404.4 419.4,399.2 428.6,398.5 437.8,402.6 447.0,395.0 456.1,388.0 465.3,393.9 474.5,388.5 483.7,382.4 492.9,392.2 502.1,376.4 511.2,396.6 520.4,396.6 529.6,379.0 538.8,372.0 548.0,332.8 557.2,350.2 566.3,353.6 575.5,382.4 584.7,343.0 593.9,305.8 603.1,326.9 612.2,313.1 621.4,313.1 630.6,343.4 639.8,330.7 649.0,365.7 658.2,315.0 667.3,263.0 676.5,286.0 685.7,299.8 694.9,293.9 704.7,299.8 713.9,228.0 723.0,140.0 732.2,82.0 741.4,136.6 750.6,160.5 759.8,150.0 769.0,192.4 778.1,104.0 786.7,20.6" fill="none" stroke="#1b70c6" stroke-width="3.3" stroke-linejoin="round" stroke-linecap="round"/>
<rect x="128.3" y="4.4" width="683.9000000000001" height="432.0" fill="none" stroke="#000" stroke-width="1.35"/>
<line x1="112.3" y1="21.2" x2="128.3" y2="21.2" stroke="#000" stroke-width="1.35"/>
<text transform="translate(91.2,20.3) rotate(-90) scale(0.925,1)" text-anchor="middle" font-size="28.6" fill="#1c1c1c">1.0</text>
<line x1="112.3" y1="120.8" x2="128.3" y2="120.8" stroke="#000" stroke-width="1.35"/>
<text transform="translate(91.2,119.9) rotate(-90) scale(0.925,1)" text-anchor="middle" font-size="28.6" fill="#1c1c1c">0.5</text>
<line x1="112.3" y1="220.45" x2="128.3" y2="220.45" stroke="#000" stroke-width="1.35"/>
<text transform="translate(91.2,219.5) rotate(-90) scale(0.925,1)" text-anchor="middle" font-size="28.6" fill="#1c1c1c">0.0</text>
<line x1="112.3" y1="320.1" x2="128.3" y2="320.1" stroke="#000" stroke-width="1.35"/>
<text transform="translate(91.2,321.7) rotate(-90) scale(0.925,1)" text-anchor="middle" font-size="28.6" fill="#1c1c1c">-0.5</text>
<line x1="112.3" y1="419.7" x2="128.3" y2="419.7" stroke="#000" stroke-width="1.35"/>
<text transform="translate(91.2,421.3) rotate(-90) scale(0.925,1)" text-anchor="middle" font-size="28.6" fill="#1c1c1c">-1.0</text>
<line x1="153.1" y1="436.4" x2="153.1" y2="451.9" stroke="#000" stroke-width="1.35"/>
<text transform="translate(152.2,494.6) scale(0.925,1)" text-anchor="middle" font-size="28.6" fill="#1c1c1c">Mar</text>
<line x1="259.3" y1="436.4" x2="259.3" y2="451.9" stroke="#000" stroke-width="1.35"/>
<text transform="translate(257.4,494.6) scale(0.925,1)" text-anchor="middle" font-size="28.6" fill="#1c1c1c">May</text>
<line x1="365.5" y1="436.4" x2="365.5" y2="451.9" stroke="#000" stroke-width="1.35"/>
<text transform="translate(366.0,494.6) scale(0.925,1)" text-anchor="middle" font-size="28.6" fill="#1c1c1c">Jul</text>
<line x1="473.5" y1="436.4" x2="473.5" y2="451.9" stroke="#000" stroke-width="1.35"/>
<text transform="translate(473.2,494.6) scale(0.925,1)" text-anchor="middle" font-size="28.6" fill="#1c1c1c">Sep</text>
<line x1="579.7" y1="436.4" x2="579.7" y2="451.9" stroke="#000" stroke-width="1.35"/>
<text transform="translate(579.0,494.6) scale(0.925,1)" text-anchor="middle" font-size="28.6" fill="#1c1c1c">Nov</text>
<line x1="686.0" y1="436.4" x2="686.0" y2="451.9" stroke="#000" stroke-width="1.35"/>
<text transform="translate(685.7,494.6) scale(0.925,1)" text-anchor="middle" font-size="28.6" fill="#1c1c1c">Jan</text>
<line x1="788.7" y1="436.4" x2="788.7" y2="451.9" stroke="#000" stroke-width="1.35"/>
<text transform="translate(787.3,494.6) scale(0.925,1)" text-anchor="middle" font-size="28.6" fill="#1c1c1c">Mar</text>
<text transform="translate(470.9,560.5) scale(0.97,1)" text-anchor="middle" font-size="28.6" fill="#1c1c1c">Date</text>
<text transform="translate(26.4,220.0) rotate(-90)" text-anchor="middle" font-size="28.6" fill="#1c1c1c" textLength="273.6" lengthAdjust="spacingAndGlyphs">Change in mobility (%)</text>
<line x1="812.2" y1="33.2" x2="812.2" y2="419.7" stroke="#4682b4" stroke-width="1.35"/>
<line x1="812.2" y1="419.7" x2="829.5" y2="419.7" stroke="#4682b4" stroke-width="1.35"/>
<text transform="translate(845.5,432.7) scale(0.94,1)" font-size="28.6" fill="#4682b4">0</text>
<line x1="812.2" y1="355.3" x2="829.5" y2="355.3" stroke="#4682b4" stroke-width="1.35"/>
<text transform="translate(845.5,368.3) scale(0.94,1)" font-size="28.6" fill="#4682b4">200</text>
<line x1="812.2" y1="290.9" x2="829.5" y2="290.9" stroke="#4682b4" stroke-width="1.35"/>
<text transform="translate(845.5,303.9) scale(0.94,1)" font-size="28.6" fill="#4682b4">400</text>
<line x1="812.2" y1="226.4" x2="829.5" y2="226.4" stroke="#4682b4" stroke-width="1.35"/>
<text transform="translate(845.5,239.4) scale(0.94,1)" font-size="28.6" fill="#4682b4">600</text>
<line x1="812.2" y1="162.0" x2="829.5" y2="162.0" stroke="#4682b4" stroke-width="1.35"/>
<text transform="translate(845.5,175.0) scale(0.94,1)" font-size="28.6" fill="#4682b4">800</text>
<line x1="812.2" y1="97.6" x2="829.5" y2="97.6" stroke="#4682b4" stroke-width="1.35"/>
<text transform="translate(845.5,110.6) scale(0.94,1)" font-size="28.6" fill="#4682b4">1000</text>
<line x1="812.2" y1="33.2" x2="829.5" y2="33.2" stroke="#4682b4" stroke-width="1.35"/>
<text transform="translate(845.5,46.2) scale(0.94,1)" font-size="28.6" fill="#4682b4">1200</text>
<text transform="translate(969.6,221.0) rotate(-90)" text-anchor="middle" font-size="28.6" fill="#4682b4" textLength="329.4" lengthAdjust="spacingAndGlyphs">Daily new COVID-19 cases</text>
<rect x="128.3" y="4.4" width="361.2" height="77.5" fill="#fff" stroke="#000" stroke-width="1.35"/>
<line x1="148.2" y1="30.5" x2="187.4" y2="30.5" stroke="#bebebe" stroke-width="2.8" stroke-linecap="butt"/>
<line x1="149.2" y1="56.7" x2="186.4" y2="56.7" stroke="#ff0000" stroke-width="5.2" stroke-linecap="round"/>
<text x="204.5" y="40.7" font-size="23.3" fill="#1c1c1c" textLength="274.5" lengthAdjust="spacingAndGlyphs">District municipality mobility</text>
<text x="205.5" y="65.6" font-size="23.3" fill="#1c1c1c" textLength="159" lengthAdjust="spacingAndGlyphs">Average mobility</text>
</svg>
</body></html>
